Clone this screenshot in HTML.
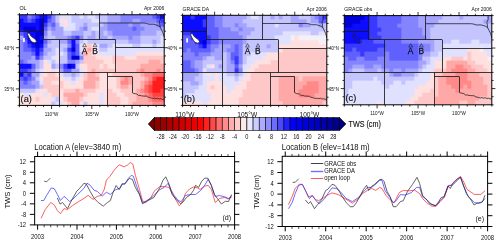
<!DOCTYPE html><html><head><meta charset="utf-8"><style>html,body{margin:0;padding:0;background:#fff;width:500px;height:246px;overflow:hidden}svg{display:block;will-change:transform}text{font-family:"Liberation Sans", sans-serif}</style></head><body>
<svg width="500" height="246" viewBox="0 0 500 246">
<svg x="19.4" y="14.75" width="144.79999999999998" height="90.65" viewBox="0 0 36 22" preserveAspectRatio="none" shape-rendering="crispEdges">
<rect x="0" y="0" width="1.02" height="1.02" fill="#3838ff"/>
<rect x="1" y="0" width="1.02" height="1.02" fill="#3838ff"/>
<rect x="2" y="0" width="1.02" height="1.02" fill="#8484ff"/>
<rect x="3" y="0" width="1.02" height="1.02" fill="#6060ff"/>
<rect x="4" y="0" width="1.02" height="1.02" fill="#3838ff"/>
<rect x="5" y="0" width="1.02" height="1.02" fill="#0c0cff"/>
<rect x="6" y="0" width="1.02" height="1.02" fill="#0c0cff"/>
<rect x="7" y="0" width="1.02" height="1.02" fill="#3838ff"/>
<rect x="8" y="0" width="1.02" height="1.02" fill="#8484ff"/>
<rect x="9" y="0" width="1.02" height="1.02" fill="#c4c4ff"/>
<rect x="10" y="0" width="1.02" height="1.02" fill="#e0e0ff"/>
<rect x="11" y="0" width="1.02" height="1.02" fill="#e0e0ff"/>
<rect x="12" y="0" width="1.02" height="1.02" fill="#e0e0ff"/>
<rect x="13" y="0" width="1.02" height="1.02" fill="#c4c4ff"/>
<rect x="14" y="0" width="1.02" height="1.02" fill="#c4c4ff"/>
<rect x="15" y="0" width="1.02" height="1.02" fill="#e0e0ff"/>
<rect x="16" y="0" width="1.02" height="1.02" fill="#c4c4ff"/>
<rect x="17" y="0" width="1.02" height="1.02" fill="#e0e0ff"/>
<rect x="18" y="0" width="1.02" height="1.02" fill="#e0e0ff"/>
<rect x="19" y="0" width="1.02" height="1.02" fill="#c4c4ff"/>
<rect x="20" y="0" width="1.02" height="1.02" fill="#c4c4ff"/>
<rect x="21" y="0" width="1.02" height="1.02" fill="#c4c4ff"/>
<rect x="22" y="0" width="1.02" height="1.02" fill="#a4a4ff"/>
<rect x="23" y="0" width="1.02" height="1.02" fill="#a4a4ff"/>
<rect x="24" y="0" width="1.02" height="1.02" fill="#a4a4ff"/>
<rect x="25" y="0" width="1.02" height="1.02" fill="#8484ff"/>
<rect x="26" y="0" width="1.02" height="1.02" fill="#8484ff"/>
<rect x="27" y="0" width="1.02" height="1.02" fill="#8484ff"/>
<rect x="28" y="0" width="1.02" height="1.02" fill="#8484ff"/>
<rect x="29" y="0" width="1.02" height="1.02" fill="#8484ff"/>
<rect x="30" y="0" width="1.02" height="1.02" fill="#8484ff"/>
<rect x="31" y="0" width="1.02" height="1.02" fill="#8484ff"/>
<rect x="32" y="0" width="1.02" height="1.02" fill="#8484ff"/>
<rect x="33" y="0" width="1.02" height="1.02" fill="#6060ff"/>
<rect x="34" y="0" width="1.02" height="1.02" fill="#3838ff"/>
<rect x="35" y="0" width="1.02" height="1.02" fill="#0c0cff"/>
<rect x="0" y="1" width="1.02" height="1.02" fill="#0c0cff"/>
<rect x="1" y="1" width="1.02" height="1.02" fill="#3838ff"/>
<rect x="2" y="1" width="1.02" height="1.02" fill="#6060ff"/>
<rect x="3" y="1" width="1.02" height="1.02" fill="#3838ff"/>
<rect x="4" y="1" width="1.02" height="1.02" fill="#0c0cff"/>
<rect x="5" y="1" width="1.02" height="1.02" fill="#0000d8"/>
<rect x="6" y="1" width="1.02" height="1.02" fill="#0c0cff"/>
<rect x="7" y="1" width="1.02" height="1.02" fill="#6060ff"/>
<rect x="8" y="1" width="1.02" height="1.02" fill="#8484ff"/>
<rect x="9" y="1" width="1.02" height="1.02" fill="#c4c4ff"/>
<rect x="10" y="1" width="1.02" height="1.02" fill="#ffe0e0"/>
<rect x="11" y="1" width="1.02" height="1.02" fill="#ffe0e0"/>
<rect x="12" y="1" width="1.02" height="1.02" fill="#e0e0ff"/>
<rect x="13" y="1" width="1.02" height="1.02" fill="#c4c4ff"/>
<rect x="14" y="1" width="1.02" height="1.02" fill="#c4c4ff"/>
<rect x="15" y="1" width="1.02" height="1.02" fill="#c4c4ff"/>
<rect x="16" y="1" width="1.02" height="1.02" fill="#c4c4ff"/>
<rect x="17" y="1" width="1.02" height="1.02" fill="#c4c4ff"/>
<rect x="18" y="1" width="1.02" height="1.02" fill="#e0e0ff"/>
<rect x="19" y="1" width="1.02" height="1.02" fill="#e0e0ff"/>
<rect x="20" y="1" width="1.02" height="1.02" fill="#c4c4ff"/>
<rect x="21" y="1" width="1.02" height="1.02" fill="#c4c4ff"/>
<rect x="22" y="1" width="1.02" height="1.02" fill="#a4a4ff"/>
<rect x="23" y="1" width="1.02" height="1.02" fill="#a4a4ff"/>
<rect x="24" y="1" width="1.02" height="1.02" fill="#a4a4ff"/>
<rect x="25" y="1" width="1.02" height="1.02" fill="#8484ff"/>
<rect x="26" y="1" width="1.02" height="1.02" fill="#8484ff"/>
<rect x="27" y="1" width="1.02" height="1.02" fill="#8484ff"/>
<rect x="28" y="1" width="1.02" height="1.02" fill="#a4a4ff"/>
<rect x="29" y="1" width="1.02" height="1.02" fill="#a4a4ff"/>
<rect x="30" y="1" width="1.02" height="1.02" fill="#8484ff"/>
<rect x="31" y="1" width="1.02" height="1.02" fill="#8484ff"/>
<rect x="32" y="1" width="1.02" height="1.02" fill="#8484ff"/>
<rect x="33" y="1" width="1.02" height="1.02" fill="#8484ff"/>
<rect x="34" y="1" width="1.02" height="1.02" fill="#6060ff"/>
<rect x="35" y="1" width="1.02" height="1.02" fill="#3838ff"/>
<rect x="0" y="2" width="1.02" height="1.02" fill="#0c0cff"/>
<rect x="1" y="2" width="1.02" height="1.02" fill="#0c0cff"/>
<rect x="2" y="2" width="1.02" height="1.02" fill="#0c0cff"/>
<rect x="3" y="2" width="1.02" height="1.02" fill="#0c0cff"/>
<rect x="4" y="2" width="1.02" height="1.02" fill="#0c0cff"/>
<rect x="5" y="2" width="1.02" height="1.02" fill="#0000d8"/>
<rect x="6" y="2" width="1.02" height="1.02" fill="#3838ff"/>
<rect x="7" y="2" width="1.02" height="1.02" fill="#8484ff"/>
<rect x="8" y="2" width="1.02" height="1.02" fill="#6060ff"/>
<rect x="9" y="2" width="1.02" height="1.02" fill="#a4a4ff"/>
<rect x="10" y="2" width="1.02" height="1.02" fill="#e0e0ff"/>
<rect x="11" y="2" width="1.02" height="1.02" fill="#ffe0e0"/>
<rect x="12" y="2" width="1.02" height="1.02" fill="#e0e0ff"/>
<rect x="13" y="2" width="1.02" height="1.02" fill="#e0e0ff"/>
<rect x="14" y="2" width="1.02" height="1.02" fill="#c4c4ff"/>
<rect x="15" y="2" width="1.02" height="1.02" fill="#c4c4ff"/>
<rect x="16" y="2" width="1.02" height="1.02" fill="#a4a4ff"/>
<rect x="17" y="2" width="1.02" height="1.02" fill="#c4c4ff"/>
<rect x="18" y="2" width="1.02" height="1.02" fill="#c4c4ff"/>
<rect x="19" y="2" width="1.02" height="1.02" fill="#c4c4ff"/>
<rect x="20" y="2" width="1.02" height="1.02" fill="#c4c4ff"/>
<rect x="21" y="2" width="1.02" height="1.02" fill="#a4a4ff"/>
<rect x="22" y="2" width="1.02" height="1.02" fill="#8484ff"/>
<rect x="23" y="2" width="1.02" height="1.02" fill="#8484ff"/>
<rect x="24" y="2" width="1.02" height="1.02" fill="#8484ff"/>
<rect x="25" y="2" width="1.02" height="1.02" fill="#8484ff"/>
<rect x="26" y="2" width="1.02" height="1.02" fill="#8484ff"/>
<rect x="27" y="2" width="1.02" height="1.02" fill="#a4a4ff"/>
<rect x="28" y="2" width="1.02" height="1.02" fill="#8484ff"/>
<rect x="29" y="2" width="1.02" height="1.02" fill="#8484ff"/>
<rect x="30" y="2" width="1.02" height="1.02" fill="#a4a4ff"/>
<rect x="31" y="2" width="1.02" height="1.02" fill="#a4a4ff"/>
<rect x="32" y="2" width="1.02" height="1.02" fill="#a4a4ff"/>
<rect x="33" y="2" width="1.02" height="1.02" fill="#a4a4ff"/>
<rect x="34" y="2" width="1.02" height="1.02" fill="#8484ff"/>
<rect x="35" y="2" width="1.02" height="1.02" fill="#6060ff"/>
<rect x="0" y="3" width="1.02" height="1.02" fill="#0c0cff"/>
<rect x="1" y="3" width="1.02" height="1.02" fill="#0000d8"/>
<rect x="2" y="3" width="1.02" height="1.02" fill="#0000d8"/>
<rect x="3" y="3" width="1.02" height="1.02" fill="#0000d8"/>
<rect x="4" y="3" width="1.02" height="1.02" fill="#0c0cff"/>
<rect x="5" y="3" width="1.02" height="1.02" fill="#0000d8"/>
<rect x="6" y="3" width="1.02" height="1.02" fill="#6060ff"/>
<rect x="7" y="3" width="1.02" height="1.02" fill="#a4a4ff"/>
<rect x="8" y="3" width="1.02" height="1.02" fill="#8484ff"/>
<rect x="9" y="3" width="1.02" height="1.02" fill="#a4a4ff"/>
<rect x="10" y="3" width="1.02" height="1.02" fill="#a4a4ff"/>
<rect x="11" y="3" width="1.02" height="1.02" fill="#e0e0ff"/>
<rect x="12" y="3" width="1.02" height="1.02" fill="#e0e0ff"/>
<rect x="13" y="3" width="1.02" height="1.02" fill="#e0e0ff"/>
<rect x="14" y="3" width="1.02" height="1.02" fill="#c4c4ff"/>
<rect x="15" y="3" width="1.02" height="1.02" fill="#a4a4ff"/>
<rect x="16" y="3" width="1.02" height="1.02" fill="#8484ff"/>
<rect x="17" y="3" width="1.02" height="1.02" fill="#c4c4ff"/>
<rect x="18" y="3" width="1.02" height="1.02" fill="#e0e0ff"/>
<rect x="19" y="3" width="1.02" height="1.02" fill="#e0e0ff"/>
<rect x="20" y="3" width="1.02" height="1.02" fill="#a4a4ff"/>
<rect x="21" y="3" width="1.02" height="1.02" fill="#a4a4ff"/>
<rect x="22" y="3" width="1.02" height="1.02" fill="#8484ff"/>
<rect x="23" y="3" width="1.02" height="1.02" fill="#8484ff"/>
<rect x="24" y="3" width="1.02" height="1.02" fill="#8484ff"/>
<rect x="25" y="3" width="1.02" height="1.02" fill="#8484ff"/>
<rect x="26" y="3" width="1.02" height="1.02" fill="#8484ff"/>
<rect x="27" y="3" width="1.02" height="1.02" fill="#8484ff"/>
<rect x="28" y="3" width="1.02" height="1.02" fill="#6060ff"/>
<rect x="29" y="3" width="1.02" height="1.02" fill="#8484ff"/>
<rect x="30" y="3" width="1.02" height="1.02" fill="#8484ff"/>
<rect x="31" y="3" width="1.02" height="1.02" fill="#a4a4ff"/>
<rect x="32" y="3" width="1.02" height="1.02" fill="#a4a4ff"/>
<rect x="33" y="3" width="1.02" height="1.02" fill="#a4a4ff"/>
<rect x="34" y="3" width="1.02" height="1.02" fill="#a4a4ff"/>
<rect x="35" y="3" width="1.02" height="1.02" fill="#a4a4ff"/>
<rect x="0" y="4" width="1.02" height="1.02" fill="#6060ff"/>
<rect x="1" y="4" width="1.02" height="1.02" fill="#3838ff"/>
<rect x="2" y="4" width="1.02" height="1.02" fill="#0c0cff"/>
<rect x="3" y="4" width="1.02" height="1.02" fill="#0c0cff"/>
<rect x="4" y="4" width="1.02" height="1.02" fill="#0000d8"/>
<rect x="5" y="4" width="1.02" height="1.02" fill="#0000d8"/>
<rect x="6" y="4" width="1.02" height="1.02" fill="#8484ff"/>
<rect x="7" y="4" width="1.02" height="1.02" fill="#c4c4ff"/>
<rect x="8" y="4" width="1.02" height="1.02" fill="#a4a4ff"/>
<rect x="9" y="4" width="1.02" height="1.02" fill="#a4a4ff"/>
<rect x="10" y="4" width="1.02" height="1.02" fill="#a4a4ff"/>
<rect x="11" y="4" width="1.02" height="1.02" fill="#c4c4ff"/>
<rect x="12" y="4" width="1.02" height="1.02" fill="#c4c4ff"/>
<rect x="13" y="4" width="1.02" height="1.02" fill="#a4a4ff"/>
<rect x="14" y="4" width="1.02" height="1.02" fill="#a4a4ff"/>
<rect x="15" y="4" width="1.02" height="1.02" fill="#a4a4ff"/>
<rect x="16" y="4" width="1.02" height="1.02" fill="#c4c4ff"/>
<rect x="17" y="4" width="1.02" height="1.02" fill="#c4c4ff"/>
<rect x="18" y="4" width="1.02" height="1.02" fill="#a4a4ff"/>
<rect x="19" y="4" width="1.02" height="1.02" fill="#c4c4ff"/>
<rect x="20" y="4" width="1.02" height="1.02" fill="#a4a4ff"/>
<rect x="21" y="4" width="1.02" height="1.02" fill="#c4c4ff"/>
<rect x="22" y="4" width="1.02" height="1.02" fill="#a4a4ff"/>
<rect x="23" y="4" width="1.02" height="1.02" fill="#8484ff"/>
<rect x="24" y="4" width="1.02" height="1.02" fill="#8484ff"/>
<rect x="25" y="4" width="1.02" height="1.02" fill="#8484ff"/>
<rect x="26" y="4" width="1.02" height="1.02" fill="#8484ff"/>
<rect x="27" y="4" width="1.02" height="1.02" fill="#8484ff"/>
<rect x="28" y="4" width="1.02" height="1.02" fill="#8484ff"/>
<rect x="29" y="4" width="1.02" height="1.02" fill="#8484ff"/>
<rect x="30" y="4" width="1.02" height="1.02" fill="#a4a4ff"/>
<rect x="31" y="4" width="1.02" height="1.02" fill="#a4a4ff"/>
<rect x="32" y="4" width="1.02" height="1.02" fill="#a4a4ff"/>
<rect x="33" y="4" width="1.02" height="1.02" fill="#a4a4ff"/>
<rect x="34" y="4" width="1.02" height="1.02" fill="#c4c4ff"/>
<rect x="35" y="4" width="1.02" height="1.02" fill="#c4c4ff"/>
<rect x="0" y="5" width="1.02" height="1.02" fill="#a4a4ff"/>
<rect x="1" y="5" width="1.02" height="1.02" fill="#3838ff"/>
<rect x="2" y="5" width="1.02" height="1.02" fill="#0c0cff"/>
<rect x="3" y="5" width="1.02" height="1.02" fill="#0c0cff"/>
<rect x="4" y="5" width="1.02" height="1.02" fill="#0000d8"/>
<rect x="5" y="5" width="1.02" height="1.02" fill="#0c0cff"/>
<rect x="6" y="5" width="1.02" height="1.02" fill="#a4a4ff"/>
<rect x="7" y="5" width="1.02" height="1.02" fill="#c4c4ff"/>
<rect x="8" y="5" width="1.02" height="1.02" fill="#c4c4ff"/>
<rect x="9" y="5" width="1.02" height="1.02" fill="#a4a4ff"/>
<rect x="10" y="5" width="1.02" height="1.02" fill="#a4a4ff"/>
<rect x="11" y="5" width="1.02" height="1.02" fill="#a4a4ff"/>
<rect x="12" y="5" width="1.02" height="1.02" fill="#8484ff"/>
<rect x="13" y="5" width="1.02" height="1.02" fill="#6060ff"/>
<rect x="14" y="5" width="1.02" height="1.02" fill="#3838ff"/>
<rect x="15" y="5" width="1.02" height="1.02" fill="#8484ff"/>
<rect x="16" y="5" width="1.02" height="1.02" fill="#c4c4ff"/>
<rect x="17" y="5" width="1.02" height="1.02" fill="#a4a4ff"/>
<rect x="18" y="5" width="1.02" height="1.02" fill="#a4a4ff"/>
<rect x="19" y="5" width="1.02" height="1.02" fill="#c4c4ff"/>
<rect x="20" y="5" width="1.02" height="1.02" fill="#a4a4ff"/>
<rect x="21" y="5" width="1.02" height="1.02" fill="#a4a4ff"/>
<rect x="22" y="5" width="1.02" height="1.02" fill="#c4c4ff"/>
<rect x="23" y="5" width="1.02" height="1.02" fill="#a4a4ff"/>
<rect x="24" y="5" width="1.02" height="1.02" fill="#a4a4ff"/>
<rect x="25" y="5" width="1.02" height="1.02" fill="#a4a4ff"/>
<rect x="26" y="5" width="1.02" height="1.02" fill="#a4a4ff"/>
<rect x="27" y="5" width="1.02" height="1.02" fill="#8484ff"/>
<rect x="28" y="5" width="1.02" height="1.02" fill="#a4a4ff"/>
<rect x="29" y="5" width="1.02" height="1.02" fill="#a4a4ff"/>
<rect x="30" y="5" width="1.02" height="1.02" fill="#c4c4ff"/>
<rect x="31" y="5" width="1.02" height="1.02" fill="#c4c4ff"/>
<rect x="32" y="5" width="1.02" height="1.02" fill="#c4c4ff"/>
<rect x="33" y="5" width="1.02" height="1.02" fill="#c4c4ff"/>
<rect x="34" y="5" width="1.02" height="1.02" fill="#c4c4ff"/>
<rect x="35" y="5" width="1.02" height="1.02" fill="#e0e0ff"/>
<rect x="0" y="6" width="1.02" height="1.02" fill="#8484ff"/>
<rect x="1" y="6" width="1.02" height="1.02" fill="#6060ff"/>
<rect x="2" y="6" width="1.02" height="1.02" fill="#0c0cff"/>
<rect x="3" y="6" width="1.02" height="1.02" fill="#0000d8"/>
<rect x="4" y="6" width="1.02" height="1.02" fill="#0000d8"/>
<rect x="5" y="6" width="1.02" height="1.02" fill="#0000d8"/>
<rect x="6" y="6" width="1.02" height="1.02" fill="#6060ff"/>
<rect x="7" y="6" width="1.02" height="1.02" fill="#a4a4ff"/>
<rect x="8" y="6" width="1.02" height="1.02" fill="#c4c4ff"/>
<rect x="9" y="6" width="1.02" height="1.02" fill="#c4c4ff"/>
<rect x="10" y="6" width="1.02" height="1.02" fill="#a4a4ff"/>
<rect x="11" y="6" width="1.02" height="1.02" fill="#a4a4ff"/>
<rect x="12" y="6" width="1.02" height="1.02" fill="#6060ff"/>
<rect x="13" y="6" width="1.02" height="1.02" fill="#0c0cff"/>
<rect x="14" y="6" width="1.02" height="1.02" fill="#8484ff"/>
<rect x="15" y="6" width="1.02" height="1.02" fill="#c4c4ff"/>
<rect x="16" y="6" width="1.02" height="1.02" fill="#e0e0ff"/>
<rect x="17" y="6" width="1.02" height="1.02" fill="#c4c4ff"/>
<rect x="18" y="6" width="1.02" height="1.02" fill="#c4c4ff"/>
<rect x="19" y="6" width="1.02" height="1.02" fill="#c4c4ff"/>
<rect x="20" y="6" width="1.02" height="1.02" fill="#c4c4ff"/>
<rect x="21" y="6" width="1.02" height="1.02" fill="#c4c4ff"/>
<rect x="22" y="6" width="1.02" height="1.02" fill="#c4c4ff"/>
<rect x="23" y="6" width="1.02" height="1.02" fill="#c4c4ff"/>
<rect x="24" y="6" width="1.02" height="1.02" fill="#c4c4ff"/>
<rect x="25" y="6" width="1.02" height="1.02" fill="#c4c4ff"/>
<rect x="26" y="6" width="1.02" height="1.02" fill="#c4c4ff"/>
<rect x="27" y="6" width="1.02" height="1.02" fill="#a4a4ff"/>
<rect x="28" y="6" width="1.02" height="1.02" fill="#a4a4ff"/>
<rect x="29" y="6" width="1.02" height="1.02" fill="#a4a4ff"/>
<rect x="30" y="6" width="1.02" height="1.02" fill="#c4c4ff"/>
<rect x="31" y="6" width="1.02" height="1.02" fill="#c4c4ff"/>
<rect x="32" y="6" width="1.02" height="1.02" fill="#c4c4ff"/>
<rect x="33" y="6" width="1.02" height="1.02" fill="#a4a4ff"/>
<rect x="34" y="6" width="1.02" height="1.02" fill="#c4c4ff"/>
<rect x="35" y="6" width="1.02" height="1.02" fill="#e0e0ff"/>
<rect x="0" y="7" width="1.02" height="1.02" fill="#8484ff"/>
<rect x="1" y="7" width="1.02" height="1.02" fill="#6060ff"/>
<rect x="2" y="7" width="1.02" height="1.02" fill="#3838ff"/>
<rect x="3" y="7" width="1.02" height="1.02" fill="#0c0cff"/>
<rect x="4" y="7" width="1.02" height="1.02" fill="#0000d8"/>
<rect x="5" y="7" width="1.02" height="1.02" fill="#0c0cff"/>
<rect x="6" y="7" width="1.02" height="1.02" fill="#8484ff"/>
<rect x="7" y="7" width="1.02" height="1.02" fill="#c4c4ff"/>
<rect x="8" y="7" width="1.02" height="1.02" fill="#c4c4ff"/>
<rect x="9" y="7" width="1.02" height="1.02" fill="#c4c4ff"/>
<rect x="10" y="7" width="1.02" height="1.02" fill="#c4c4ff"/>
<rect x="11" y="7" width="1.02" height="1.02" fill="#c4c4ff"/>
<rect x="12" y="7" width="1.02" height="1.02" fill="#8484ff"/>
<rect x="13" y="7" width="1.02" height="1.02" fill="#0c0cff"/>
<rect x="14" y="7" width="1.02" height="1.02" fill="#6060ff"/>
<rect x="15" y="7" width="1.02" height="1.02" fill="#e0e0ff"/>
<rect x="16" y="7" width="1.02" height="1.02" fill="#ffe0e0"/>
<rect x="17" y="7" width="1.02" height="1.02" fill="#ffc8c8"/>
<rect x="18" y="7" width="1.02" height="1.02" fill="#ffe0e0"/>
<rect x="19" y="7" width="1.02" height="1.02" fill="#e0e0ff"/>
<rect x="20" y="7" width="1.02" height="1.02" fill="#a4a4ff"/>
<rect x="21" y="7" width="1.02" height="1.02" fill="#a4a4ff"/>
<rect x="22" y="7" width="1.02" height="1.02" fill="#c4c4ff"/>
<rect x="23" y="7" width="1.02" height="1.02" fill="#e0e0ff"/>
<rect x="24" y="7" width="1.02" height="1.02" fill="#e0e0ff"/>
<rect x="25" y="7" width="1.02" height="1.02" fill="#e0e0ff"/>
<rect x="26" y="7" width="1.02" height="1.02" fill="#e0e0ff"/>
<rect x="27" y="7" width="1.02" height="1.02" fill="#e0e0ff"/>
<rect x="28" y="7" width="1.02" height="1.02" fill="#c4c4ff"/>
<rect x="29" y="7" width="1.02" height="1.02" fill="#c4c4ff"/>
<rect x="30" y="7" width="1.02" height="1.02" fill="#e0e0ff"/>
<rect x="31" y="7" width="1.02" height="1.02" fill="#e0e0ff"/>
<rect x="32" y="7" width="1.02" height="1.02" fill="#e0e0ff"/>
<rect x="33" y="7" width="1.02" height="1.02" fill="#c4c4ff"/>
<rect x="34" y="7" width="1.02" height="1.02" fill="#e0e0ff"/>
<rect x="35" y="7" width="1.02" height="1.02" fill="#e0e0ff"/>
<rect x="0" y="8" width="1.02" height="1.02" fill="#8484ff"/>
<rect x="1" y="8" width="1.02" height="1.02" fill="#6060ff"/>
<rect x="2" y="8" width="1.02" height="1.02" fill="#6060ff"/>
<rect x="3" y="8" width="1.02" height="1.02" fill="#3838ff"/>
<rect x="4" y="8" width="1.02" height="1.02" fill="#0c0cff"/>
<rect x="5" y="8" width="1.02" height="1.02" fill="#3838ff"/>
<rect x="6" y="8" width="1.02" height="1.02" fill="#a4a4ff"/>
<rect x="7" y="8" width="1.02" height="1.02" fill="#a4a4ff"/>
<rect x="8" y="8" width="1.02" height="1.02" fill="#c4c4ff"/>
<rect x="9" y="8" width="1.02" height="1.02" fill="#e0e0ff"/>
<rect x="10" y="8" width="1.02" height="1.02" fill="#c4c4ff"/>
<rect x="11" y="8" width="1.02" height="1.02" fill="#a4a4ff"/>
<rect x="12" y="8" width="1.02" height="1.02" fill="#3838ff"/>
<rect x="13" y="8" width="1.02" height="1.02" fill="#0000d8"/>
<rect x="14" y="8" width="1.02" height="1.02" fill="#6060ff"/>
<rect x="15" y="8" width="1.02" height="1.02" fill="#e0e0ff"/>
<rect x="16" y="8" width="1.02" height="1.02" fill="#ffc8c8"/>
<rect x="17" y="8" width="1.02" height="1.02" fill="#ffa8a8"/>
<rect x="18" y="8" width="1.02" height="1.02" fill="#ffe0e0"/>
<rect x="19" y="8" width="1.02" height="1.02" fill="#e0e0ff"/>
<rect x="20" y="8" width="1.02" height="1.02" fill="#c4c4ff"/>
<rect x="21" y="8" width="1.02" height="1.02" fill="#c4c4ff"/>
<rect x="22" y="8" width="1.02" height="1.02" fill="#e0e0ff"/>
<rect x="23" y="8" width="1.02" height="1.02" fill="#e0e0ff"/>
<rect x="24" y="8" width="1.02" height="1.02" fill="#e0e0ff"/>
<rect x="25" y="8" width="1.02" height="1.02" fill="#e0e0ff"/>
<rect x="26" y="8" width="1.02" height="1.02" fill="#e0e0ff"/>
<rect x="27" y="8" width="1.02" height="1.02" fill="#e0e0ff"/>
<rect x="28" y="8" width="1.02" height="1.02" fill="#e0e0ff"/>
<rect x="29" y="8" width="1.02" height="1.02" fill="#e0e0ff"/>
<rect x="30" y="8" width="1.02" height="1.02" fill="#e0e0ff"/>
<rect x="31" y="8" width="1.02" height="1.02" fill="#e0e0ff"/>
<rect x="32" y="8" width="1.02" height="1.02" fill="#e0e0ff"/>
<rect x="33" y="8" width="1.02" height="1.02" fill="#e0e0ff"/>
<rect x="34" y="8" width="1.02" height="1.02" fill="#e0e0ff"/>
<rect x="35" y="8" width="1.02" height="1.02" fill="#e0e0ff"/>
<rect x="0" y="9" width="1.02" height="1.02" fill="#8484ff"/>
<rect x="1" y="9" width="1.02" height="1.02" fill="#8484ff"/>
<rect x="2" y="9" width="1.02" height="1.02" fill="#8484ff"/>
<rect x="3" y="9" width="1.02" height="1.02" fill="#6060ff"/>
<rect x="4" y="9" width="1.02" height="1.02" fill="#0c0cff"/>
<rect x="5" y="9" width="1.02" height="1.02" fill="#6060ff"/>
<rect x="6" y="9" width="1.02" height="1.02" fill="#a4a4ff"/>
<rect x="7" y="9" width="1.02" height="1.02" fill="#c4c4ff"/>
<rect x="8" y="9" width="1.02" height="1.02" fill="#c4c4ff"/>
<rect x="9" y="9" width="1.02" height="1.02" fill="#e0e0ff"/>
<rect x="10" y="9" width="1.02" height="1.02" fill="#e0e0ff"/>
<rect x="11" y="9" width="1.02" height="1.02" fill="#c4c4ff"/>
<rect x="12" y="9" width="1.02" height="1.02" fill="#6060ff"/>
<rect x="13" y="9" width="1.02" height="1.02" fill="#3838ff"/>
<rect x="14" y="9" width="1.02" height="1.02" fill="#6060ff"/>
<rect x="15" y="9" width="1.02" height="1.02" fill="#c4c4ff"/>
<rect x="16" y="9" width="1.02" height="1.02" fill="#ffa8a8"/>
<rect x="17" y="9" width="1.02" height="1.02" fill="#ffc8c8"/>
<rect x="18" y="9" width="1.02" height="1.02" fill="#ffe0e0"/>
<rect x="19" y="9" width="1.02" height="1.02" fill="#ffe0e0"/>
<rect x="20" y="9" width="1.02" height="1.02" fill="#e0e0ff"/>
<rect x="21" y="9" width="1.02" height="1.02" fill="#e0e0ff"/>
<rect x="22" y="9" width="1.02" height="1.02" fill="#e0e0ff"/>
<rect x="23" y="9" width="1.02" height="1.02" fill="#e0e0ff"/>
<rect x="24" y="9" width="1.02" height="1.02" fill="#e0e0ff"/>
<rect x="25" y="9" width="1.02" height="1.02" fill="#e0e0ff"/>
<rect x="26" y="9" width="1.02" height="1.02" fill="#e0e0ff"/>
<rect x="27" y="9" width="1.02" height="1.02" fill="#e0e0ff"/>
<rect x="28" y="9" width="1.02" height="1.02" fill="#e0e0ff"/>
<rect x="29" y="9" width="1.02" height="1.02" fill="#ffe0e0"/>
<rect x="30" y="9" width="1.02" height="1.02" fill="#ffe0e0"/>
<rect x="31" y="9" width="1.02" height="1.02" fill="#ffe0e0"/>
<rect x="32" y="9" width="1.02" height="1.02" fill="#ffe0e0"/>
<rect x="33" y="9" width="1.02" height="1.02" fill="#ffe0e0"/>
<rect x="34" y="9" width="1.02" height="1.02" fill="#ffe0e0"/>
<rect x="35" y="9" width="1.02" height="1.02" fill="#ffe0e0"/>
<rect x="0" y="10" width="1.02" height="1.02" fill="#8484ff"/>
<rect x="1" y="10" width="1.02" height="1.02" fill="#8484ff"/>
<rect x="2" y="10" width="1.02" height="1.02" fill="#8484ff"/>
<rect x="3" y="10" width="1.02" height="1.02" fill="#a4a4ff"/>
<rect x="4" y="10" width="1.02" height="1.02" fill="#3838ff"/>
<rect x="5" y="10" width="1.02" height="1.02" fill="#8484ff"/>
<rect x="6" y="10" width="1.02" height="1.02" fill="#c4c4ff"/>
<rect x="7" y="10" width="1.02" height="1.02" fill="#c4c4ff"/>
<rect x="8" y="10" width="1.02" height="1.02" fill="#e0e0ff"/>
<rect x="9" y="10" width="1.02" height="1.02" fill="#ffe0e0"/>
<rect x="10" y="10" width="1.02" height="1.02" fill="#c4c4ff"/>
<rect x="11" y="10" width="1.02" height="1.02" fill="#c4c4ff"/>
<rect x="12" y="10" width="1.02" height="1.02" fill="#6060ff"/>
<rect x="13" y="10" width="1.02" height="1.02" fill="#0000d8"/>
<rect x="14" y="10" width="1.02" height="1.02" fill="#0000d8"/>
<rect x="15" y="10" width="1.02" height="1.02" fill="#8484ff"/>
<rect x="16" y="10" width="1.02" height="1.02" fill="#ffc8c8"/>
<rect x="17" y="10" width="1.02" height="1.02" fill="#ffc8c8"/>
<rect x="18" y="10" width="1.02" height="1.02" fill="#ffc8c8"/>
<rect x="19" y="10" width="1.02" height="1.02" fill="#ffe0e0"/>
<rect x="20" y="10" width="1.02" height="1.02" fill="#ffe0e0"/>
<rect x="21" y="10" width="1.02" height="1.02" fill="#ffe0e0"/>
<rect x="22" y="10" width="1.02" height="1.02" fill="#ffe0e0"/>
<rect x="23" y="10" width="1.02" height="1.02" fill="#ffc8c8"/>
<rect x="24" y="10" width="1.02" height="1.02" fill="#ffc8c8"/>
<rect x="25" y="10" width="1.02" height="1.02" fill="#ffc8c8"/>
<rect x="26" y="10" width="1.02" height="1.02" fill="#ffe0e0"/>
<rect x="27" y="10" width="1.02" height="1.02" fill="#ffe0e0"/>
<rect x="28" y="10" width="1.02" height="1.02" fill="#ffe0e0"/>
<rect x="29" y="10" width="1.02" height="1.02" fill="#ffc8c8"/>
<rect x="30" y="10" width="1.02" height="1.02" fill="#ffc8c8"/>
<rect x="31" y="10" width="1.02" height="1.02" fill="#ffc8c8"/>
<rect x="32" y="10" width="1.02" height="1.02" fill="#ffc8c8"/>
<rect x="33" y="10" width="1.02" height="1.02" fill="#ffc8c8"/>
<rect x="34" y="10" width="1.02" height="1.02" fill="#ffc8c8"/>
<rect x="35" y="10" width="1.02" height="1.02" fill="#ffc8c8"/>
<rect x="0" y="11" width="1.02" height="1.02" fill="#6060ff"/>
<rect x="1" y="11" width="1.02" height="1.02" fill="#8484ff"/>
<rect x="2" y="11" width="1.02" height="1.02" fill="#a4a4ff"/>
<rect x="3" y="11" width="1.02" height="1.02" fill="#a4a4ff"/>
<rect x="4" y="11" width="1.02" height="1.02" fill="#a4a4ff"/>
<rect x="5" y="11" width="1.02" height="1.02" fill="#c4c4ff"/>
<rect x="6" y="11" width="1.02" height="1.02" fill="#ffe0e0"/>
<rect x="7" y="11" width="1.02" height="1.02" fill="#e0e0ff"/>
<rect x="8" y="11" width="1.02" height="1.02" fill="#c4c4ff"/>
<rect x="9" y="11" width="1.02" height="1.02" fill="#e0e0ff"/>
<rect x="10" y="11" width="1.02" height="1.02" fill="#c4c4ff"/>
<rect x="11" y="11" width="1.02" height="1.02" fill="#c4c4ff"/>
<rect x="12" y="11" width="1.02" height="1.02" fill="#8484ff"/>
<rect x="13" y="11" width="1.02" height="1.02" fill="#8484ff"/>
<rect x="14" y="11" width="1.02" height="1.02" fill="#a4a4ff"/>
<rect x="15" y="11" width="1.02" height="1.02" fill="#c4c4ff"/>
<rect x="16" y="11" width="1.02" height="1.02" fill="#ffc8c8"/>
<rect x="17" y="11" width="1.02" height="1.02" fill="#ffc8c8"/>
<rect x="18" y="11" width="1.02" height="1.02" fill="#ffc8c8"/>
<rect x="19" y="11" width="1.02" height="1.02" fill="#ffc8c8"/>
<rect x="20" y="11" width="1.02" height="1.02" fill="#ffc8c8"/>
<rect x="21" y="11" width="1.02" height="1.02" fill="#ffe0e0"/>
<rect x="22" y="11" width="1.02" height="1.02" fill="#ffe0e0"/>
<rect x="23" y="11" width="1.02" height="1.02" fill="#ffc8c8"/>
<rect x="24" y="11" width="1.02" height="1.02" fill="#ffc8c8"/>
<rect x="25" y="11" width="1.02" height="1.02" fill="#ffc8c8"/>
<rect x="26" y="11" width="1.02" height="1.02" fill="#ffc8c8"/>
<rect x="27" y="11" width="1.02" height="1.02" fill="#ffc8c8"/>
<rect x="28" y="11" width="1.02" height="1.02" fill="#ffc8c8"/>
<rect x="29" y="11" width="1.02" height="1.02" fill="#ffc8c8"/>
<rect x="30" y="11" width="1.02" height="1.02" fill="#ffc8c8"/>
<rect x="31" y="11" width="1.02" height="1.02" fill="#ffc8c8"/>
<rect x="32" y="11" width="1.02" height="1.02" fill="#ffa8a8"/>
<rect x="33" y="11" width="1.02" height="1.02" fill="#ffa8a8"/>
<rect x="34" y="11" width="1.02" height="1.02" fill="#ffa8a8"/>
<rect x="35" y="11" width="1.02" height="1.02" fill="#ffc8c8"/>
<rect x="0" y="12" width="1.02" height="1.02" fill="#0c0cff"/>
<rect x="1" y="12" width="1.02" height="1.02" fill="#0c0cff"/>
<rect x="2" y="12" width="1.02" height="1.02" fill="#0c0cff"/>
<rect x="3" y="12" width="1.02" height="1.02" fill="#6060ff"/>
<rect x="4" y="12" width="1.02" height="1.02" fill="#a4a4ff"/>
<rect x="5" y="12" width="1.02" height="1.02" fill="#c4c4ff"/>
<rect x="6" y="12" width="1.02" height="1.02" fill="#ffe0e0"/>
<rect x="7" y="12" width="1.02" height="1.02" fill="#ffe0e0"/>
<rect x="8" y="12" width="1.02" height="1.02" fill="#a4a4ff"/>
<rect x="9" y="12" width="1.02" height="1.02" fill="#c4c4ff"/>
<rect x="10" y="12" width="1.02" height="1.02" fill="#8484ff"/>
<rect x="11" y="12" width="1.02" height="1.02" fill="#3838ff"/>
<rect x="12" y="12" width="1.02" height="1.02" fill="#0000d8"/>
<rect x="13" y="12" width="1.02" height="1.02" fill="#0c0cff"/>
<rect x="14" y="12" width="1.02" height="1.02" fill="#c4c4ff"/>
<rect x="15" y="12" width="1.02" height="1.02" fill="#ffe0e0"/>
<rect x="16" y="12" width="1.02" height="1.02" fill="#ffe0e0"/>
<rect x="17" y="12" width="1.02" height="1.02" fill="#ffc8c8"/>
<rect x="18" y="12" width="1.02" height="1.02" fill="#ffc8c8"/>
<rect x="19" y="12" width="1.02" height="1.02" fill="#ffc8c8"/>
<rect x="20" y="12" width="1.02" height="1.02" fill="#ffe0e0"/>
<rect x="21" y="12" width="1.02" height="1.02" fill="#ffc8c8"/>
<rect x="22" y="12" width="1.02" height="1.02" fill="#ffe0e0"/>
<rect x="23" y="12" width="1.02" height="1.02" fill="#ffe0e0"/>
<rect x="24" y="12" width="1.02" height="1.02" fill="#ffc8c8"/>
<rect x="25" y="12" width="1.02" height="1.02" fill="#ffc8c8"/>
<rect x="26" y="12" width="1.02" height="1.02" fill="#ffc8c8"/>
<rect x="27" y="12" width="1.02" height="1.02" fill="#ffc8c8"/>
<rect x="28" y="12" width="1.02" height="1.02" fill="#ffc8c8"/>
<rect x="29" y="12" width="1.02" height="1.02" fill="#ffc8c8"/>
<rect x="30" y="12" width="1.02" height="1.02" fill="#ffa8a8"/>
<rect x="31" y="12" width="1.02" height="1.02" fill="#ffa8a8"/>
<rect x="32" y="12" width="1.02" height="1.02" fill="#ffa8a8"/>
<rect x="33" y="12" width="1.02" height="1.02" fill="#ffa8a8"/>
<rect x="34" y="12" width="1.02" height="1.02" fill="#ffa8a8"/>
<rect x="35" y="12" width="1.02" height="1.02" fill="#ffa8a8"/>
<rect x="0" y="13" width="1.02" height="1.02" fill="#3838ff"/>
<rect x="1" y="13" width="1.02" height="1.02" fill="#3838ff"/>
<rect x="2" y="13" width="1.02" height="1.02" fill="#6060ff"/>
<rect x="3" y="13" width="1.02" height="1.02" fill="#8484ff"/>
<rect x="4" y="13" width="1.02" height="1.02" fill="#c4c4ff"/>
<rect x="5" y="13" width="1.02" height="1.02" fill="#e0e0ff"/>
<rect x="6" y="13" width="1.02" height="1.02" fill="#ffe0e0"/>
<rect x="7" y="13" width="1.02" height="1.02" fill="#ffe0e0"/>
<rect x="8" y="13" width="1.02" height="1.02" fill="#e0e0ff"/>
<rect x="9" y="13" width="1.02" height="1.02" fill="#ffe0e0"/>
<rect x="10" y="13" width="1.02" height="1.02" fill="#a4a4ff"/>
<rect x="11" y="13" width="1.02" height="1.02" fill="#6060ff"/>
<rect x="12" y="13" width="1.02" height="1.02" fill="#6060ff"/>
<rect x="13" y="13" width="1.02" height="1.02" fill="#a4a4ff"/>
<rect x="14" y="13" width="1.02" height="1.02" fill="#a4a4ff"/>
<rect x="15" y="13" width="1.02" height="1.02" fill="#e0e0ff"/>
<rect x="16" y="13" width="1.02" height="1.02" fill="#ffe0e0"/>
<rect x="17" y="13" width="1.02" height="1.02" fill="#ffc8c8"/>
<rect x="18" y="13" width="1.02" height="1.02" fill="#ffa8a8"/>
<rect x="19" y="13" width="1.02" height="1.02" fill="#ffc8c8"/>
<rect x="20" y="13" width="1.02" height="1.02" fill="#ffc8c8"/>
<rect x="21" y="13" width="1.02" height="1.02" fill="#ffc8c8"/>
<rect x="22" y="13" width="1.02" height="1.02" fill="#ffc8c8"/>
<rect x="23" y="13" width="1.02" height="1.02" fill="#ffc8c8"/>
<rect x="24" y="13" width="1.02" height="1.02" fill="#ffc8c8"/>
<rect x="25" y="13" width="1.02" height="1.02" fill="#ffc8c8"/>
<rect x="26" y="13" width="1.02" height="1.02" fill="#ffc8c8"/>
<rect x="27" y="13" width="1.02" height="1.02" fill="#ffc8c8"/>
<rect x="28" y="13" width="1.02" height="1.02" fill="#ffc8c8"/>
<rect x="29" y="13" width="1.02" height="1.02" fill="#ffa8a8"/>
<rect x="30" y="13" width="1.02" height="1.02" fill="#ff8888"/>
<rect x="31" y="13" width="1.02" height="1.02" fill="#ffa8a8"/>
<rect x="32" y="13" width="1.02" height="1.02" fill="#ffa8a8"/>
<rect x="33" y="13" width="1.02" height="1.02" fill="#ffa8a8"/>
<rect x="34" y="13" width="1.02" height="1.02" fill="#ff8888"/>
<rect x="35" y="13" width="1.02" height="1.02" fill="#ffa8a8"/>
<rect x="0" y="14" width="1.02" height="1.02" fill="#0c0cff"/>
<rect x="1" y="14" width="1.02" height="1.02" fill="#6060ff"/>
<rect x="2" y="14" width="1.02" height="1.02" fill="#3838ff"/>
<rect x="3" y="14" width="1.02" height="1.02" fill="#a4a4ff"/>
<rect x="4" y="14" width="1.02" height="1.02" fill="#a4a4ff"/>
<rect x="5" y="14" width="1.02" height="1.02" fill="#e0e0ff"/>
<rect x="6" y="14" width="1.02" height="1.02" fill="#ffe0e0"/>
<rect x="7" y="14" width="1.02" height="1.02" fill="#ffc8c8"/>
<rect x="8" y="14" width="1.02" height="1.02" fill="#ffc8c8"/>
<rect x="9" y="14" width="1.02" height="1.02" fill="#ffe0e0"/>
<rect x="10" y="14" width="1.02" height="1.02" fill="#e0e0ff"/>
<rect x="11" y="14" width="1.02" height="1.02" fill="#c4c4ff"/>
<rect x="12" y="14" width="1.02" height="1.02" fill="#c4c4ff"/>
<rect x="13" y="14" width="1.02" height="1.02" fill="#a4a4ff"/>
<rect x="14" y="14" width="1.02" height="1.02" fill="#c4c4ff"/>
<rect x="15" y="14" width="1.02" height="1.02" fill="#e0e0ff"/>
<rect x="16" y="14" width="1.02" height="1.02" fill="#ffc8c8"/>
<rect x="17" y="14" width="1.02" height="1.02" fill="#ffa8a8"/>
<rect x="18" y="14" width="1.02" height="1.02" fill="#ffa8a8"/>
<rect x="19" y="14" width="1.02" height="1.02" fill="#ffc8c8"/>
<rect x="20" y="14" width="1.02" height="1.02" fill="#ffe0e0"/>
<rect x="21" y="14" width="1.02" height="1.02" fill="#ffe0e0"/>
<rect x="22" y="14" width="1.02" height="1.02" fill="#ffe0e0"/>
<rect x="23" y="14" width="1.02" height="1.02" fill="#ffc8c8"/>
<rect x="24" y="14" width="1.02" height="1.02" fill="#ffc8c8"/>
<rect x="25" y="14" width="1.02" height="1.02" fill="#ffc8c8"/>
<rect x="26" y="14" width="1.02" height="1.02" fill="#ffc8c8"/>
<rect x="27" y="14" width="1.02" height="1.02" fill="#ffc8c8"/>
<rect x="28" y="14" width="1.02" height="1.02" fill="#ffc8c8"/>
<rect x="29" y="14" width="1.02" height="1.02" fill="#ffc8c8"/>
<rect x="30" y="14" width="1.02" height="1.02" fill="#ffa8a8"/>
<rect x="31" y="14" width="1.02" height="1.02" fill="#ff8888"/>
<rect x="32" y="14" width="1.02" height="1.02" fill="#ff8888"/>
<rect x="33" y="14" width="1.02" height="1.02" fill="#ff6868"/>
<rect x="34" y="14" width="1.02" height="1.02" fill="#ff6868"/>
<rect x="35" y="14" width="1.02" height="1.02" fill="#ff6868"/>
<rect x="0" y="15" width="1.02" height="1.02" fill="#6060ff"/>
<rect x="1" y="15" width="1.02" height="1.02" fill="#3838ff"/>
<rect x="2" y="15" width="1.02" height="1.02" fill="#6060ff"/>
<rect x="3" y="15" width="1.02" height="1.02" fill="#8484ff"/>
<rect x="4" y="15" width="1.02" height="1.02" fill="#c4c4ff"/>
<rect x="5" y="15" width="1.02" height="1.02" fill="#ffe0e0"/>
<rect x="6" y="15" width="1.02" height="1.02" fill="#ffc8c8"/>
<rect x="7" y="15" width="1.02" height="1.02" fill="#ffc8c8"/>
<rect x="8" y="15" width="1.02" height="1.02" fill="#ffc8c8"/>
<rect x="9" y="15" width="1.02" height="1.02" fill="#ffc8c8"/>
<rect x="10" y="15" width="1.02" height="1.02" fill="#ffe0e0"/>
<rect x="11" y="15" width="1.02" height="1.02" fill="#e0e0ff"/>
<rect x="12" y="15" width="1.02" height="1.02" fill="#e0e0ff"/>
<rect x="13" y="15" width="1.02" height="1.02" fill="#c4c4ff"/>
<rect x="14" y="15" width="1.02" height="1.02" fill="#e0e0ff"/>
<rect x="15" y="15" width="1.02" height="1.02" fill="#ffe0e0"/>
<rect x="16" y="15" width="1.02" height="1.02" fill="#ffc8c8"/>
<rect x="17" y="15" width="1.02" height="1.02" fill="#ffa8a8"/>
<rect x="18" y="15" width="1.02" height="1.02" fill="#ffa8a8"/>
<rect x="19" y="15" width="1.02" height="1.02" fill="#ffa8a8"/>
<rect x="20" y="15" width="1.02" height="1.02" fill="#ffe0e0"/>
<rect x="21" y="15" width="1.02" height="1.02" fill="#ffe0e0"/>
<rect x="22" y="15" width="1.02" height="1.02" fill="#ffe0e0"/>
<rect x="23" y="15" width="1.02" height="1.02" fill="#ffe0e0"/>
<rect x="24" y="15" width="1.02" height="1.02" fill="#ffc8c8"/>
<rect x="25" y="15" width="1.02" height="1.02" fill="#ffa8a8"/>
<rect x="26" y="15" width="1.02" height="1.02" fill="#ff8888"/>
<rect x="27" y="15" width="1.02" height="1.02" fill="#ffa8a8"/>
<rect x="28" y="15" width="1.02" height="1.02" fill="#ffc8c8"/>
<rect x="29" y="15" width="1.02" height="1.02" fill="#ffc8c8"/>
<rect x="30" y="15" width="1.02" height="1.02" fill="#ffc8c8"/>
<rect x="31" y="15" width="1.02" height="1.02" fill="#ffa8a8"/>
<rect x="32" y="15" width="1.02" height="1.02" fill="#ff8888"/>
<rect x="33" y="15" width="1.02" height="1.02" fill="#ff4444"/>
<rect x="34" y="15" width="1.02" height="1.02" fill="#ff1c1c"/>
<rect x="35" y="15" width="1.02" height="1.02" fill="#ff1c1c"/>
<rect x="0" y="16" width="1.02" height="1.02" fill="#8484ff"/>
<rect x="1" y="16" width="1.02" height="1.02" fill="#6060ff"/>
<rect x="2" y="16" width="1.02" height="1.02" fill="#8484ff"/>
<rect x="3" y="16" width="1.02" height="1.02" fill="#a4a4ff"/>
<rect x="4" y="16" width="1.02" height="1.02" fill="#a4a4ff"/>
<rect x="5" y="16" width="1.02" height="1.02" fill="#e0e0ff"/>
<rect x="6" y="16" width="1.02" height="1.02" fill="#ffc8c8"/>
<rect x="7" y="16" width="1.02" height="1.02" fill="#ffc8c8"/>
<rect x="8" y="16" width="1.02" height="1.02" fill="#ffe0e0"/>
<rect x="9" y="16" width="1.02" height="1.02" fill="#ffe0e0"/>
<rect x="10" y="16" width="1.02" height="1.02" fill="#ffc8c8"/>
<rect x="11" y="16" width="1.02" height="1.02" fill="#ffe0e0"/>
<rect x="12" y="16" width="1.02" height="1.02" fill="#ffe0e0"/>
<rect x="13" y="16" width="1.02" height="1.02" fill="#e0e0ff"/>
<rect x="14" y="16" width="1.02" height="1.02" fill="#ffe0e0"/>
<rect x="15" y="16" width="1.02" height="1.02" fill="#ffe0e0"/>
<rect x="16" y="16" width="1.02" height="1.02" fill="#ffa8a8"/>
<rect x="17" y="16" width="1.02" height="1.02" fill="#ffa8a8"/>
<rect x="18" y="16" width="1.02" height="1.02" fill="#ffa8a8"/>
<rect x="19" y="16" width="1.02" height="1.02" fill="#ffc8c8"/>
<rect x="20" y="16" width="1.02" height="1.02" fill="#ffe0e0"/>
<rect x="21" y="16" width="1.02" height="1.02" fill="#ffe0e0"/>
<rect x="22" y="16" width="1.02" height="1.02" fill="#ffe0e0"/>
<rect x="23" y="16" width="1.02" height="1.02" fill="#ffe0e0"/>
<rect x="24" y="16" width="1.02" height="1.02" fill="#ffc8c8"/>
<rect x="25" y="16" width="1.02" height="1.02" fill="#ff8888"/>
<rect x="26" y="16" width="1.02" height="1.02" fill="#ff8888"/>
<rect x="27" y="16" width="1.02" height="1.02" fill="#ffa8a8"/>
<rect x="28" y="16" width="1.02" height="1.02" fill="#ffc8c8"/>
<rect x="29" y="16" width="1.02" height="1.02" fill="#ffc8c8"/>
<rect x="30" y="16" width="1.02" height="1.02" fill="#ffa8a8"/>
<rect x="31" y="16" width="1.02" height="1.02" fill="#ff8888"/>
<rect x="32" y="16" width="1.02" height="1.02" fill="#ff6868"/>
<rect x="33" y="16" width="1.02" height="1.02" fill="#ff1c1c"/>
<rect x="34" y="16" width="1.02" height="1.02" fill="#ff1c1c"/>
<rect x="35" y="16" width="1.02" height="1.02" fill="#ff1c1c"/>
<rect x="0" y="17" width="1.02" height="1.02" fill="#8484ff"/>
<rect x="1" y="17" width="1.02" height="1.02" fill="#8484ff"/>
<rect x="2" y="17" width="1.02" height="1.02" fill="#8484ff"/>
<rect x="3" y="17" width="1.02" height="1.02" fill="#8484ff"/>
<rect x="4" y="17" width="1.02" height="1.02" fill="#a4a4ff"/>
<rect x="5" y="17" width="1.02" height="1.02" fill="#c4c4ff"/>
<rect x="6" y="17" width="1.02" height="1.02" fill="#ffc8c8"/>
<rect x="7" y="17" width="1.02" height="1.02" fill="#ffc8c8"/>
<rect x="8" y="17" width="1.02" height="1.02" fill="#ffc8c8"/>
<rect x="9" y="17" width="1.02" height="1.02" fill="#ffc8c8"/>
<rect x="10" y="17" width="1.02" height="1.02" fill="#ffc8c8"/>
<rect x="11" y="17" width="1.02" height="1.02" fill="#ffe0e0"/>
<rect x="12" y="17" width="1.02" height="1.02" fill="#ffe0e0"/>
<rect x="13" y="17" width="1.02" height="1.02" fill="#ffe0e0"/>
<rect x="14" y="17" width="1.02" height="1.02" fill="#ffe0e0"/>
<rect x="15" y="17" width="1.02" height="1.02" fill="#ffe0e0"/>
<rect x="16" y="17" width="1.02" height="1.02" fill="#ffa8a8"/>
<rect x="17" y="17" width="1.02" height="1.02" fill="#ffa8a8"/>
<rect x="18" y="17" width="1.02" height="1.02" fill="#ffa8a8"/>
<rect x="19" y="17" width="1.02" height="1.02" fill="#ffc8c8"/>
<rect x="20" y="17" width="1.02" height="1.02" fill="#ffe0e0"/>
<rect x="21" y="17" width="1.02" height="1.02" fill="#ffe0e0"/>
<rect x="22" y="17" width="1.02" height="1.02" fill="#ffe0e0"/>
<rect x="23" y="17" width="1.02" height="1.02" fill="#ffe0e0"/>
<rect x="24" y="17" width="1.02" height="1.02" fill="#ffc8c8"/>
<rect x="25" y="17" width="1.02" height="1.02" fill="#ffa8a8"/>
<rect x="26" y="17" width="1.02" height="1.02" fill="#ffa8a8"/>
<rect x="27" y="17" width="1.02" height="1.02" fill="#ffc8c8"/>
<rect x="28" y="17" width="1.02" height="1.02" fill="#ffc8c8"/>
<rect x="29" y="17" width="1.02" height="1.02" fill="#ffc8c8"/>
<rect x="30" y="17" width="1.02" height="1.02" fill="#ffa8a8"/>
<rect x="31" y="17" width="1.02" height="1.02" fill="#ff6868"/>
<rect x="32" y="17" width="1.02" height="1.02" fill="#ff4444"/>
<rect x="33" y="17" width="1.02" height="1.02" fill="#ff1c1c"/>
<rect x="34" y="17" width="1.02" height="1.02" fill="#ff1c1c"/>
<rect x="35" y="17" width="1.02" height="1.02" fill="#ff1c1c"/>
<rect x="0" y="18" width="1.02" height="1.02" fill="#c4c4ff"/>
<rect x="1" y="18" width="1.02" height="1.02" fill="#c4c4ff"/>
<rect x="2" y="18" width="1.02" height="1.02" fill="#c4c4ff"/>
<rect x="3" y="18" width="1.02" height="1.02" fill="#c4c4ff"/>
<rect x="4" y="18" width="1.02" height="1.02" fill="#e0e0ff"/>
<rect x="5" y="18" width="1.02" height="1.02" fill="#ffe0e0"/>
<rect x="6" y="18" width="1.02" height="1.02" fill="#ffe0e0"/>
<rect x="7" y="18" width="1.02" height="1.02" fill="#ffc8c8"/>
<rect x="8" y="18" width="1.02" height="1.02" fill="#ffc8c8"/>
<rect x="9" y="18" width="1.02" height="1.02" fill="#ffc8c8"/>
<rect x="10" y="18" width="1.02" height="1.02" fill="#ffe0e0"/>
<rect x="11" y="18" width="1.02" height="1.02" fill="#ffc8c8"/>
<rect x="12" y="18" width="1.02" height="1.02" fill="#ffc8c8"/>
<rect x="13" y="18" width="1.02" height="1.02" fill="#ffc8c8"/>
<rect x="14" y="18" width="1.02" height="1.02" fill="#ffa8a8"/>
<rect x="15" y="18" width="1.02" height="1.02" fill="#ffc8c8"/>
<rect x="16" y="18" width="1.02" height="1.02" fill="#ffc8c8"/>
<rect x="17" y="18" width="1.02" height="1.02" fill="#ffc8c8"/>
<rect x="18" y="18" width="1.02" height="1.02" fill="#ffc8c8"/>
<rect x="19" y="18" width="1.02" height="1.02" fill="#ffe0e0"/>
<rect x="20" y="18" width="1.02" height="1.02" fill="#ffe0e0"/>
<rect x="21" y="18" width="1.02" height="1.02" fill="#ffe0e0"/>
<rect x="22" y="18" width="1.02" height="1.02" fill="#ffc8c8"/>
<rect x="23" y="18" width="1.02" height="1.02" fill="#ffe0e0"/>
<rect x="24" y="18" width="1.02" height="1.02" fill="#ffe0e0"/>
<rect x="25" y="18" width="1.02" height="1.02" fill="#ffc8c8"/>
<rect x="26" y="18" width="1.02" height="1.02" fill="#ffc8c8"/>
<rect x="27" y="18" width="1.02" height="1.02" fill="#ffc8c8"/>
<rect x="28" y="18" width="1.02" height="1.02" fill="#ffc8c8"/>
<rect x="29" y="18" width="1.02" height="1.02" fill="#ffa8a8"/>
<rect x="30" y="18" width="1.02" height="1.02" fill="#ff8888"/>
<rect x="31" y="18" width="1.02" height="1.02" fill="#ff6868"/>
<rect x="32" y="18" width="1.02" height="1.02" fill="#ff4444"/>
<rect x="33" y="18" width="1.02" height="1.02" fill="#ff1c1c"/>
<rect x="34" y="18" width="1.02" height="1.02" fill="#ff1c1c"/>
<rect x="35" y="18" width="1.02" height="1.02" fill="#ff4444"/>
<rect x="0" y="19" width="1.02" height="1.02" fill="#ffe0e0"/>
<rect x="1" y="19" width="1.02" height="1.02" fill="#e0e0ff"/>
<rect x="2" y="19" width="1.02" height="1.02" fill="#e0e0ff"/>
<rect x="3" y="19" width="1.02" height="1.02" fill="#ffe0e0"/>
<rect x="4" y="19" width="1.02" height="1.02" fill="#ffe0e0"/>
<rect x="5" y="19" width="1.02" height="1.02" fill="#ffe0e0"/>
<rect x="6" y="19" width="1.02" height="1.02" fill="#e0e0ff"/>
<rect x="7" y="19" width="1.02" height="1.02" fill="#ffe0e0"/>
<rect x="8" y="19" width="1.02" height="1.02" fill="#ffc8c8"/>
<rect x="9" y="19" width="1.02" height="1.02" fill="#ffc8c8"/>
<rect x="10" y="19" width="1.02" height="1.02" fill="#ffe0e0"/>
<rect x="11" y="19" width="1.02" height="1.02" fill="#ffa8a8"/>
<rect x="12" y="19" width="1.02" height="1.02" fill="#ffa8a8"/>
<rect x="13" y="19" width="1.02" height="1.02" fill="#ffa8a8"/>
<rect x="14" y="19" width="1.02" height="1.02" fill="#ffa8a8"/>
<rect x="15" y="19" width="1.02" height="1.02" fill="#ffa8a8"/>
<rect x="16" y="19" width="1.02" height="1.02" fill="#ffc8c8"/>
<rect x="17" y="19" width="1.02" height="1.02" fill="#ffe0e0"/>
<rect x="18" y="19" width="1.02" height="1.02" fill="#ffe0e0"/>
<rect x="19" y="19" width="1.02" height="1.02" fill="#ffe0e0"/>
<rect x="20" y="19" width="1.02" height="1.02" fill="#e0e0ff"/>
<rect x="21" y="19" width="1.02" height="1.02" fill="#ffe0e0"/>
<rect x="22" y="19" width="1.02" height="1.02" fill="#ffc8c8"/>
<rect x="23" y="19" width="1.02" height="1.02" fill="#ffc8c8"/>
<rect x="24" y="19" width="1.02" height="1.02" fill="#ffe0e0"/>
<rect x="25" y="19" width="1.02" height="1.02" fill="#ffe0e0"/>
<rect x="26" y="19" width="1.02" height="1.02" fill="#ffc8c8"/>
<rect x="27" y="19" width="1.02" height="1.02" fill="#ffc8c8"/>
<rect x="28" y="19" width="1.02" height="1.02" fill="#ffc8c8"/>
<rect x="29" y="19" width="1.02" height="1.02" fill="#ffa8a8"/>
<rect x="30" y="19" width="1.02" height="1.02" fill="#ffa8a8"/>
<rect x="31" y="19" width="1.02" height="1.02" fill="#ff8888"/>
<rect x="32" y="19" width="1.02" height="1.02" fill="#ff6868"/>
<rect x="33" y="19" width="1.02" height="1.02" fill="#ff4444"/>
<rect x="34" y="19" width="1.02" height="1.02" fill="#ff4444"/>
<rect x="35" y="19" width="1.02" height="1.02" fill="#ff4444"/>
<rect x="0" y="20" width="1.02" height="1.02" fill="#ffe0e0"/>
<rect x="1" y="20" width="1.02" height="1.02" fill="#ffe0e0"/>
<rect x="2" y="20" width="1.02" height="1.02" fill="#ffe0e0"/>
<rect x="3" y="20" width="1.02" height="1.02" fill="#ffe0e0"/>
<rect x="4" y="20" width="1.02" height="1.02" fill="#ffc8c8"/>
<rect x="5" y="20" width="1.02" height="1.02" fill="#ffe0e0"/>
<rect x="6" y="20" width="1.02" height="1.02" fill="#ffe0e0"/>
<rect x="7" y="20" width="1.02" height="1.02" fill="#ffe0e0"/>
<rect x="8" y="20" width="1.02" height="1.02" fill="#e0e0ff"/>
<rect x="9" y="20" width="1.02" height="1.02" fill="#c4c4ff"/>
<rect x="10" y="20" width="1.02" height="1.02" fill="#ffe0e0"/>
<rect x="11" y="20" width="1.02" height="1.02" fill="#ffc8c8"/>
<rect x="12" y="20" width="1.02" height="1.02" fill="#ffa8a8"/>
<rect x="13" y="20" width="1.02" height="1.02" fill="#ffa8a8"/>
<rect x="14" y="20" width="1.02" height="1.02" fill="#ffa8a8"/>
<rect x="15" y="20" width="1.02" height="1.02" fill="#ffc8c8"/>
<rect x="16" y="20" width="1.02" height="1.02" fill="#ffe0e0"/>
<rect x="17" y="20" width="1.02" height="1.02" fill="#ffe0e0"/>
<rect x="18" y="20" width="1.02" height="1.02" fill="#ffe0e0"/>
<rect x="19" y="20" width="1.02" height="1.02" fill="#ffe0e0"/>
<rect x="20" y="20" width="1.02" height="1.02" fill="#e0e0ff"/>
<rect x="21" y="20" width="1.02" height="1.02" fill="#ffe0e0"/>
<rect x="22" y="20" width="1.02" height="1.02" fill="#ffc8c8"/>
<rect x="23" y="20" width="1.02" height="1.02" fill="#ffc8c8"/>
<rect x="24" y="20" width="1.02" height="1.02" fill="#ffc8c8"/>
<rect x="25" y="20" width="1.02" height="1.02" fill="#ffe0e0"/>
<rect x="26" y="20" width="1.02" height="1.02" fill="#ffe0e0"/>
<rect x="27" y="20" width="1.02" height="1.02" fill="#ffc8c8"/>
<rect x="28" y="20" width="1.02" height="1.02" fill="#ffc8c8"/>
<rect x="29" y="20" width="1.02" height="1.02" fill="#ffa8a8"/>
<rect x="30" y="20" width="1.02" height="1.02" fill="#ffa8a8"/>
<rect x="31" y="20" width="1.02" height="1.02" fill="#ffa8a8"/>
<rect x="32" y="20" width="1.02" height="1.02" fill="#ff8888"/>
<rect x="33" y="20" width="1.02" height="1.02" fill="#ff6868"/>
<rect x="34" y="20" width="1.02" height="1.02" fill="#ff6868"/>
<rect x="35" y="20" width="1.02" height="1.02" fill="#ff6868"/>
<rect x="0" y="21" width="1.02" height="1.02" fill="#ffe0e0"/>
<rect x="1" y="21" width="1.02" height="1.02" fill="#ffe0e0"/>
<rect x="2" y="21" width="1.02" height="1.02" fill="#ffe0e0"/>
<rect x="3" y="21" width="1.02" height="1.02" fill="#ffe0e0"/>
<rect x="4" y="21" width="1.02" height="1.02" fill="#ffe0e0"/>
<rect x="5" y="21" width="1.02" height="1.02" fill="#ffe0e0"/>
<rect x="6" y="21" width="1.02" height="1.02" fill="#ffe0e0"/>
<rect x="7" y="21" width="1.02" height="1.02" fill="#ffe0e0"/>
<rect x="8" y="21" width="1.02" height="1.02" fill="#c4c4ff"/>
<rect x="9" y="21" width="1.02" height="1.02" fill="#e0e0ff"/>
<rect x="10" y="21" width="1.02" height="1.02" fill="#e0e0ff"/>
<rect x="11" y="21" width="1.02" height="1.02" fill="#ffe0e0"/>
<rect x="12" y="21" width="1.02" height="1.02" fill="#ffc8c8"/>
<rect x="13" y="21" width="1.02" height="1.02" fill="#ffa8a8"/>
<rect x="14" y="21" width="1.02" height="1.02" fill="#ffa8a8"/>
<rect x="15" y="21" width="1.02" height="1.02" fill="#ffe0e0"/>
<rect x="16" y="21" width="1.02" height="1.02" fill="#c4c4ff"/>
<rect x="17" y="21" width="1.02" height="1.02" fill="#ffe0e0"/>
<rect x="18" y="21" width="1.02" height="1.02" fill="#ffe0e0"/>
<rect x="19" y="21" width="1.02" height="1.02" fill="#ffe0e0"/>
<rect x="20" y="21" width="1.02" height="1.02" fill="#e0e0ff"/>
<rect x="21" y="21" width="1.02" height="1.02" fill="#ffe0e0"/>
<rect x="22" y="21" width="1.02" height="1.02" fill="#ffc8c8"/>
<rect x="23" y="21" width="1.02" height="1.02" fill="#ffc8c8"/>
<rect x="24" y="21" width="1.02" height="1.02" fill="#ffc8c8"/>
<rect x="25" y="21" width="1.02" height="1.02" fill="#ffe0e0"/>
<rect x="26" y="21" width="1.02" height="1.02" fill="#ffe0e0"/>
<rect x="27" y="21" width="1.02" height="1.02" fill="#ffc8c8"/>
<rect x="28" y="21" width="1.02" height="1.02" fill="#ffa8a8"/>
<rect x="29" y="21" width="1.02" height="1.02" fill="#ffa8a8"/>
<rect x="30" y="21" width="1.02" height="1.02" fill="#ffa8a8"/>
<rect x="31" y="21" width="1.02" height="1.02" fill="#ffa8a8"/>
<rect x="32" y="21" width="1.02" height="1.02" fill="#ffa8a8"/>
<rect x="33" y="21" width="1.02" height="1.02" fill="#ff8888"/>
<rect x="34" y="21" width="1.02" height="1.02" fill="#ff8888"/>
<rect x="35" y="21" width="1.02" height="1.02" fill="#ff8888"/>
</svg>
<polyline points="19.40,31.50 43.13,31.50" fill="none" stroke="#1a1a1a" stroke-width="0.85"/>
<polyline points="43.50,14.75 43.50,39.47" fill="none" stroke="#1a1a1a" stroke-width="0.85"/>
<polyline points="43.13,39.50 115.53,39.50" fill="none" stroke="#1a1a1a" stroke-width="0.85"/>
<polyline points="59.50,39.47 59.50,105.40" fill="none" stroke="#1a1a1a" stroke-width="0.85"/>
<polyline points="99.50,14.75 99.50,39.47" fill="none" stroke="#1a1a1a" stroke-width="0.85"/>
<polyline points="115.50,39.47 115.50,72.44" fill="none" stroke="#1a1a1a" stroke-width="0.85"/>
<polyline points="115.53,47.50 164.20,47.50" fill="none" stroke="#1a1a1a" stroke-width="0.85"/>
<polyline points="19.40,72.50 164.20,72.50" fill="none" stroke="#1a1a1a" stroke-width="0.85"/>
<polyline points="107.50,72.44 107.50,105.40" fill="none" stroke="#1a1a1a" stroke-width="0.85"/>
<polyline points="107.57,76.50 132.02,76.50" fill="none" stroke="#1a1a1a" stroke-width="0.85"/>
<polyline points="132.50,76.56 132.50,92.54" fill="none" stroke="#1a1a1a" stroke-width="0.85"/>
<polyline points="132.02,92.54 133.63,93.45 135.24,93.70 136.85,94.03 138.46,95.51 140.07,95.35 141.68,95.92 143.28,96.01 144.89,96.17 146.50,96.09 148.11,97.16 149.72,97.57 151.33,97.98 152.94,98.40 154.55,98.15 156.16,98.64 157.76,98.23 159.37,98.97 160.98,98.64 162.59,99.47 164.20,98.81" fill="none" stroke="#1a1a1a" stroke-width="0.75"/>
<polyline points="99.44,22.99 144.09,22.99 146.50,23.40 148.92,24.23 153.74,24.23 157.76,25.46 160.18,27.11 161.38,29.58 162.99,32.88 164.20,37.00" fill="none" stroke="#1a1a1a" stroke-width="0.75"/>
<polyline points="160.58,14.75 160.58,18.87 159.37,21.34 160.18,27.11" fill="none" stroke="#1a1a1a" stroke-width="0.75"/>
<polygon points="27.85,32.88 29.46,33.29 30.66,35.76 32.67,37.41 35.09,39.06 36.70,41.53 34.68,42.77 31.87,41.94 30.26,39.88 28.65,37.00 27.61,34.53" fill="#ffffff" stroke="#222" stroke-width="0.75"/>
<rect x="23.02" y="37.82" width="1.85" height="4.29" fill="#eeeeff"/>
<rect x="19.4" y="14.75" width="144.80" height="90.65" fill="none" stroke="#000" stroke-width="1"/>
<line x1="19.40" y1="14.75" x2="19.40" y2="12.95" stroke="#000" stroke-width="0.8"/>
<line x1="19.40" y1="105.4" x2="19.40" y2="107.2" stroke="#000" stroke-width="0.8"/>
<line x1="27.44" y1="14.75" x2="27.44" y2="12.95" stroke="#000" stroke-width="0.8"/>
<line x1="27.44" y1="105.4" x2="27.44" y2="107.2" stroke="#000" stroke-width="0.8"/>
<line x1="35.49" y1="14.75" x2="35.49" y2="12.95" stroke="#000" stroke-width="0.8"/>
<line x1="35.49" y1="105.4" x2="35.49" y2="107.2" stroke="#000" stroke-width="0.8"/>
<line x1="43.53" y1="14.75" x2="43.53" y2="12.95" stroke="#000" stroke-width="0.8"/>
<line x1="43.53" y1="105.4" x2="43.53" y2="107.2" stroke="#000" stroke-width="0.8"/>
<line x1="51.58" y1="14.75" x2="51.58" y2="11.15" stroke="#000" stroke-width="0.8"/>
<line x1="51.58" y1="105.4" x2="51.58" y2="109.0" stroke="#000" stroke-width="0.8"/>
<line x1="59.62" y1="14.75" x2="59.62" y2="12.95" stroke="#000" stroke-width="0.8"/>
<line x1="59.62" y1="105.4" x2="59.62" y2="107.2" stroke="#000" stroke-width="0.8"/>
<line x1="67.67" y1="14.75" x2="67.67" y2="12.95" stroke="#000" stroke-width="0.8"/>
<line x1="67.67" y1="105.4" x2="67.67" y2="107.2" stroke="#000" stroke-width="0.8"/>
<line x1="75.71" y1="14.75" x2="75.71" y2="12.95" stroke="#000" stroke-width="0.8"/>
<line x1="75.71" y1="105.4" x2="75.71" y2="107.2" stroke="#000" stroke-width="0.8"/>
<line x1="83.76" y1="14.75" x2="83.76" y2="12.95" stroke="#000" stroke-width="0.8"/>
<line x1="83.76" y1="105.4" x2="83.76" y2="107.2" stroke="#000" stroke-width="0.8"/>
<line x1="91.80" y1="14.75" x2="91.80" y2="11.15" stroke="#000" stroke-width="0.8"/>
<line x1="91.80" y1="105.4" x2="91.80" y2="109.0" stroke="#000" stroke-width="0.8"/>
<line x1="99.84" y1="14.75" x2="99.84" y2="12.95" stroke="#000" stroke-width="0.8"/>
<line x1="99.84" y1="105.4" x2="99.84" y2="107.2" stroke="#000" stroke-width="0.8"/>
<line x1="107.89" y1="14.75" x2="107.89" y2="12.95" stroke="#000" stroke-width="0.8"/>
<line x1="107.89" y1="105.4" x2="107.89" y2="107.2" stroke="#000" stroke-width="0.8"/>
<line x1="115.93" y1="14.75" x2="115.93" y2="12.95" stroke="#000" stroke-width="0.8"/>
<line x1="115.93" y1="105.4" x2="115.93" y2="107.2" stroke="#000" stroke-width="0.8"/>
<line x1="123.98" y1="14.75" x2="123.98" y2="12.95" stroke="#000" stroke-width="0.8"/>
<line x1="123.98" y1="105.4" x2="123.98" y2="107.2" stroke="#000" stroke-width="0.8"/>
<line x1="132.02" y1="14.75" x2="132.02" y2="11.15" stroke="#000" stroke-width="0.8"/>
<line x1="132.02" y1="105.4" x2="132.02" y2="109.0" stroke="#000" stroke-width="0.8"/>
<line x1="140.07" y1="14.75" x2="140.07" y2="12.95" stroke="#000" stroke-width="0.8"/>
<line x1="140.07" y1="105.4" x2="140.07" y2="107.2" stroke="#000" stroke-width="0.8"/>
<line x1="148.11" y1="14.75" x2="148.11" y2="12.95" stroke="#000" stroke-width="0.8"/>
<line x1="148.11" y1="105.4" x2="148.11" y2="107.2" stroke="#000" stroke-width="0.8"/>
<line x1="156.16" y1="14.75" x2="156.16" y2="12.95" stroke="#000" stroke-width="0.8"/>
<line x1="156.16" y1="105.4" x2="156.16" y2="107.2" stroke="#000" stroke-width="0.8"/>
<line x1="164.20" y1="14.75" x2="164.20" y2="12.95" stroke="#000" stroke-width="0.8"/>
<line x1="164.20" y1="105.4" x2="164.20" y2="107.2" stroke="#000" stroke-width="0.8"/>
<line x1="19.4" y1="105.40" x2="17.599999999999998" y2="105.40" stroke="#000" stroke-width="0.8"/>
<line x1="164.2" y1="105.40" x2="166.0" y2="105.40" stroke="#000" stroke-width="0.8"/>
<line x1="19.4" y1="97.16" x2="17.599999999999998" y2="97.16" stroke="#000" stroke-width="0.8"/>
<line x1="164.2" y1="97.16" x2="166.0" y2="97.16" stroke="#000" stroke-width="0.8"/>
<line x1="19.4" y1="88.92" x2="15.799999999999999" y2="88.92" stroke="#000" stroke-width="0.8"/>
<line x1="164.2" y1="88.92" x2="167.79999999999998" y2="88.92" stroke="#000" stroke-width="0.8"/>
<line x1="19.4" y1="80.68" x2="17.599999999999998" y2="80.68" stroke="#000" stroke-width="0.8"/>
<line x1="164.2" y1="80.68" x2="166.0" y2="80.68" stroke="#000" stroke-width="0.8"/>
<line x1="19.4" y1="72.44" x2="17.599999999999998" y2="72.44" stroke="#000" stroke-width="0.8"/>
<line x1="164.2" y1="72.44" x2="166.0" y2="72.44" stroke="#000" stroke-width="0.8"/>
<line x1="19.4" y1="64.20" x2="17.599999999999998" y2="64.20" stroke="#000" stroke-width="0.8"/>
<line x1="164.2" y1="64.20" x2="166.0" y2="64.20" stroke="#000" stroke-width="0.8"/>
<line x1="19.4" y1="55.95" x2="17.599999999999998" y2="55.95" stroke="#000" stroke-width="0.8"/>
<line x1="164.2" y1="55.95" x2="166.0" y2="55.95" stroke="#000" stroke-width="0.8"/>
<line x1="19.4" y1="47.71" x2="15.799999999999999" y2="47.71" stroke="#000" stroke-width="0.8"/>
<line x1="164.2" y1="47.71" x2="167.79999999999998" y2="47.71" stroke="#000" stroke-width="0.8"/>
<line x1="19.4" y1="39.47" x2="17.599999999999998" y2="39.47" stroke="#000" stroke-width="0.8"/>
<line x1="164.2" y1="39.47" x2="166.0" y2="39.47" stroke="#000" stroke-width="0.8"/>
<line x1="19.4" y1="31.23" x2="17.599999999999998" y2="31.23" stroke="#000" stroke-width="0.8"/>
<line x1="164.2" y1="31.23" x2="166.0" y2="31.23" stroke="#000" stroke-width="0.8"/>
<line x1="19.4" y1="22.99" x2="17.599999999999998" y2="22.99" stroke="#000" stroke-width="0.8"/>
<line x1="164.2" y1="22.99" x2="166.0" y2="22.99" stroke="#000" stroke-width="0.8"/>
<line x1="19.4" y1="14.75" x2="17.599999999999998" y2="14.75" stroke="#000" stroke-width="0.8"/>
<line x1="164.2" y1="14.75" x2="166.0" y2="14.75" stroke="#000" stroke-width="0.8"/>
<text x="51.58" y="115.70" font-size="4.6" text-anchor="middle" fill="#111" >110°W</text>
<text x="91.80" y="115.70" font-size="4.6" text-anchor="middle" fill="#111" >105°W</text>
<text x="132.02" y="115.70" font-size="4.6" text-anchor="middle" fill="#111" >100°W</text>
<text transform="translate(14.10,50.11) scale(1,1.15)" font-size="4.4" text-anchor="end" fill="#111" >40°N</text>
<text transform="translate(14.10,91.32) scale(1,1.15)" font-size="4.4" text-anchor="end" fill="#111" >35°N</text>
<text transform="translate(19.40,10.30) scale(1,1.15)" font-size="5.4" text-anchor="start" fill="#111" >OL</text>
<text transform="translate(144.00,10.30) scale(1,1.15)" font-size="5.4" fill="#111" textLength="20.2" lengthAdjust="spacingAndGlyphs">Apr 2006</text>
<text x="20.60" y="102.00" font-size="9.2" text-anchor="start" fill="#111" stroke="#111" stroke-width="0.15">(a)</text>
<path d="M82.66,46.68 L84.56,43.28 L86.46,46.68 Z" fill="none" stroke="#111" stroke-width="0.55"/>
<text x="84.56" y="53.78" font-size="8.4" text-anchor="middle" fill="#111" stroke="#111" stroke-width="0.25">A</text>
<path d="M93.12,46.68 L95.02,43.28 L96.92,46.68 Z" fill="none" stroke="#111" stroke-width="0.55"/>
<text x="95.02" y="53.78" font-size="8.4" text-anchor="middle" fill="#111" stroke="#111" stroke-width="0.25">B</text>
<svg x="182.6" y="15.3" width="144.20000000000002" height="90.10000000000001" viewBox="0 0 36 22" preserveAspectRatio="none" shape-rendering="crispEdges">
<rect x="0" y="0" width="1.02" height="1.02" fill="#0c0cff"/>
<rect x="1" y="0" width="1.02" height="1.02" fill="#0c0cff"/>
<rect x="2" y="0" width="1.02" height="1.02" fill="#3838ff"/>
<rect x="3" y="0" width="1.02" height="1.02" fill="#0c0cff"/>
<rect x="4" y="0" width="1.02" height="1.02" fill="#0c0cff"/>
<rect x="5" y="0" width="1.02" height="1.02" fill="#0c0cff"/>
<rect x="6" y="0" width="1.02" height="1.02" fill="#6060ff"/>
<rect x="7" y="0" width="1.02" height="1.02" fill="#6060ff"/>
<rect x="8" y="0" width="1.02" height="1.02" fill="#8484ff"/>
<rect x="9" y="0" width="1.02" height="1.02" fill="#8484ff"/>
<rect x="10" y="0" width="1.02" height="1.02" fill="#a4a4ff"/>
<rect x="11" y="0" width="1.02" height="1.02" fill="#a4a4ff"/>
<rect x="12" y="0" width="1.02" height="1.02" fill="#a4a4ff"/>
<rect x="13" y="0" width="1.02" height="1.02" fill="#a4a4ff"/>
<rect x="14" y="0" width="1.02" height="1.02" fill="#a4a4ff"/>
<rect x="15" y="0" width="1.02" height="1.02" fill="#a4a4ff"/>
<rect x="16" y="0" width="1.02" height="1.02" fill="#c4c4ff"/>
<rect x="17" y="0" width="1.02" height="1.02" fill="#e0e0ff"/>
<rect x="18" y="0" width="1.02" height="1.02" fill="#e0e0ff"/>
<rect x="19" y="0" width="1.02" height="1.02" fill="#c4c4ff"/>
<rect x="20" y="0" width="1.02" height="1.02" fill="#c4c4ff"/>
<rect x="21" y="0" width="1.02" height="1.02" fill="#c4c4ff"/>
<rect x="22" y="0" width="1.02" height="1.02" fill="#a4a4ff"/>
<rect x="23" y="0" width="1.02" height="1.02" fill="#c4c4ff"/>
<rect x="24" y="0" width="1.02" height="1.02" fill="#a4a4ff"/>
<rect x="25" y="0" width="1.02" height="1.02" fill="#c4c4ff"/>
<rect x="26" y="0" width="1.02" height="1.02" fill="#c4c4ff"/>
<rect x="27" y="0" width="1.02" height="1.02" fill="#a4a4ff"/>
<rect x="28" y="0" width="1.02" height="1.02" fill="#a4a4ff"/>
<rect x="29" y="0" width="1.02" height="1.02" fill="#c4c4ff"/>
<rect x="30" y="0" width="1.02" height="1.02" fill="#c4c4ff"/>
<rect x="31" y="0" width="1.02" height="1.02" fill="#c4c4ff"/>
<rect x="32" y="0" width="1.02" height="1.02" fill="#a4a4ff"/>
<rect x="33" y="0" width="1.02" height="1.02" fill="#8484ff"/>
<rect x="34" y="0" width="1.02" height="1.02" fill="#6060ff"/>
<rect x="35" y="0" width="1.02" height="1.02" fill="#3838ff"/>
<rect x="0" y="1" width="1.02" height="1.02" fill="#0c0cff"/>
<rect x="1" y="1" width="1.02" height="1.02" fill="#0c0cff"/>
<rect x="2" y="1" width="1.02" height="1.02" fill="#0c0cff"/>
<rect x="3" y="1" width="1.02" height="1.02" fill="#0c0cff"/>
<rect x="4" y="1" width="1.02" height="1.02" fill="#0c0cff"/>
<rect x="5" y="1" width="1.02" height="1.02" fill="#3838ff"/>
<rect x="6" y="1" width="1.02" height="1.02" fill="#6060ff"/>
<rect x="7" y="1" width="1.02" height="1.02" fill="#6060ff"/>
<rect x="8" y="1" width="1.02" height="1.02" fill="#8484ff"/>
<rect x="9" y="1" width="1.02" height="1.02" fill="#8484ff"/>
<rect x="10" y="1" width="1.02" height="1.02" fill="#a4a4ff"/>
<rect x="11" y="1" width="1.02" height="1.02" fill="#a4a4ff"/>
<rect x="12" y="1" width="1.02" height="1.02" fill="#a4a4ff"/>
<rect x="13" y="1" width="1.02" height="1.02" fill="#a4a4ff"/>
<rect x="14" y="1" width="1.02" height="1.02" fill="#a4a4ff"/>
<rect x="15" y="1" width="1.02" height="1.02" fill="#c4c4ff"/>
<rect x="16" y="1" width="1.02" height="1.02" fill="#c4c4ff"/>
<rect x="17" y="1" width="1.02" height="1.02" fill="#c4c4ff"/>
<rect x="18" y="1" width="1.02" height="1.02" fill="#c4c4ff"/>
<rect x="19" y="1" width="1.02" height="1.02" fill="#c4c4ff"/>
<rect x="20" y="1" width="1.02" height="1.02" fill="#c4c4ff"/>
<rect x="21" y="1" width="1.02" height="1.02" fill="#c4c4ff"/>
<rect x="22" y="1" width="1.02" height="1.02" fill="#c4c4ff"/>
<rect x="23" y="1" width="1.02" height="1.02" fill="#c4c4ff"/>
<rect x="24" y="1" width="1.02" height="1.02" fill="#c4c4ff"/>
<rect x="25" y="1" width="1.02" height="1.02" fill="#c4c4ff"/>
<rect x="26" y="1" width="1.02" height="1.02" fill="#c4c4ff"/>
<rect x="27" y="1" width="1.02" height="1.02" fill="#a4a4ff"/>
<rect x="28" y="1" width="1.02" height="1.02" fill="#a4a4ff"/>
<rect x="29" y="1" width="1.02" height="1.02" fill="#a4a4ff"/>
<rect x="30" y="1" width="1.02" height="1.02" fill="#a4a4ff"/>
<rect x="31" y="1" width="1.02" height="1.02" fill="#c4c4ff"/>
<rect x="32" y="1" width="1.02" height="1.02" fill="#a4a4ff"/>
<rect x="33" y="1" width="1.02" height="1.02" fill="#a4a4ff"/>
<rect x="34" y="1" width="1.02" height="1.02" fill="#6060ff"/>
<rect x="35" y="1" width="1.02" height="1.02" fill="#6060ff"/>
<rect x="0" y="2" width="1.02" height="1.02" fill="#0c0cff"/>
<rect x="1" y="2" width="1.02" height="1.02" fill="#0c0cff"/>
<rect x="2" y="2" width="1.02" height="1.02" fill="#0c0cff"/>
<rect x="3" y="2" width="1.02" height="1.02" fill="#0c0cff"/>
<rect x="4" y="2" width="1.02" height="1.02" fill="#0c0cff"/>
<rect x="5" y="2" width="1.02" height="1.02" fill="#3838ff"/>
<rect x="6" y="2" width="1.02" height="1.02" fill="#6060ff"/>
<rect x="7" y="2" width="1.02" height="1.02" fill="#6060ff"/>
<rect x="8" y="2" width="1.02" height="1.02" fill="#8484ff"/>
<rect x="9" y="2" width="1.02" height="1.02" fill="#8484ff"/>
<rect x="10" y="2" width="1.02" height="1.02" fill="#a4a4ff"/>
<rect x="11" y="2" width="1.02" height="1.02" fill="#a4a4ff"/>
<rect x="12" y="2" width="1.02" height="1.02" fill="#a4a4ff"/>
<rect x="13" y="2" width="1.02" height="1.02" fill="#8484ff"/>
<rect x="14" y="2" width="1.02" height="1.02" fill="#a4a4ff"/>
<rect x="15" y="2" width="1.02" height="1.02" fill="#a4a4ff"/>
<rect x="16" y="2" width="1.02" height="1.02" fill="#c4c4ff"/>
<rect x="17" y="2" width="1.02" height="1.02" fill="#c4c4ff"/>
<rect x="18" y="2" width="1.02" height="1.02" fill="#c4c4ff"/>
<rect x="19" y="2" width="1.02" height="1.02" fill="#c4c4ff"/>
<rect x="20" y="2" width="1.02" height="1.02" fill="#c4c4ff"/>
<rect x="21" y="2" width="1.02" height="1.02" fill="#c4c4ff"/>
<rect x="22" y="2" width="1.02" height="1.02" fill="#c4c4ff"/>
<rect x="23" y="2" width="1.02" height="1.02" fill="#e0e0ff"/>
<rect x="24" y="2" width="1.02" height="1.02" fill="#c4c4ff"/>
<rect x="25" y="2" width="1.02" height="1.02" fill="#c4c4ff"/>
<rect x="26" y="2" width="1.02" height="1.02" fill="#c4c4ff"/>
<rect x="27" y="2" width="1.02" height="1.02" fill="#c4c4ff"/>
<rect x="28" y="2" width="1.02" height="1.02" fill="#c4c4ff"/>
<rect x="29" y="2" width="1.02" height="1.02" fill="#8484ff"/>
<rect x="30" y="2" width="1.02" height="1.02" fill="#a4a4ff"/>
<rect x="31" y="2" width="1.02" height="1.02" fill="#a4a4ff"/>
<rect x="32" y="2" width="1.02" height="1.02" fill="#c4c4ff"/>
<rect x="33" y="2" width="1.02" height="1.02" fill="#c4c4ff"/>
<rect x="34" y="2" width="1.02" height="1.02" fill="#a4a4ff"/>
<rect x="35" y="2" width="1.02" height="1.02" fill="#c4c4ff"/>
<rect x="0" y="3" width="1.02" height="1.02" fill="#0c0cff"/>
<rect x="1" y="3" width="1.02" height="1.02" fill="#0c0cff"/>
<rect x="2" y="3" width="1.02" height="1.02" fill="#0c0cff"/>
<rect x="3" y="3" width="1.02" height="1.02" fill="#0c0cff"/>
<rect x="4" y="3" width="1.02" height="1.02" fill="#0c0cff"/>
<rect x="5" y="3" width="1.02" height="1.02" fill="#0c0cff"/>
<rect x="6" y="3" width="1.02" height="1.02" fill="#6060ff"/>
<rect x="7" y="3" width="1.02" height="1.02" fill="#6060ff"/>
<rect x="8" y="3" width="1.02" height="1.02" fill="#6060ff"/>
<rect x="9" y="3" width="1.02" height="1.02" fill="#8484ff"/>
<rect x="10" y="3" width="1.02" height="1.02" fill="#8484ff"/>
<rect x="11" y="3" width="1.02" height="1.02" fill="#8484ff"/>
<rect x="12" y="3" width="1.02" height="1.02" fill="#a4a4ff"/>
<rect x="13" y="3" width="1.02" height="1.02" fill="#a4a4ff"/>
<rect x="14" y="3" width="1.02" height="1.02" fill="#8484ff"/>
<rect x="15" y="3" width="1.02" height="1.02" fill="#a4a4ff"/>
<rect x="16" y="3" width="1.02" height="1.02" fill="#a4a4ff"/>
<rect x="17" y="3" width="1.02" height="1.02" fill="#a4a4ff"/>
<rect x="18" y="3" width="1.02" height="1.02" fill="#c4c4ff"/>
<rect x="19" y="3" width="1.02" height="1.02" fill="#c4c4ff"/>
<rect x="20" y="3" width="1.02" height="1.02" fill="#c4c4ff"/>
<rect x="21" y="3" width="1.02" height="1.02" fill="#c4c4ff"/>
<rect x="22" y="3" width="1.02" height="1.02" fill="#c4c4ff"/>
<rect x="23" y="3" width="1.02" height="1.02" fill="#c4c4ff"/>
<rect x="24" y="3" width="1.02" height="1.02" fill="#c4c4ff"/>
<rect x="25" y="3" width="1.02" height="1.02" fill="#c4c4ff"/>
<rect x="26" y="3" width="1.02" height="1.02" fill="#c4c4ff"/>
<rect x="27" y="3" width="1.02" height="1.02" fill="#c4c4ff"/>
<rect x="28" y="3" width="1.02" height="1.02" fill="#c4c4ff"/>
<rect x="29" y="3" width="1.02" height="1.02" fill="#c4c4ff"/>
<rect x="30" y="3" width="1.02" height="1.02" fill="#c4c4ff"/>
<rect x="31" y="3" width="1.02" height="1.02" fill="#c4c4ff"/>
<rect x="32" y="3" width="1.02" height="1.02" fill="#c4c4ff"/>
<rect x="33" y="3" width="1.02" height="1.02" fill="#c4c4ff"/>
<rect x="34" y="3" width="1.02" height="1.02" fill="#c4c4ff"/>
<rect x="35" y="3" width="1.02" height="1.02" fill="#c4c4ff"/>
<rect x="0" y="4" width="1.02" height="1.02" fill="#3838ff"/>
<rect x="1" y="4" width="1.02" height="1.02" fill="#3838ff"/>
<rect x="2" y="4" width="1.02" height="1.02" fill="#0c0cff"/>
<rect x="3" y="4" width="1.02" height="1.02" fill="#0c0cff"/>
<rect x="4" y="4" width="1.02" height="1.02" fill="#0c0cff"/>
<rect x="5" y="4" width="1.02" height="1.02" fill="#0c0cff"/>
<rect x="6" y="4" width="1.02" height="1.02" fill="#6060ff"/>
<rect x="7" y="4" width="1.02" height="1.02" fill="#6060ff"/>
<rect x="8" y="4" width="1.02" height="1.02" fill="#6060ff"/>
<rect x="9" y="4" width="1.02" height="1.02" fill="#8484ff"/>
<rect x="10" y="4" width="1.02" height="1.02" fill="#8484ff"/>
<rect x="11" y="4" width="1.02" height="1.02" fill="#8484ff"/>
<rect x="12" y="4" width="1.02" height="1.02" fill="#8484ff"/>
<rect x="13" y="4" width="1.02" height="1.02" fill="#8484ff"/>
<rect x="14" y="4" width="1.02" height="1.02" fill="#a4a4ff"/>
<rect x="15" y="4" width="1.02" height="1.02" fill="#a4a4ff"/>
<rect x="16" y="4" width="1.02" height="1.02" fill="#a4a4ff"/>
<rect x="17" y="4" width="1.02" height="1.02" fill="#c4c4ff"/>
<rect x="18" y="4" width="1.02" height="1.02" fill="#c4c4ff"/>
<rect x="19" y="4" width="1.02" height="1.02" fill="#c4c4ff"/>
<rect x="20" y="4" width="1.02" height="1.02" fill="#c4c4ff"/>
<rect x="21" y="4" width="1.02" height="1.02" fill="#c4c4ff"/>
<rect x="22" y="4" width="1.02" height="1.02" fill="#c4c4ff"/>
<rect x="23" y="4" width="1.02" height="1.02" fill="#c4c4ff"/>
<rect x="24" y="4" width="1.02" height="1.02" fill="#c4c4ff"/>
<rect x="25" y="4" width="1.02" height="1.02" fill="#e0e0ff"/>
<rect x="26" y="4" width="1.02" height="1.02" fill="#e0e0ff"/>
<rect x="27" y="4" width="1.02" height="1.02" fill="#e0e0ff"/>
<rect x="28" y="4" width="1.02" height="1.02" fill="#e0e0ff"/>
<rect x="29" y="4" width="1.02" height="1.02" fill="#e0e0ff"/>
<rect x="30" y="4" width="1.02" height="1.02" fill="#e0e0ff"/>
<rect x="31" y="4" width="1.02" height="1.02" fill="#e0e0ff"/>
<rect x="32" y="4" width="1.02" height="1.02" fill="#c4c4ff"/>
<rect x="33" y="4" width="1.02" height="1.02" fill="#c4c4ff"/>
<rect x="34" y="4" width="1.02" height="1.02" fill="#e0e0ff"/>
<rect x="35" y="4" width="1.02" height="1.02" fill="#e0e0ff"/>
<rect x="0" y="5" width="1.02" height="1.02" fill="#6060ff"/>
<rect x="1" y="5" width="1.02" height="1.02" fill="#6060ff"/>
<rect x="2" y="5" width="1.02" height="1.02" fill="#3838ff"/>
<rect x="3" y="5" width="1.02" height="1.02" fill="#0c0cff"/>
<rect x="4" y="5" width="1.02" height="1.02" fill="#0c0cff"/>
<rect x="5" y="5" width="1.02" height="1.02" fill="#0c0cff"/>
<rect x="6" y="5" width="1.02" height="1.02" fill="#3838ff"/>
<rect x="7" y="5" width="1.02" height="1.02" fill="#6060ff"/>
<rect x="8" y="5" width="1.02" height="1.02" fill="#6060ff"/>
<rect x="9" y="5" width="1.02" height="1.02" fill="#8484ff"/>
<rect x="10" y="5" width="1.02" height="1.02" fill="#8484ff"/>
<rect x="11" y="5" width="1.02" height="1.02" fill="#8484ff"/>
<rect x="12" y="5" width="1.02" height="1.02" fill="#8484ff"/>
<rect x="13" y="5" width="1.02" height="1.02" fill="#8484ff"/>
<rect x="14" y="5" width="1.02" height="1.02" fill="#8484ff"/>
<rect x="15" y="5" width="1.02" height="1.02" fill="#a4a4ff"/>
<rect x="16" y="5" width="1.02" height="1.02" fill="#c4c4ff"/>
<rect x="17" y="5" width="1.02" height="1.02" fill="#c4c4ff"/>
<rect x="18" y="5" width="1.02" height="1.02" fill="#c4c4ff"/>
<rect x="19" y="5" width="1.02" height="1.02" fill="#c4c4ff"/>
<rect x="20" y="5" width="1.02" height="1.02" fill="#c4c4ff"/>
<rect x="21" y="5" width="1.02" height="1.02" fill="#c4c4ff"/>
<rect x="22" y="5" width="1.02" height="1.02" fill="#c4c4ff"/>
<rect x="23" y="5" width="1.02" height="1.02" fill="#e0e0ff"/>
<rect x="24" y="5" width="1.02" height="1.02" fill="#e0e0ff"/>
<rect x="25" y="5" width="1.02" height="1.02" fill="#e0e0ff"/>
<rect x="26" y="5" width="1.02" height="1.02" fill="#e0e0ff"/>
<rect x="27" y="5" width="1.02" height="1.02" fill="#f4f0f8"/>
<rect x="28" y="5" width="1.02" height="1.02" fill="#ffe0e0"/>
<rect x="29" y="5" width="1.02" height="1.02" fill="#f4f0f8"/>
<rect x="30" y="5" width="1.02" height="1.02" fill="#f4f0f8"/>
<rect x="31" y="5" width="1.02" height="1.02" fill="#f4f0f8"/>
<rect x="32" y="5" width="1.02" height="1.02" fill="#f4f0f8"/>
<rect x="33" y="5" width="1.02" height="1.02" fill="#f4f0f8"/>
<rect x="34" y="5" width="1.02" height="1.02" fill="#f4f0f8"/>
<rect x="35" y="5" width="1.02" height="1.02" fill="#f4f0f8"/>
<rect x="0" y="6" width="1.02" height="1.02" fill="#6060ff"/>
<rect x="1" y="6" width="1.02" height="1.02" fill="#6060ff"/>
<rect x="2" y="6" width="1.02" height="1.02" fill="#6060ff"/>
<rect x="3" y="6" width="1.02" height="1.02" fill="#3838ff"/>
<rect x="4" y="6" width="1.02" height="1.02" fill="#0c0cff"/>
<rect x="5" y="6" width="1.02" height="1.02" fill="#0000d8"/>
<rect x="6" y="6" width="1.02" height="1.02" fill="#3838ff"/>
<rect x="7" y="6" width="1.02" height="1.02" fill="#6060ff"/>
<rect x="8" y="6" width="1.02" height="1.02" fill="#6060ff"/>
<rect x="9" y="6" width="1.02" height="1.02" fill="#8484ff"/>
<rect x="10" y="6" width="1.02" height="1.02" fill="#8484ff"/>
<rect x="11" y="6" width="1.02" height="1.02" fill="#8484ff"/>
<rect x="12" y="6" width="1.02" height="1.02" fill="#8484ff"/>
<rect x="13" y="6" width="1.02" height="1.02" fill="#8484ff"/>
<rect x="14" y="6" width="1.02" height="1.02" fill="#8484ff"/>
<rect x="15" y="6" width="1.02" height="1.02" fill="#a4a4ff"/>
<rect x="16" y="6" width="1.02" height="1.02" fill="#c4c4ff"/>
<rect x="17" y="6" width="1.02" height="1.02" fill="#c4c4ff"/>
<rect x="18" y="6" width="1.02" height="1.02" fill="#c4c4ff"/>
<rect x="19" y="6" width="1.02" height="1.02" fill="#c4c4ff"/>
<rect x="20" y="6" width="1.02" height="1.02" fill="#c4c4ff"/>
<rect x="21" y="6" width="1.02" height="1.02" fill="#c4c4ff"/>
<rect x="22" y="6" width="1.02" height="1.02" fill="#c4c4ff"/>
<rect x="23" y="6" width="1.02" height="1.02" fill="#c4c4ff"/>
<rect x="24" y="6" width="1.02" height="1.02" fill="#e0e0ff"/>
<rect x="25" y="6" width="1.02" height="1.02" fill="#e0e0ff"/>
<rect x="26" y="6" width="1.02" height="1.02" fill="#e0e0ff"/>
<rect x="27" y="6" width="1.02" height="1.02" fill="#ffe0e0"/>
<rect x="28" y="6" width="1.02" height="1.02" fill="#ffe0e0"/>
<rect x="29" y="6" width="1.02" height="1.02" fill="#ffe0e0"/>
<rect x="30" y="6" width="1.02" height="1.02" fill="#ffe0e0"/>
<rect x="31" y="6" width="1.02" height="1.02" fill="#ffe0e0"/>
<rect x="32" y="6" width="1.02" height="1.02" fill="#ffe0e0"/>
<rect x="33" y="6" width="1.02" height="1.02" fill="#ffe0e0"/>
<rect x="34" y="6" width="1.02" height="1.02" fill="#f4f0f8"/>
<rect x="35" y="6" width="1.02" height="1.02" fill="#f4f0f8"/>
<rect x="0" y="7" width="1.02" height="1.02" fill="#6060ff"/>
<rect x="1" y="7" width="1.02" height="1.02" fill="#6060ff"/>
<rect x="2" y="7" width="1.02" height="1.02" fill="#6060ff"/>
<rect x="3" y="7" width="1.02" height="1.02" fill="#6060ff"/>
<rect x="4" y="7" width="1.02" height="1.02" fill="#3838ff"/>
<rect x="5" y="7" width="1.02" height="1.02" fill="#0c0cff"/>
<rect x="6" y="7" width="1.02" height="1.02" fill="#6060ff"/>
<rect x="7" y="7" width="1.02" height="1.02" fill="#8484ff"/>
<rect x="8" y="7" width="1.02" height="1.02" fill="#8484ff"/>
<rect x="9" y="7" width="1.02" height="1.02" fill="#a4a4ff"/>
<rect x="10" y="7" width="1.02" height="1.02" fill="#a4a4ff"/>
<rect x="11" y="7" width="1.02" height="1.02" fill="#a4a4ff"/>
<rect x="12" y="7" width="1.02" height="1.02" fill="#8484ff"/>
<rect x="13" y="7" width="1.02" height="1.02" fill="#6060ff"/>
<rect x="14" y="7" width="1.02" height="1.02" fill="#8484ff"/>
<rect x="15" y="7" width="1.02" height="1.02" fill="#c4c4ff"/>
<rect x="16" y="7" width="1.02" height="1.02" fill="#c4c4ff"/>
<rect x="17" y="7" width="1.02" height="1.02" fill="#c4c4ff"/>
<rect x="18" y="7" width="1.02" height="1.02" fill="#c4c4ff"/>
<rect x="19" y="7" width="1.02" height="1.02" fill="#c4c4ff"/>
<rect x="20" y="7" width="1.02" height="1.02" fill="#c4c4ff"/>
<rect x="21" y="7" width="1.02" height="1.02" fill="#a4a4ff"/>
<rect x="22" y="7" width="1.02" height="1.02" fill="#c4c4ff"/>
<rect x="23" y="7" width="1.02" height="1.02" fill="#c4c4ff"/>
<rect x="24" y="7" width="1.02" height="1.02" fill="#ffe0e0"/>
<rect x="25" y="7" width="1.02" height="1.02" fill="#ffe0e0"/>
<rect x="26" y="7" width="1.02" height="1.02" fill="#ffe0e0"/>
<rect x="27" y="7" width="1.02" height="1.02" fill="#ffe0e0"/>
<rect x="28" y="7" width="1.02" height="1.02" fill="#ffe0e0"/>
<rect x="29" y="7" width="1.02" height="1.02" fill="#ffe0e0"/>
<rect x="30" y="7" width="1.02" height="1.02" fill="#ffe0e0"/>
<rect x="31" y="7" width="1.02" height="1.02" fill="#ffe0e0"/>
<rect x="32" y="7" width="1.02" height="1.02" fill="#ffe0e0"/>
<rect x="33" y="7" width="1.02" height="1.02" fill="#ffe0e0"/>
<rect x="34" y="7" width="1.02" height="1.02" fill="#ffe0e0"/>
<rect x="35" y="7" width="1.02" height="1.02" fill="#ffe0e0"/>
<rect x="0" y="8" width="1.02" height="1.02" fill="#6060ff"/>
<rect x="1" y="8" width="1.02" height="1.02" fill="#8484ff"/>
<rect x="2" y="8" width="1.02" height="1.02" fill="#6060ff"/>
<rect x="3" y="8" width="1.02" height="1.02" fill="#6060ff"/>
<rect x="4" y="8" width="1.02" height="1.02" fill="#6060ff"/>
<rect x="5" y="8" width="1.02" height="1.02" fill="#6060ff"/>
<rect x="6" y="8" width="1.02" height="1.02" fill="#6060ff"/>
<rect x="7" y="8" width="1.02" height="1.02" fill="#8484ff"/>
<rect x="8" y="8" width="1.02" height="1.02" fill="#a4a4ff"/>
<rect x="9" y="8" width="1.02" height="1.02" fill="#a4a4ff"/>
<rect x="10" y="8" width="1.02" height="1.02" fill="#a4a4ff"/>
<rect x="11" y="8" width="1.02" height="1.02" fill="#8484ff"/>
<rect x="12" y="8" width="1.02" height="1.02" fill="#8484ff"/>
<rect x="13" y="8" width="1.02" height="1.02" fill="#6060ff"/>
<rect x="14" y="8" width="1.02" height="1.02" fill="#8484ff"/>
<rect x="15" y="8" width="1.02" height="1.02" fill="#c4c4ff"/>
<rect x="16" y="8" width="1.02" height="1.02" fill="#c4c4ff"/>
<rect x="17" y="8" width="1.02" height="1.02" fill="#c4c4ff"/>
<rect x="18" y="8" width="1.02" height="1.02" fill="#c4c4ff"/>
<rect x="19" y="8" width="1.02" height="1.02" fill="#c4c4ff"/>
<rect x="20" y="8" width="1.02" height="1.02" fill="#c4c4ff"/>
<rect x="21" y="8" width="1.02" height="1.02" fill="#c4c4ff"/>
<rect x="22" y="8" width="1.02" height="1.02" fill="#c4c4ff"/>
<rect x="23" y="8" width="1.02" height="1.02" fill="#c4c4ff"/>
<rect x="24" y="8" width="1.02" height="1.02" fill="#ffe0e0"/>
<rect x="25" y="8" width="1.02" height="1.02" fill="#ffc8c8"/>
<rect x="26" y="8" width="1.02" height="1.02" fill="#ffc8c8"/>
<rect x="27" y="8" width="1.02" height="1.02" fill="#ffc8c8"/>
<rect x="28" y="8" width="1.02" height="1.02" fill="#ffc8c8"/>
<rect x="29" y="8" width="1.02" height="1.02" fill="#ffc8c8"/>
<rect x="30" y="8" width="1.02" height="1.02" fill="#ffc8c8"/>
<rect x="31" y="8" width="1.02" height="1.02" fill="#ffc8c8"/>
<rect x="32" y="8" width="1.02" height="1.02" fill="#ffc8c8"/>
<rect x="33" y="8" width="1.02" height="1.02" fill="#ffc8c8"/>
<rect x="34" y="8" width="1.02" height="1.02" fill="#ffc8c8"/>
<rect x="35" y="8" width="1.02" height="1.02" fill="#ffc8c8"/>
<rect x="0" y="9" width="1.02" height="1.02" fill="#8484ff"/>
<rect x="1" y="9" width="1.02" height="1.02" fill="#8484ff"/>
<rect x="2" y="9" width="1.02" height="1.02" fill="#8484ff"/>
<rect x="3" y="9" width="1.02" height="1.02" fill="#6060ff"/>
<rect x="4" y="9" width="1.02" height="1.02" fill="#8484ff"/>
<rect x="5" y="9" width="1.02" height="1.02" fill="#8484ff"/>
<rect x="6" y="9" width="1.02" height="1.02" fill="#8484ff"/>
<rect x="7" y="9" width="1.02" height="1.02" fill="#a4a4ff"/>
<rect x="8" y="9" width="1.02" height="1.02" fill="#a4a4ff"/>
<rect x="9" y="9" width="1.02" height="1.02" fill="#a4a4ff"/>
<rect x="10" y="9" width="1.02" height="1.02" fill="#c4c4ff"/>
<rect x="11" y="9" width="1.02" height="1.02" fill="#a4a4ff"/>
<rect x="12" y="9" width="1.02" height="1.02" fill="#6060ff"/>
<rect x="13" y="9" width="1.02" height="1.02" fill="#6060ff"/>
<rect x="14" y="9" width="1.02" height="1.02" fill="#8484ff"/>
<rect x="15" y="9" width="1.02" height="1.02" fill="#c4c4ff"/>
<rect x="16" y="9" width="1.02" height="1.02" fill="#c4c4ff"/>
<rect x="17" y="9" width="1.02" height="1.02" fill="#e0e0ff"/>
<rect x="18" y="9" width="1.02" height="1.02" fill="#e0e0ff"/>
<rect x="19" y="9" width="1.02" height="1.02" fill="#e0e0ff"/>
<rect x="20" y="9" width="1.02" height="1.02" fill="#e0e0ff"/>
<rect x="21" y="9" width="1.02" height="1.02" fill="#ffe0e0"/>
<rect x="22" y="9" width="1.02" height="1.02" fill="#ffe0e0"/>
<rect x="23" y="9" width="1.02" height="1.02" fill="#ffe0e0"/>
<rect x="24" y="9" width="1.02" height="1.02" fill="#ffc8c8"/>
<rect x="25" y="9" width="1.02" height="1.02" fill="#ffc8c8"/>
<rect x="26" y="9" width="1.02" height="1.02" fill="#ffc8c8"/>
<rect x="27" y="9" width="1.02" height="1.02" fill="#ffc8c8"/>
<rect x="28" y="9" width="1.02" height="1.02" fill="#ffc8c8"/>
<rect x="29" y="9" width="1.02" height="1.02" fill="#ffc8c8"/>
<rect x="30" y="9" width="1.02" height="1.02" fill="#ffc8c8"/>
<rect x="31" y="9" width="1.02" height="1.02" fill="#ffc8c8"/>
<rect x="32" y="9" width="1.02" height="1.02" fill="#ffc8c8"/>
<rect x="33" y="9" width="1.02" height="1.02" fill="#ffc8c8"/>
<rect x="34" y="9" width="1.02" height="1.02" fill="#ffc8c8"/>
<rect x="35" y="9" width="1.02" height="1.02" fill="#ffc8c8"/>
<rect x="0" y="10" width="1.02" height="1.02" fill="#8484ff"/>
<rect x="1" y="10" width="1.02" height="1.02" fill="#8484ff"/>
<rect x="2" y="10" width="1.02" height="1.02" fill="#8484ff"/>
<rect x="3" y="10" width="1.02" height="1.02" fill="#8484ff"/>
<rect x="4" y="10" width="1.02" height="1.02" fill="#8484ff"/>
<rect x="5" y="10" width="1.02" height="1.02" fill="#a4a4ff"/>
<rect x="6" y="10" width="1.02" height="1.02" fill="#c4c4ff"/>
<rect x="7" y="10" width="1.02" height="1.02" fill="#c4c4ff"/>
<rect x="8" y="10" width="1.02" height="1.02" fill="#a4a4ff"/>
<rect x="9" y="10" width="1.02" height="1.02" fill="#a4a4ff"/>
<rect x="10" y="10" width="1.02" height="1.02" fill="#c4c4ff"/>
<rect x="11" y="10" width="1.02" height="1.02" fill="#a4a4ff"/>
<rect x="12" y="10" width="1.02" height="1.02" fill="#6060ff"/>
<rect x="13" y="10" width="1.02" height="1.02" fill="#3838ff"/>
<rect x="14" y="10" width="1.02" height="1.02" fill="#8484ff"/>
<rect x="15" y="10" width="1.02" height="1.02" fill="#c4c4ff"/>
<rect x="16" y="10" width="1.02" height="1.02" fill="#e0e0ff"/>
<rect x="17" y="10" width="1.02" height="1.02" fill="#e0e0ff"/>
<rect x="18" y="10" width="1.02" height="1.02" fill="#e0e0ff"/>
<rect x="19" y="10" width="1.02" height="1.02" fill="#e0e0ff"/>
<rect x="20" y="10" width="1.02" height="1.02" fill="#ffe0e0"/>
<rect x="21" y="10" width="1.02" height="1.02" fill="#ffe0e0"/>
<rect x="22" y="10" width="1.02" height="1.02" fill="#ffe0e0"/>
<rect x="23" y="10" width="1.02" height="1.02" fill="#ffe0e0"/>
<rect x="24" y="10" width="1.02" height="1.02" fill="#ffc8c8"/>
<rect x="25" y="10" width="1.02" height="1.02" fill="#ffc8c8"/>
<rect x="26" y="10" width="1.02" height="1.02" fill="#ffc8c8"/>
<rect x="27" y="10" width="1.02" height="1.02" fill="#ffc8c8"/>
<rect x="28" y="10" width="1.02" height="1.02" fill="#ffc8c8"/>
<rect x="29" y="10" width="1.02" height="1.02" fill="#ffc8c8"/>
<rect x="30" y="10" width="1.02" height="1.02" fill="#ffc8c8"/>
<rect x="31" y="10" width="1.02" height="1.02" fill="#ffc8c8"/>
<rect x="32" y="10" width="1.02" height="1.02" fill="#ffc8c8"/>
<rect x="33" y="10" width="1.02" height="1.02" fill="#ffc8c8"/>
<rect x="34" y="10" width="1.02" height="1.02" fill="#ffc8c8"/>
<rect x="35" y="10" width="1.02" height="1.02" fill="#ffc8c8"/>
<rect x="0" y="11" width="1.02" height="1.02" fill="#6060ff"/>
<rect x="1" y="11" width="1.02" height="1.02" fill="#6060ff"/>
<rect x="2" y="11" width="1.02" height="1.02" fill="#8484ff"/>
<rect x="3" y="11" width="1.02" height="1.02" fill="#a4a4ff"/>
<rect x="4" y="11" width="1.02" height="1.02" fill="#a4a4ff"/>
<rect x="5" y="11" width="1.02" height="1.02" fill="#c4c4ff"/>
<rect x="6" y="11" width="1.02" height="1.02" fill="#c4c4ff"/>
<rect x="7" y="11" width="1.02" height="1.02" fill="#c4c4ff"/>
<rect x="8" y="11" width="1.02" height="1.02" fill="#c4c4ff"/>
<rect x="9" y="11" width="1.02" height="1.02" fill="#c4c4ff"/>
<rect x="10" y="11" width="1.02" height="1.02" fill="#c4c4ff"/>
<rect x="11" y="11" width="1.02" height="1.02" fill="#a4a4ff"/>
<rect x="12" y="11" width="1.02" height="1.02" fill="#8484ff"/>
<rect x="13" y="11" width="1.02" height="1.02" fill="#3838ff"/>
<rect x="14" y="11" width="1.02" height="1.02" fill="#8484ff"/>
<rect x="15" y="11" width="1.02" height="1.02" fill="#c4c4ff"/>
<rect x="16" y="11" width="1.02" height="1.02" fill="#e0e0ff"/>
<rect x="17" y="11" width="1.02" height="1.02" fill="#e0e0ff"/>
<rect x="18" y="11" width="1.02" height="1.02" fill="#ffe0e0"/>
<rect x="19" y="11" width="1.02" height="1.02" fill="#ffe0e0"/>
<rect x="20" y="11" width="1.02" height="1.02" fill="#ffe0e0"/>
<rect x="21" y="11" width="1.02" height="1.02" fill="#ffe0e0"/>
<rect x="22" y="11" width="1.02" height="1.02" fill="#ffc8c8"/>
<rect x="23" y="11" width="1.02" height="1.02" fill="#ffc8c8"/>
<rect x="24" y="11" width="1.02" height="1.02" fill="#ffc8c8"/>
<rect x="25" y="11" width="1.02" height="1.02" fill="#ffc8c8"/>
<rect x="26" y="11" width="1.02" height="1.02" fill="#ffc8c8"/>
<rect x="27" y="11" width="1.02" height="1.02" fill="#ffc8c8"/>
<rect x="28" y="11" width="1.02" height="1.02" fill="#ffc8c8"/>
<rect x="29" y="11" width="1.02" height="1.02" fill="#ffc8c8"/>
<rect x="30" y="11" width="1.02" height="1.02" fill="#ffc8c8"/>
<rect x="31" y="11" width="1.02" height="1.02" fill="#ffc8c8"/>
<rect x="32" y="11" width="1.02" height="1.02" fill="#ffc8c8"/>
<rect x="33" y="11" width="1.02" height="1.02" fill="#ffc8c8"/>
<rect x="34" y="11" width="1.02" height="1.02" fill="#ffc8c8"/>
<rect x="35" y="11" width="1.02" height="1.02" fill="#ffc8c8"/>
<rect x="0" y="12" width="1.02" height="1.02" fill="#6060ff"/>
<rect x="1" y="12" width="1.02" height="1.02" fill="#6060ff"/>
<rect x="2" y="12" width="1.02" height="1.02" fill="#8484ff"/>
<rect x="3" y="12" width="1.02" height="1.02" fill="#a4a4ff"/>
<rect x="4" y="12" width="1.02" height="1.02" fill="#a4a4ff"/>
<rect x="5" y="12" width="1.02" height="1.02" fill="#c4c4ff"/>
<rect x="6" y="12" width="1.02" height="1.02" fill="#e0e0ff"/>
<rect x="7" y="12" width="1.02" height="1.02" fill="#ffe0e0"/>
<rect x="8" y="12" width="1.02" height="1.02" fill="#c4c4ff"/>
<rect x="9" y="12" width="1.02" height="1.02" fill="#a4a4ff"/>
<rect x="10" y="12" width="1.02" height="1.02" fill="#c4c4ff"/>
<rect x="11" y="12" width="1.02" height="1.02" fill="#a4a4ff"/>
<rect x="12" y="12" width="1.02" height="1.02" fill="#a4a4ff"/>
<rect x="13" y="12" width="1.02" height="1.02" fill="#6060ff"/>
<rect x="14" y="12" width="1.02" height="1.02" fill="#a4a4ff"/>
<rect x="15" y="12" width="1.02" height="1.02" fill="#e0e0ff"/>
<rect x="16" y="12" width="1.02" height="1.02" fill="#e0e0ff"/>
<rect x="17" y="12" width="1.02" height="1.02" fill="#ffe0e0"/>
<rect x="18" y="12" width="1.02" height="1.02" fill="#ffe0e0"/>
<rect x="19" y="12" width="1.02" height="1.02" fill="#ffc8c8"/>
<rect x="20" y="12" width="1.02" height="1.02" fill="#ffc8c8"/>
<rect x="21" y="12" width="1.02" height="1.02" fill="#ffc8c8"/>
<rect x="22" y="12" width="1.02" height="1.02" fill="#ffc8c8"/>
<rect x="23" y="12" width="1.02" height="1.02" fill="#ffc8c8"/>
<rect x="24" y="12" width="1.02" height="1.02" fill="#ffc8c8"/>
<rect x="25" y="12" width="1.02" height="1.02" fill="#ffc8c8"/>
<rect x="26" y="12" width="1.02" height="1.02" fill="#ffc8c8"/>
<rect x="27" y="12" width="1.02" height="1.02" fill="#ffc8c8"/>
<rect x="28" y="12" width="1.02" height="1.02" fill="#ffc8c8"/>
<rect x="29" y="12" width="1.02" height="1.02" fill="#ffc8c8"/>
<rect x="30" y="12" width="1.02" height="1.02" fill="#ffc8c8"/>
<rect x="31" y="12" width="1.02" height="1.02" fill="#ffc8c8"/>
<rect x="32" y="12" width="1.02" height="1.02" fill="#ffc8c8"/>
<rect x="33" y="12" width="1.02" height="1.02" fill="#ffc8c8"/>
<rect x="34" y="12" width="1.02" height="1.02" fill="#ffc8c8"/>
<rect x="35" y="12" width="1.02" height="1.02" fill="#ffc8c8"/>
<rect x="0" y="13" width="1.02" height="1.02" fill="#6060ff"/>
<rect x="1" y="13" width="1.02" height="1.02" fill="#6060ff"/>
<rect x="2" y="13" width="1.02" height="1.02" fill="#6060ff"/>
<rect x="3" y="13" width="1.02" height="1.02" fill="#8484ff"/>
<rect x="4" y="13" width="1.02" height="1.02" fill="#a4a4ff"/>
<rect x="5" y="13" width="1.02" height="1.02" fill="#e0e0ff"/>
<rect x="6" y="13" width="1.02" height="1.02" fill="#c4c4ff"/>
<rect x="7" y="13" width="1.02" height="1.02" fill="#c4c4ff"/>
<rect x="8" y="13" width="1.02" height="1.02" fill="#c4c4ff"/>
<rect x="9" y="13" width="1.02" height="1.02" fill="#c4c4ff"/>
<rect x="10" y="13" width="1.02" height="1.02" fill="#c4c4ff"/>
<rect x="11" y="13" width="1.02" height="1.02" fill="#a4a4ff"/>
<rect x="12" y="13" width="1.02" height="1.02" fill="#a4a4ff"/>
<rect x="13" y="13" width="1.02" height="1.02" fill="#3838ff"/>
<rect x="14" y="13" width="1.02" height="1.02" fill="#8484ff"/>
<rect x="15" y="13" width="1.02" height="1.02" fill="#e0e0ff"/>
<rect x="16" y="13" width="1.02" height="1.02" fill="#ffe0e0"/>
<rect x="17" y="13" width="1.02" height="1.02" fill="#ffe0e0"/>
<rect x="18" y="13" width="1.02" height="1.02" fill="#ffc8c8"/>
<rect x="19" y="13" width="1.02" height="1.02" fill="#ffc8c8"/>
<rect x="20" y="13" width="1.02" height="1.02" fill="#ffc8c8"/>
<rect x="21" y="13" width="1.02" height="1.02" fill="#ffc8c8"/>
<rect x="22" y="13" width="1.02" height="1.02" fill="#ffc8c8"/>
<rect x="23" y="13" width="1.02" height="1.02" fill="#ffc8c8"/>
<rect x="24" y="13" width="1.02" height="1.02" fill="#ffc8c8"/>
<rect x="25" y="13" width="1.02" height="1.02" fill="#ffc8c8"/>
<rect x="26" y="13" width="1.02" height="1.02" fill="#ffc8c8"/>
<rect x="27" y="13" width="1.02" height="1.02" fill="#ffc8c8"/>
<rect x="28" y="13" width="1.02" height="1.02" fill="#ffc8c8"/>
<rect x="29" y="13" width="1.02" height="1.02" fill="#ffc8c8"/>
<rect x="30" y="13" width="1.02" height="1.02" fill="#ffc8c8"/>
<rect x="31" y="13" width="1.02" height="1.02" fill="#ffc8c8"/>
<rect x="32" y="13" width="1.02" height="1.02" fill="#ffc8c8"/>
<rect x="33" y="13" width="1.02" height="1.02" fill="#ffc8c8"/>
<rect x="34" y="13" width="1.02" height="1.02" fill="#ffc8c8"/>
<rect x="35" y="13" width="1.02" height="1.02" fill="#ffc8c8"/>
<rect x="0" y="14" width="1.02" height="1.02" fill="#a4a4ff"/>
<rect x="1" y="14" width="1.02" height="1.02" fill="#a4a4ff"/>
<rect x="2" y="14" width="1.02" height="1.02" fill="#a4a4ff"/>
<rect x="3" y="14" width="1.02" height="1.02" fill="#a4a4ff"/>
<rect x="4" y="14" width="1.02" height="1.02" fill="#c4c4ff"/>
<rect x="5" y="14" width="1.02" height="1.02" fill="#e0e0ff"/>
<rect x="6" y="14" width="1.02" height="1.02" fill="#ffe0e0"/>
<rect x="7" y="14" width="1.02" height="1.02" fill="#e0e0ff"/>
<rect x="8" y="14" width="1.02" height="1.02" fill="#ffe0e0"/>
<rect x="9" y="14" width="1.02" height="1.02" fill="#e0e0ff"/>
<rect x="10" y="14" width="1.02" height="1.02" fill="#e0e0ff"/>
<rect x="11" y="14" width="1.02" height="1.02" fill="#c4c4ff"/>
<rect x="12" y="14" width="1.02" height="1.02" fill="#c4c4ff"/>
<rect x="13" y="14" width="1.02" height="1.02" fill="#a4a4ff"/>
<rect x="14" y="14" width="1.02" height="1.02" fill="#c4c4ff"/>
<rect x="15" y="14" width="1.02" height="1.02" fill="#e0e0ff"/>
<rect x="16" y="14" width="1.02" height="1.02" fill="#ffe0e0"/>
<rect x="17" y="14" width="1.02" height="1.02" fill="#ffc8c8"/>
<rect x="18" y="14" width="1.02" height="1.02" fill="#ffc8c8"/>
<rect x="19" y="14" width="1.02" height="1.02" fill="#ffc8c8"/>
<rect x="20" y="14" width="1.02" height="1.02" fill="#ffc8c8"/>
<rect x="21" y="14" width="1.02" height="1.02" fill="#ffc8c8"/>
<rect x="22" y="14" width="1.02" height="1.02" fill="#ffc8c8"/>
<rect x="23" y="14" width="1.02" height="1.02" fill="#ffc8c8"/>
<rect x="24" y="14" width="1.02" height="1.02" fill="#ffc8c8"/>
<rect x="25" y="14" width="1.02" height="1.02" fill="#ffc8c8"/>
<rect x="26" y="14" width="1.02" height="1.02" fill="#ffc8c8"/>
<rect x="27" y="14" width="1.02" height="1.02" fill="#ffc8c8"/>
<rect x="28" y="14" width="1.02" height="1.02" fill="#ffc8c8"/>
<rect x="29" y="14" width="1.02" height="1.02" fill="#ffc8c8"/>
<rect x="30" y="14" width="1.02" height="1.02" fill="#ffc8c8"/>
<rect x="31" y="14" width="1.02" height="1.02" fill="#ffc8c8"/>
<rect x="32" y="14" width="1.02" height="1.02" fill="#ffc8c8"/>
<rect x="33" y="14" width="1.02" height="1.02" fill="#ffc8c8"/>
<rect x="34" y="14" width="1.02" height="1.02" fill="#ffc8c8"/>
<rect x="35" y="14" width="1.02" height="1.02" fill="#ffc8c8"/>
<rect x="0" y="15" width="1.02" height="1.02" fill="#a4a4ff"/>
<rect x="1" y="15" width="1.02" height="1.02" fill="#a4a4ff"/>
<rect x="2" y="15" width="1.02" height="1.02" fill="#a4a4ff"/>
<rect x="3" y="15" width="1.02" height="1.02" fill="#c4c4ff"/>
<rect x="4" y="15" width="1.02" height="1.02" fill="#c4c4ff"/>
<rect x="5" y="15" width="1.02" height="1.02" fill="#e0e0ff"/>
<rect x="6" y="15" width="1.02" height="1.02" fill="#e0e0ff"/>
<rect x="7" y="15" width="1.02" height="1.02" fill="#e0e0ff"/>
<rect x="8" y="15" width="1.02" height="1.02" fill="#ffe0e0"/>
<rect x="9" y="15" width="1.02" height="1.02" fill="#e0e0ff"/>
<rect x="10" y="15" width="1.02" height="1.02" fill="#e0e0ff"/>
<rect x="11" y="15" width="1.02" height="1.02" fill="#e0e0ff"/>
<rect x="12" y="15" width="1.02" height="1.02" fill="#e0e0ff"/>
<rect x="13" y="15" width="1.02" height="1.02" fill="#c4c4ff"/>
<rect x="14" y="15" width="1.02" height="1.02" fill="#e0e0ff"/>
<rect x="15" y="15" width="1.02" height="1.02" fill="#ffe0e0"/>
<rect x="16" y="15" width="1.02" height="1.02" fill="#ffe0e0"/>
<rect x="17" y="15" width="1.02" height="1.02" fill="#ffc8c8"/>
<rect x="18" y="15" width="1.02" height="1.02" fill="#ffc8c8"/>
<rect x="19" y="15" width="1.02" height="1.02" fill="#ffc8c8"/>
<rect x="20" y="15" width="1.02" height="1.02" fill="#ffc8c8"/>
<rect x="21" y="15" width="1.02" height="1.02" fill="#ffc8c8"/>
<rect x="22" y="15" width="1.02" height="1.02" fill="#ffc8c8"/>
<rect x="23" y="15" width="1.02" height="1.02" fill="#ffc8c8"/>
<rect x="24" y="15" width="1.02" height="1.02" fill="#ffa8a8"/>
<rect x="25" y="15" width="1.02" height="1.02" fill="#ffa8a8"/>
<rect x="26" y="15" width="1.02" height="1.02" fill="#ffa8a8"/>
<rect x="27" y="15" width="1.02" height="1.02" fill="#ffa8a8"/>
<rect x="28" y="15" width="1.02" height="1.02" fill="#ffa8a8"/>
<rect x="29" y="15" width="1.02" height="1.02" fill="#ffc8c8"/>
<rect x="30" y="15" width="1.02" height="1.02" fill="#ffa8a8"/>
<rect x="31" y="15" width="1.02" height="1.02" fill="#ffa8a8"/>
<rect x="32" y="15" width="1.02" height="1.02" fill="#ffa8a8"/>
<rect x="33" y="15" width="1.02" height="1.02" fill="#ffa8a8"/>
<rect x="34" y="15" width="1.02" height="1.02" fill="#ffa8a8"/>
<rect x="35" y="15" width="1.02" height="1.02" fill="#ffa8a8"/>
<rect x="0" y="16" width="1.02" height="1.02" fill="#c4c4ff"/>
<rect x="1" y="16" width="1.02" height="1.02" fill="#c4c4ff"/>
<rect x="2" y="16" width="1.02" height="1.02" fill="#a4a4ff"/>
<rect x="3" y="16" width="1.02" height="1.02" fill="#a4a4ff"/>
<rect x="4" y="16" width="1.02" height="1.02" fill="#c4c4ff"/>
<rect x="5" y="16" width="1.02" height="1.02" fill="#e0e0ff"/>
<rect x="6" y="16" width="1.02" height="1.02" fill="#ffe0e0"/>
<rect x="7" y="16" width="1.02" height="1.02" fill="#ffe0e0"/>
<rect x="8" y="16" width="1.02" height="1.02" fill="#ffe0e0"/>
<rect x="9" y="16" width="1.02" height="1.02" fill="#ffe0e0"/>
<rect x="10" y="16" width="1.02" height="1.02" fill="#e0e0ff"/>
<rect x="11" y="16" width="1.02" height="1.02" fill="#e0e0ff"/>
<rect x="12" y="16" width="1.02" height="1.02" fill="#e0e0ff"/>
<rect x="13" y="16" width="1.02" height="1.02" fill="#e0e0ff"/>
<rect x="14" y="16" width="1.02" height="1.02" fill="#ffe0e0"/>
<rect x="15" y="16" width="1.02" height="1.02" fill="#ffe0e0"/>
<rect x="16" y="16" width="1.02" height="1.02" fill="#ffc8c8"/>
<rect x="17" y="16" width="1.02" height="1.02" fill="#ffc8c8"/>
<rect x="18" y="16" width="1.02" height="1.02" fill="#ffc8c8"/>
<rect x="19" y="16" width="1.02" height="1.02" fill="#ffc8c8"/>
<rect x="20" y="16" width="1.02" height="1.02" fill="#ffc8c8"/>
<rect x="21" y="16" width="1.02" height="1.02" fill="#ffc8c8"/>
<rect x="22" y="16" width="1.02" height="1.02" fill="#ffc8c8"/>
<rect x="23" y="16" width="1.02" height="1.02" fill="#ffc8c8"/>
<rect x="24" y="16" width="1.02" height="1.02" fill="#ffa8a8"/>
<rect x="25" y="16" width="1.02" height="1.02" fill="#ffa8a8"/>
<rect x="26" y="16" width="1.02" height="1.02" fill="#ffa8a8"/>
<rect x="27" y="16" width="1.02" height="1.02" fill="#ffa8a8"/>
<rect x="28" y="16" width="1.02" height="1.02" fill="#ffa8a8"/>
<rect x="29" y="16" width="1.02" height="1.02" fill="#ffa8a8"/>
<rect x="30" y="16" width="1.02" height="1.02" fill="#ffa8a8"/>
<rect x="31" y="16" width="1.02" height="1.02" fill="#ff8888"/>
<rect x="32" y="16" width="1.02" height="1.02" fill="#ff8888"/>
<rect x="33" y="16" width="1.02" height="1.02" fill="#ff8888"/>
<rect x="34" y="16" width="1.02" height="1.02" fill="#ffa8a8"/>
<rect x="35" y="16" width="1.02" height="1.02" fill="#ffa8a8"/>
<rect x="0" y="17" width="1.02" height="1.02" fill="#c4c4ff"/>
<rect x="1" y="17" width="1.02" height="1.02" fill="#c4c4ff"/>
<rect x="2" y="17" width="1.02" height="1.02" fill="#c4c4ff"/>
<rect x="3" y="17" width="1.02" height="1.02" fill="#c4c4ff"/>
<rect x="4" y="17" width="1.02" height="1.02" fill="#e0e0ff"/>
<rect x="5" y="17" width="1.02" height="1.02" fill="#e0e0ff"/>
<rect x="6" y="17" width="1.02" height="1.02" fill="#ffe0e0"/>
<rect x="7" y="17" width="1.02" height="1.02" fill="#ffc8c8"/>
<rect x="8" y="17" width="1.02" height="1.02" fill="#ffe0e0"/>
<rect x="9" y="17" width="1.02" height="1.02" fill="#ffe0e0"/>
<rect x="10" y="17" width="1.02" height="1.02" fill="#ffe0e0"/>
<rect x="11" y="17" width="1.02" height="1.02" fill="#e0e0ff"/>
<rect x="12" y="17" width="1.02" height="1.02" fill="#e0e0ff"/>
<rect x="13" y="17" width="1.02" height="1.02" fill="#ffe0e0"/>
<rect x="14" y="17" width="1.02" height="1.02" fill="#ffe0e0"/>
<rect x="15" y="17" width="1.02" height="1.02" fill="#ffe0e0"/>
<rect x="16" y="17" width="1.02" height="1.02" fill="#ffc8c8"/>
<rect x="17" y="17" width="1.02" height="1.02" fill="#ffc8c8"/>
<rect x="18" y="17" width="1.02" height="1.02" fill="#ffc8c8"/>
<rect x="19" y="17" width="1.02" height="1.02" fill="#ffc8c8"/>
<rect x="20" y="17" width="1.02" height="1.02" fill="#ffc8c8"/>
<rect x="21" y="17" width="1.02" height="1.02" fill="#ffc8c8"/>
<rect x="22" y="17" width="1.02" height="1.02" fill="#ffc8c8"/>
<rect x="23" y="17" width="1.02" height="1.02" fill="#ffc8c8"/>
<rect x="24" y="17" width="1.02" height="1.02" fill="#ffa8a8"/>
<rect x="25" y="17" width="1.02" height="1.02" fill="#ffa8a8"/>
<rect x="26" y="17" width="1.02" height="1.02" fill="#ffa8a8"/>
<rect x="27" y="17" width="1.02" height="1.02" fill="#ffa8a8"/>
<rect x="28" y="17" width="1.02" height="1.02" fill="#ffa8a8"/>
<rect x="29" y="17" width="1.02" height="1.02" fill="#ffa8a8"/>
<rect x="30" y="17" width="1.02" height="1.02" fill="#ff8888"/>
<rect x="31" y="17" width="1.02" height="1.02" fill="#ff8888"/>
<rect x="32" y="17" width="1.02" height="1.02" fill="#ff8888"/>
<rect x="33" y="17" width="1.02" height="1.02" fill="#ff8888"/>
<rect x="34" y="17" width="1.02" height="1.02" fill="#ffa8a8"/>
<rect x="35" y="17" width="1.02" height="1.02" fill="#ffa8a8"/>
<rect x="0" y="18" width="1.02" height="1.02" fill="#c4c4ff"/>
<rect x="1" y="18" width="1.02" height="1.02" fill="#c4c4ff"/>
<rect x="2" y="18" width="1.02" height="1.02" fill="#c4c4ff"/>
<rect x="3" y="18" width="1.02" height="1.02" fill="#e0e0ff"/>
<rect x="4" y="18" width="1.02" height="1.02" fill="#e0e0ff"/>
<rect x="5" y="18" width="1.02" height="1.02" fill="#e0e0ff"/>
<rect x="6" y="18" width="1.02" height="1.02" fill="#ffe0e0"/>
<rect x="7" y="18" width="1.02" height="1.02" fill="#ffe0e0"/>
<rect x="8" y="18" width="1.02" height="1.02" fill="#ffe0e0"/>
<rect x="9" y="18" width="1.02" height="1.02" fill="#ffe0e0"/>
<rect x="10" y="18" width="1.02" height="1.02" fill="#ffe0e0"/>
<rect x="11" y="18" width="1.02" height="1.02" fill="#e0e0ff"/>
<rect x="12" y="18" width="1.02" height="1.02" fill="#ffe0e0"/>
<rect x="13" y="18" width="1.02" height="1.02" fill="#ffe0e0"/>
<rect x="14" y="18" width="1.02" height="1.02" fill="#ffe0e0"/>
<rect x="15" y="18" width="1.02" height="1.02" fill="#ffc8c8"/>
<rect x="16" y="18" width="1.02" height="1.02" fill="#ffc8c8"/>
<rect x="17" y="18" width="1.02" height="1.02" fill="#ffc8c8"/>
<rect x="18" y="18" width="1.02" height="1.02" fill="#ffc8c8"/>
<rect x="19" y="18" width="1.02" height="1.02" fill="#ffc8c8"/>
<rect x="20" y="18" width="1.02" height="1.02" fill="#ffc8c8"/>
<rect x="21" y="18" width="1.02" height="1.02" fill="#ffc8c8"/>
<rect x="22" y="18" width="1.02" height="1.02" fill="#ffc8c8"/>
<rect x="23" y="18" width="1.02" height="1.02" fill="#ffc8c8"/>
<rect x="24" y="18" width="1.02" height="1.02" fill="#ffa8a8"/>
<rect x="25" y="18" width="1.02" height="1.02" fill="#ffa8a8"/>
<rect x="26" y="18" width="1.02" height="1.02" fill="#ffa8a8"/>
<rect x="27" y="18" width="1.02" height="1.02" fill="#ffa8a8"/>
<rect x="28" y="18" width="1.02" height="1.02" fill="#ffa8a8"/>
<rect x="29" y="18" width="1.02" height="1.02" fill="#ff8888"/>
<rect x="30" y="18" width="1.02" height="1.02" fill="#ff8888"/>
<rect x="31" y="18" width="1.02" height="1.02" fill="#ff8888"/>
<rect x="32" y="18" width="1.02" height="1.02" fill="#ff8888"/>
<rect x="33" y="18" width="1.02" height="1.02" fill="#ff8888"/>
<rect x="34" y="18" width="1.02" height="1.02" fill="#ffa8a8"/>
<rect x="35" y="18" width="1.02" height="1.02" fill="#ffa8a8"/>
<rect x="0" y="19" width="1.02" height="1.02" fill="#c4c4ff"/>
<rect x="1" y="19" width="1.02" height="1.02" fill="#e0e0ff"/>
<rect x="2" y="19" width="1.02" height="1.02" fill="#e0e0ff"/>
<rect x="3" y="19" width="1.02" height="1.02" fill="#e0e0ff"/>
<rect x="4" y="19" width="1.02" height="1.02" fill="#e0e0ff"/>
<rect x="5" y="19" width="1.02" height="1.02" fill="#e0e0ff"/>
<rect x="6" y="19" width="1.02" height="1.02" fill="#e0e0ff"/>
<rect x="7" y="19" width="1.02" height="1.02" fill="#ffe0e0"/>
<rect x="8" y="19" width="1.02" height="1.02" fill="#ffe0e0"/>
<rect x="9" y="19" width="1.02" height="1.02" fill="#ffe0e0"/>
<rect x="10" y="19" width="1.02" height="1.02" fill="#ffe0e0"/>
<rect x="11" y="19" width="1.02" height="1.02" fill="#ffe0e0"/>
<rect x="12" y="19" width="1.02" height="1.02" fill="#ffe0e0"/>
<rect x="13" y="19" width="1.02" height="1.02" fill="#ffe0e0"/>
<rect x="14" y="19" width="1.02" height="1.02" fill="#ffe0e0"/>
<rect x="15" y="19" width="1.02" height="1.02" fill="#ffc8c8"/>
<rect x="16" y="19" width="1.02" height="1.02" fill="#ffc8c8"/>
<rect x="17" y="19" width="1.02" height="1.02" fill="#ffc8c8"/>
<rect x="18" y="19" width="1.02" height="1.02" fill="#ffc8c8"/>
<rect x="19" y="19" width="1.02" height="1.02" fill="#ffc8c8"/>
<rect x="20" y="19" width="1.02" height="1.02" fill="#ffc8c8"/>
<rect x="21" y="19" width="1.02" height="1.02" fill="#ffc8c8"/>
<rect x="22" y="19" width="1.02" height="1.02" fill="#ffc8c8"/>
<rect x="23" y="19" width="1.02" height="1.02" fill="#ffc8c8"/>
<rect x="24" y="19" width="1.02" height="1.02" fill="#ffa8a8"/>
<rect x="25" y="19" width="1.02" height="1.02" fill="#ffa8a8"/>
<rect x="26" y="19" width="1.02" height="1.02" fill="#ffa8a8"/>
<rect x="27" y="19" width="1.02" height="1.02" fill="#ffa8a8"/>
<rect x="28" y="19" width="1.02" height="1.02" fill="#ffa8a8"/>
<rect x="29" y="19" width="1.02" height="1.02" fill="#ff8888"/>
<rect x="30" y="19" width="1.02" height="1.02" fill="#ff8888"/>
<rect x="31" y="19" width="1.02" height="1.02" fill="#ff8888"/>
<rect x="32" y="19" width="1.02" height="1.02" fill="#ff8888"/>
<rect x="33" y="19" width="1.02" height="1.02" fill="#ffa8a8"/>
<rect x="34" y="19" width="1.02" height="1.02" fill="#ffa8a8"/>
<rect x="35" y="19" width="1.02" height="1.02" fill="#ffa8a8"/>
<rect x="0" y="20" width="1.02" height="1.02" fill="#e0e0ff"/>
<rect x="1" y="20" width="1.02" height="1.02" fill="#e0e0ff"/>
<rect x="2" y="20" width="1.02" height="1.02" fill="#e0e0ff"/>
<rect x="3" y="20" width="1.02" height="1.02" fill="#e0e0ff"/>
<rect x="4" y="20" width="1.02" height="1.02" fill="#e0e0ff"/>
<rect x="5" y="20" width="1.02" height="1.02" fill="#e0e0ff"/>
<rect x="6" y="20" width="1.02" height="1.02" fill="#e0e0ff"/>
<rect x="7" y="20" width="1.02" height="1.02" fill="#ffe0e0"/>
<rect x="8" y="20" width="1.02" height="1.02" fill="#ffe0e0"/>
<rect x="9" y="20" width="1.02" height="1.02" fill="#ffe0e0"/>
<rect x="10" y="20" width="1.02" height="1.02" fill="#ffe0e0"/>
<rect x="11" y="20" width="1.02" height="1.02" fill="#ffe0e0"/>
<rect x="12" y="20" width="1.02" height="1.02" fill="#ffe0e0"/>
<rect x="13" y="20" width="1.02" height="1.02" fill="#ffe0e0"/>
<rect x="14" y="20" width="1.02" height="1.02" fill="#ffc8c8"/>
<rect x="15" y="20" width="1.02" height="1.02" fill="#ffc8c8"/>
<rect x="16" y="20" width="1.02" height="1.02" fill="#ffc8c8"/>
<rect x="17" y="20" width="1.02" height="1.02" fill="#ffc8c8"/>
<rect x="18" y="20" width="1.02" height="1.02" fill="#ffc8c8"/>
<rect x="19" y="20" width="1.02" height="1.02" fill="#ffc8c8"/>
<rect x="20" y="20" width="1.02" height="1.02" fill="#ffc8c8"/>
<rect x="21" y="20" width="1.02" height="1.02" fill="#ffc8c8"/>
<rect x="22" y="20" width="1.02" height="1.02" fill="#ffc8c8"/>
<rect x="23" y="20" width="1.02" height="1.02" fill="#ffc8c8"/>
<rect x="24" y="20" width="1.02" height="1.02" fill="#ffa8a8"/>
<rect x="25" y="20" width="1.02" height="1.02" fill="#ffa8a8"/>
<rect x="26" y="20" width="1.02" height="1.02" fill="#ffa8a8"/>
<rect x="27" y="20" width="1.02" height="1.02" fill="#ffa8a8"/>
<rect x="28" y="20" width="1.02" height="1.02" fill="#ffa8a8"/>
<rect x="29" y="20" width="1.02" height="1.02" fill="#ffa8a8"/>
<rect x="30" y="20" width="1.02" height="1.02" fill="#ffa8a8"/>
<rect x="31" y="20" width="1.02" height="1.02" fill="#ffa8a8"/>
<rect x="32" y="20" width="1.02" height="1.02" fill="#ffa8a8"/>
<rect x="33" y="20" width="1.02" height="1.02" fill="#ffa8a8"/>
<rect x="34" y="20" width="1.02" height="1.02" fill="#ffa8a8"/>
<rect x="35" y="20" width="1.02" height="1.02" fill="#ffa8a8"/>
<rect x="0" y="21" width="1.02" height="1.02" fill="#ffe0e0"/>
<rect x="1" y="21" width="1.02" height="1.02" fill="#ffe0e0"/>
<rect x="2" y="21" width="1.02" height="1.02" fill="#ffe0e0"/>
<rect x="3" y="21" width="1.02" height="1.02" fill="#ffe0e0"/>
<rect x="4" y="21" width="1.02" height="1.02" fill="#ffe0e0"/>
<rect x="5" y="21" width="1.02" height="1.02" fill="#e0e0ff"/>
<rect x="6" y="21" width="1.02" height="1.02" fill="#ffe0e0"/>
<rect x="7" y="21" width="1.02" height="1.02" fill="#ffe0e0"/>
<rect x="8" y="21" width="1.02" height="1.02" fill="#ffe0e0"/>
<rect x="9" y="21" width="1.02" height="1.02" fill="#ffe0e0"/>
<rect x="10" y="21" width="1.02" height="1.02" fill="#ffe0e0"/>
<rect x="11" y="21" width="1.02" height="1.02" fill="#ffe0e0"/>
<rect x="12" y="21" width="1.02" height="1.02" fill="#ffe0e0"/>
<rect x="13" y="21" width="1.02" height="1.02" fill="#ffe0e0"/>
<rect x="14" y="21" width="1.02" height="1.02" fill="#ffc8c8"/>
<rect x="15" y="21" width="1.02" height="1.02" fill="#ffc8c8"/>
<rect x="16" y="21" width="1.02" height="1.02" fill="#ffc8c8"/>
<rect x="17" y="21" width="1.02" height="1.02" fill="#ffc8c8"/>
<rect x="18" y="21" width="1.02" height="1.02" fill="#ffc8c8"/>
<rect x="19" y="21" width="1.02" height="1.02" fill="#ffc8c8"/>
<rect x="20" y="21" width="1.02" height="1.02" fill="#ffc8c8"/>
<rect x="21" y="21" width="1.02" height="1.02" fill="#ffc8c8"/>
<rect x="22" y="21" width="1.02" height="1.02" fill="#ffc8c8"/>
<rect x="23" y="21" width="1.02" height="1.02" fill="#ffc8c8"/>
<rect x="24" y="21" width="1.02" height="1.02" fill="#ffc8c8"/>
<rect x="25" y="21" width="1.02" height="1.02" fill="#ffa8a8"/>
<rect x="26" y="21" width="1.02" height="1.02" fill="#ffa8a8"/>
<rect x="27" y="21" width="1.02" height="1.02" fill="#ffa8a8"/>
<rect x="28" y="21" width="1.02" height="1.02" fill="#ffa8a8"/>
<rect x="29" y="21" width="1.02" height="1.02" fill="#ffa8a8"/>
<rect x="30" y="21" width="1.02" height="1.02" fill="#ffa8a8"/>
<rect x="31" y="21" width="1.02" height="1.02" fill="#ffa8a8"/>
<rect x="32" y="21" width="1.02" height="1.02" fill="#ffa8a8"/>
<rect x="33" y="21" width="1.02" height="1.02" fill="#ffa8a8"/>
<rect x="34" y="21" width="1.02" height="1.02" fill="#ffa8a8"/>
<rect x="35" y="21" width="1.02" height="1.02" fill="#ffc8c8"/>
</svg>
<polyline points="182.60,31.50 206.23,31.50" fill="none" stroke="#1a1a1a" stroke-width="0.85"/>
<polyline points="206.50,15.30 206.50,39.87" fill="none" stroke="#1a1a1a" stroke-width="0.85"/>
<polyline points="206.23,39.50 278.33,39.50" fill="none" stroke="#1a1a1a" stroke-width="0.85"/>
<polyline points="222.50,39.87 222.50,105.40" fill="none" stroke="#1a1a1a" stroke-width="0.85"/>
<polyline points="262.50,15.30 262.50,39.87" fill="none" stroke="#1a1a1a" stroke-width="0.85"/>
<polyline points="278.50,39.87 278.50,72.64" fill="none" stroke="#1a1a1a" stroke-width="0.85"/>
<polyline points="278.33,48.50 326.80,48.50" fill="none" stroke="#1a1a1a" stroke-width="0.85"/>
<polyline points="182.60,72.50 326.80,72.50" fill="none" stroke="#1a1a1a" stroke-width="0.85"/>
<polyline points="270.50,72.64 270.50,105.40" fill="none" stroke="#1a1a1a" stroke-width="0.85"/>
<polyline points="270.40,76.50 294.76,76.50" fill="none" stroke="#1a1a1a" stroke-width="0.85"/>
<polyline points="294.50,76.73 294.50,92.62" fill="none" stroke="#1a1a1a" stroke-width="0.85"/>
<polyline points="294.76,92.62 296.36,93.52 297.96,93.77 299.56,94.10 301.16,95.57 302.77,95.41 304.37,95.98 305.97,96.06 307.57,96.23 309.18,96.14 310.78,97.21 312.38,97.62 313.98,98.03 315.58,98.44 317.19,98.19 318.79,98.68 320.39,98.27 321.99,99.01 323.60,98.68 325.20,99.50 326.80,98.85" fill="none" stroke="#1a1a1a" stroke-width="0.75"/>
<polyline points="262.31,23.49 306.77,23.49 309.18,23.90 311.58,24.72 316.39,24.72 320.39,25.95 322.79,27.59 324.00,30.04 325.60,33.32 326.80,37.42" fill="none" stroke="#1a1a1a" stroke-width="0.75"/>
<polyline points="323.19,15.30 323.19,19.40 321.99,21.85 322.79,27.59" fill="none" stroke="#1a1a1a" stroke-width="0.75"/>
<polygon points="191.01,33.32 192.61,33.73 193.82,36.19 195.82,37.83 198.22,39.46 199.82,41.92 197.82,43.15 195.02,42.33 193.41,40.28 191.81,37.42 190.77,34.96" fill="#ffffff" stroke="#222" stroke-width="0.75"/>
<rect x="186.21" y="38.23" width="1.84" height="4.26" fill="#eeeeff"/>
<rect x="182.6" y="15.3" width="144.20" height="90.10" fill="none" stroke="#000" stroke-width="1"/>
<line x1="182.60" y1="15.3" x2="182.60" y2="13.5" stroke="#000" stroke-width="0.8"/>
<line x1="182.60" y1="105.4" x2="182.60" y2="107.2" stroke="#000" stroke-width="0.8"/>
<line x1="190.61" y1="15.3" x2="190.61" y2="13.5" stroke="#000" stroke-width="0.8"/>
<line x1="190.61" y1="105.4" x2="190.61" y2="107.2" stroke="#000" stroke-width="0.8"/>
<line x1="198.62" y1="15.3" x2="198.62" y2="13.5" stroke="#000" stroke-width="0.8"/>
<line x1="198.62" y1="105.4" x2="198.62" y2="107.2" stroke="#000" stroke-width="0.8"/>
<line x1="206.63" y1="15.3" x2="206.63" y2="13.5" stroke="#000" stroke-width="0.8"/>
<line x1="206.63" y1="105.4" x2="206.63" y2="107.2" stroke="#000" stroke-width="0.8"/>
<line x1="214.64" y1="15.3" x2="214.64" y2="11.700000000000001" stroke="#000" stroke-width="0.8"/>
<line x1="214.64" y1="105.4" x2="214.64" y2="109.0" stroke="#000" stroke-width="0.8"/>
<line x1="222.66" y1="15.3" x2="222.66" y2="13.5" stroke="#000" stroke-width="0.8"/>
<line x1="222.66" y1="105.4" x2="222.66" y2="107.2" stroke="#000" stroke-width="0.8"/>
<line x1="230.67" y1="15.3" x2="230.67" y2="13.5" stroke="#000" stroke-width="0.8"/>
<line x1="230.67" y1="105.4" x2="230.67" y2="107.2" stroke="#000" stroke-width="0.8"/>
<line x1="238.68" y1="15.3" x2="238.68" y2="13.5" stroke="#000" stroke-width="0.8"/>
<line x1="238.68" y1="105.4" x2="238.68" y2="107.2" stroke="#000" stroke-width="0.8"/>
<line x1="246.69" y1="15.3" x2="246.69" y2="13.5" stroke="#000" stroke-width="0.8"/>
<line x1="246.69" y1="105.4" x2="246.69" y2="107.2" stroke="#000" stroke-width="0.8"/>
<line x1="254.70" y1="15.3" x2="254.70" y2="11.700000000000001" stroke="#000" stroke-width="0.8"/>
<line x1="254.70" y1="105.4" x2="254.70" y2="109.0" stroke="#000" stroke-width="0.8"/>
<line x1="262.71" y1="15.3" x2="262.71" y2="13.5" stroke="#000" stroke-width="0.8"/>
<line x1="262.71" y1="105.4" x2="262.71" y2="107.2" stroke="#000" stroke-width="0.8"/>
<line x1="270.72" y1="15.3" x2="270.72" y2="13.5" stroke="#000" stroke-width="0.8"/>
<line x1="270.72" y1="105.4" x2="270.72" y2="107.2" stroke="#000" stroke-width="0.8"/>
<line x1="278.73" y1="15.3" x2="278.73" y2="13.5" stroke="#000" stroke-width="0.8"/>
<line x1="278.73" y1="105.4" x2="278.73" y2="107.2" stroke="#000" stroke-width="0.8"/>
<line x1="286.74" y1="15.3" x2="286.74" y2="13.5" stroke="#000" stroke-width="0.8"/>
<line x1="286.74" y1="105.4" x2="286.74" y2="107.2" stroke="#000" stroke-width="0.8"/>
<line x1="294.76" y1="15.3" x2="294.76" y2="11.700000000000001" stroke="#000" stroke-width="0.8"/>
<line x1="294.76" y1="105.4" x2="294.76" y2="109.0" stroke="#000" stroke-width="0.8"/>
<line x1="302.77" y1="15.3" x2="302.77" y2="13.5" stroke="#000" stroke-width="0.8"/>
<line x1="302.77" y1="105.4" x2="302.77" y2="107.2" stroke="#000" stroke-width="0.8"/>
<line x1="310.78" y1="15.3" x2="310.78" y2="13.5" stroke="#000" stroke-width="0.8"/>
<line x1="310.78" y1="105.4" x2="310.78" y2="107.2" stroke="#000" stroke-width="0.8"/>
<line x1="318.79" y1="15.3" x2="318.79" y2="13.5" stroke="#000" stroke-width="0.8"/>
<line x1="318.79" y1="105.4" x2="318.79" y2="107.2" stroke="#000" stroke-width="0.8"/>
<line x1="326.80" y1="15.3" x2="326.80" y2="13.5" stroke="#000" stroke-width="0.8"/>
<line x1="326.80" y1="105.4" x2="326.80" y2="107.2" stroke="#000" stroke-width="0.8"/>
<line x1="182.6" y1="105.40" x2="180.79999999999998" y2="105.40" stroke="#000" stroke-width="0.8"/>
<line x1="326.8" y1="105.40" x2="328.6" y2="105.40" stroke="#000" stroke-width="0.8"/>
<line x1="182.6" y1="97.21" x2="180.79999999999998" y2="97.21" stroke="#000" stroke-width="0.8"/>
<line x1="326.8" y1="97.21" x2="328.6" y2="97.21" stroke="#000" stroke-width="0.8"/>
<line x1="182.6" y1="89.02" x2="179.0" y2="89.02" stroke="#000" stroke-width="0.8"/>
<line x1="326.8" y1="89.02" x2="330.40000000000003" y2="89.02" stroke="#000" stroke-width="0.8"/>
<line x1="182.6" y1="80.83" x2="180.79999999999998" y2="80.83" stroke="#000" stroke-width="0.8"/>
<line x1="326.8" y1="80.83" x2="328.6" y2="80.83" stroke="#000" stroke-width="0.8"/>
<line x1="182.6" y1="72.64" x2="180.79999999999998" y2="72.64" stroke="#000" stroke-width="0.8"/>
<line x1="326.8" y1="72.64" x2="328.6" y2="72.64" stroke="#000" stroke-width="0.8"/>
<line x1="182.6" y1="64.45" x2="180.79999999999998" y2="64.45" stroke="#000" stroke-width="0.8"/>
<line x1="326.8" y1="64.45" x2="328.6" y2="64.45" stroke="#000" stroke-width="0.8"/>
<line x1="182.6" y1="56.25" x2="180.79999999999998" y2="56.25" stroke="#000" stroke-width="0.8"/>
<line x1="326.8" y1="56.25" x2="328.6" y2="56.25" stroke="#000" stroke-width="0.8"/>
<line x1="182.6" y1="48.06" x2="179.0" y2="48.06" stroke="#000" stroke-width="0.8"/>
<line x1="326.8" y1="48.06" x2="330.40000000000003" y2="48.06" stroke="#000" stroke-width="0.8"/>
<line x1="182.6" y1="39.87" x2="180.79999999999998" y2="39.87" stroke="#000" stroke-width="0.8"/>
<line x1="326.8" y1="39.87" x2="328.6" y2="39.87" stroke="#000" stroke-width="0.8"/>
<line x1="182.6" y1="31.68" x2="180.79999999999998" y2="31.68" stroke="#000" stroke-width="0.8"/>
<line x1="326.8" y1="31.68" x2="328.6" y2="31.68" stroke="#000" stroke-width="0.8"/>
<line x1="182.6" y1="23.49" x2="180.79999999999998" y2="23.49" stroke="#000" stroke-width="0.8"/>
<line x1="326.8" y1="23.49" x2="328.6" y2="23.49" stroke="#000" stroke-width="0.8"/>
<line x1="182.6" y1="15.30" x2="180.79999999999998" y2="15.30" stroke="#000" stroke-width="0.8"/>
<line x1="326.8" y1="15.30" x2="328.6" y2="15.30" stroke="#000" stroke-width="0.8"/>
<text transform="translate(184.90,117.20) scale(1,1.15)" font-size="6.6" text-anchor="middle" fill="#111" >110°W</text>
<text transform="translate(247.20,117.20) scale(1,1.15)" font-size="6.6" text-anchor="middle" fill="#111" >105°W</text>
<text transform="translate(309.40,117.20) scale(1,1.15)" font-size="6.6" text-anchor="middle" fill="#111" >100°W</text>
<text transform="translate(177.30,50.46) scale(1,1.15)" font-size="4.4" text-anchor="end" fill="#111" >40°N</text>
<text transform="translate(177.30,91.42) scale(1,1.15)" font-size="4.4" text-anchor="end" fill="#111" >35°N</text>
<text transform="translate(182.60,11.00) scale(1,1.15)" font-size="5.4" text-anchor="start" fill="#111" textLength="26.5" lengthAdjust="spacingAndGlyphs">GRACE DA</text>
<text transform="translate(306.60,11.00) scale(1,1.15)" font-size="5.4" fill="#111" textLength="20.2" lengthAdjust="spacingAndGlyphs">Apr 2006</text>
<text x="183.80" y="102.00" font-size="9.2" text-anchor="start" fill="#111" stroke="#111" stroke-width="0.15">(b)</text>
<path d="M245.59,47.05 L247.49,43.65 L249.39,47.05 Z" fill="none" stroke="#111" stroke-width="0.55"/>
<text x="247.49" y="54.15" font-size="8.4" text-anchor="middle" fill="#111" stroke="#111" stroke-width="0.25">A</text>
<path d="M256.00,47.05 L257.90,43.65 L259.80,47.05 Z" fill="none" stroke="#111" stroke-width="0.55"/>
<text x="257.90" y="54.15" font-size="8.4" text-anchor="middle" fill="#111" stroke="#111" stroke-width="0.25">B</text>
<svg x="344.3" y="15.6" width="147.5" height="89.2" viewBox="0 0 36 22" preserveAspectRatio="none" shape-rendering="crispEdges">
<rect x="0" y="0" width="1.02" height="1.02" fill="#0000d8"/>
<rect x="1" y="0" width="1.02" height="1.02" fill="#0000d8"/>
<rect x="2" y="0" width="1.02" height="1.02" fill="#0000d8"/>
<rect x="3" y="0" width="1.02" height="1.02" fill="#0000d8"/>
<rect x="4" y="0" width="1.02" height="1.02" fill="#0000d8"/>
<rect x="5" y="0" width="1.02" height="1.02" fill="#0c0cff"/>
<rect x="6" y="0" width="1.02" height="1.02" fill="#3838ff"/>
<rect x="7" y="0" width="1.02" height="1.02" fill="#3838ff"/>
<rect x="8" y="0" width="1.02" height="1.02" fill="#6060ff"/>
<rect x="9" y="0" width="1.02" height="1.02" fill="#6060ff"/>
<rect x="10" y="0" width="1.02" height="1.02" fill="#6060ff"/>
<rect x="11" y="0" width="1.02" height="1.02" fill="#6060ff"/>
<rect x="12" y="0" width="1.02" height="1.02" fill="#6060ff"/>
<rect x="13" y="0" width="1.02" height="1.02" fill="#6060ff"/>
<rect x="14" y="0" width="1.02" height="1.02" fill="#8484ff"/>
<rect x="15" y="0" width="1.02" height="1.02" fill="#8484ff"/>
<rect x="16" y="0" width="1.02" height="1.02" fill="#8484ff"/>
<rect x="17" y="0" width="1.02" height="1.02" fill="#8484ff"/>
<rect x="18" y="0" width="1.02" height="1.02" fill="#a4a4ff"/>
<rect x="19" y="0" width="1.02" height="1.02" fill="#a4a4ff"/>
<rect x="20" y="0" width="1.02" height="1.02" fill="#a4a4ff"/>
<rect x="21" y="0" width="1.02" height="1.02" fill="#a4a4ff"/>
<rect x="22" y="0" width="1.02" height="1.02" fill="#a4a4ff"/>
<rect x="23" y="0" width="1.02" height="1.02" fill="#a4a4ff"/>
<rect x="24" y="0" width="1.02" height="1.02" fill="#c4c4ff"/>
<rect x="25" y="0" width="1.02" height="1.02" fill="#c4c4ff"/>
<rect x="26" y="0" width="1.02" height="1.02" fill="#c4c4ff"/>
<rect x="27" y="0" width="1.02" height="1.02" fill="#c4c4ff"/>
<rect x="28" y="0" width="1.02" height="1.02" fill="#a4a4ff"/>
<rect x="29" y="0" width="1.02" height="1.02" fill="#c4c4ff"/>
<rect x="30" y="0" width="1.02" height="1.02" fill="#c4c4ff"/>
<rect x="31" y="0" width="1.02" height="1.02" fill="#c4c4ff"/>
<rect x="32" y="0" width="1.02" height="1.02" fill="#c4c4ff"/>
<rect x="33" y="0" width="1.02" height="1.02" fill="#c4c4ff"/>
<rect x="34" y="0" width="1.02" height="1.02" fill="#c4c4ff"/>
<rect x="35" y="0" width="1.02" height="1.02" fill="#a4a4ff"/>
<rect x="0" y="1" width="1.02" height="1.02" fill="#0000d8"/>
<rect x="1" y="1" width="1.02" height="1.02" fill="#0000d8"/>
<rect x="2" y="1" width="1.02" height="1.02" fill="#0000d8"/>
<rect x="3" y="1" width="1.02" height="1.02" fill="#0000d8"/>
<rect x="4" y="1" width="1.02" height="1.02" fill="#0c0cff"/>
<rect x="5" y="1" width="1.02" height="1.02" fill="#0c0cff"/>
<rect x="6" y="1" width="1.02" height="1.02" fill="#3838ff"/>
<rect x="7" y="1" width="1.02" height="1.02" fill="#3838ff"/>
<rect x="8" y="1" width="1.02" height="1.02" fill="#6060ff"/>
<rect x="9" y="1" width="1.02" height="1.02" fill="#6060ff"/>
<rect x="10" y="1" width="1.02" height="1.02" fill="#6060ff"/>
<rect x="11" y="1" width="1.02" height="1.02" fill="#6060ff"/>
<rect x="12" y="1" width="1.02" height="1.02" fill="#6060ff"/>
<rect x="13" y="1" width="1.02" height="1.02" fill="#6060ff"/>
<rect x="14" y="1" width="1.02" height="1.02" fill="#8484ff"/>
<rect x="15" y="1" width="1.02" height="1.02" fill="#8484ff"/>
<rect x="16" y="1" width="1.02" height="1.02" fill="#8484ff"/>
<rect x="17" y="1" width="1.02" height="1.02" fill="#8484ff"/>
<rect x="18" y="1" width="1.02" height="1.02" fill="#a4a4ff"/>
<rect x="19" y="1" width="1.02" height="1.02" fill="#a4a4ff"/>
<rect x="20" y="1" width="1.02" height="1.02" fill="#a4a4ff"/>
<rect x="21" y="1" width="1.02" height="1.02" fill="#a4a4ff"/>
<rect x="22" y="1" width="1.02" height="1.02" fill="#a4a4ff"/>
<rect x="23" y="1" width="1.02" height="1.02" fill="#c4c4ff"/>
<rect x="24" y="1" width="1.02" height="1.02" fill="#c4c4ff"/>
<rect x="25" y="1" width="1.02" height="1.02" fill="#c4c4ff"/>
<rect x="26" y="1" width="1.02" height="1.02" fill="#c4c4ff"/>
<rect x="27" y="1" width="1.02" height="1.02" fill="#c4c4ff"/>
<rect x="28" y="1" width="1.02" height="1.02" fill="#c4c4ff"/>
<rect x="29" y="1" width="1.02" height="1.02" fill="#c4c4ff"/>
<rect x="30" y="1" width="1.02" height="1.02" fill="#c4c4ff"/>
<rect x="31" y="1" width="1.02" height="1.02" fill="#c4c4ff"/>
<rect x="32" y="1" width="1.02" height="1.02" fill="#c4c4ff"/>
<rect x="33" y="1" width="1.02" height="1.02" fill="#c4c4ff"/>
<rect x="34" y="1" width="1.02" height="1.02" fill="#a4a4ff"/>
<rect x="35" y="1" width="1.02" height="1.02" fill="#a4a4ff"/>
<rect x="0" y="2" width="1.02" height="1.02" fill="#0000d8"/>
<rect x="1" y="2" width="1.02" height="1.02" fill="#0000d8"/>
<rect x="2" y="2" width="1.02" height="1.02" fill="#0c0cff"/>
<rect x="3" y="2" width="1.02" height="1.02" fill="#0c0cff"/>
<rect x="4" y="2" width="1.02" height="1.02" fill="#0c0cff"/>
<rect x="5" y="2" width="1.02" height="1.02" fill="#0c0cff"/>
<rect x="6" y="2" width="1.02" height="1.02" fill="#3838ff"/>
<rect x="7" y="2" width="1.02" height="1.02" fill="#3838ff"/>
<rect x="8" y="2" width="1.02" height="1.02" fill="#6060ff"/>
<rect x="9" y="2" width="1.02" height="1.02" fill="#6060ff"/>
<rect x="10" y="2" width="1.02" height="1.02" fill="#6060ff"/>
<rect x="11" y="2" width="1.02" height="1.02" fill="#6060ff"/>
<rect x="12" y="2" width="1.02" height="1.02" fill="#6060ff"/>
<rect x="13" y="2" width="1.02" height="1.02" fill="#8484ff"/>
<rect x="14" y="2" width="1.02" height="1.02" fill="#8484ff"/>
<rect x="15" y="2" width="1.02" height="1.02" fill="#8484ff"/>
<rect x="16" y="2" width="1.02" height="1.02" fill="#8484ff"/>
<rect x="17" y="2" width="1.02" height="1.02" fill="#8484ff"/>
<rect x="18" y="2" width="1.02" height="1.02" fill="#a4a4ff"/>
<rect x="19" y="2" width="1.02" height="1.02" fill="#a4a4ff"/>
<rect x="20" y="2" width="1.02" height="1.02" fill="#a4a4ff"/>
<rect x="21" y="2" width="1.02" height="1.02" fill="#a4a4ff"/>
<rect x="22" y="2" width="1.02" height="1.02" fill="#c4c4ff"/>
<rect x="23" y="2" width="1.02" height="1.02" fill="#c4c4ff"/>
<rect x="24" y="2" width="1.02" height="1.02" fill="#c4c4ff"/>
<rect x="25" y="2" width="1.02" height="1.02" fill="#c4c4ff"/>
<rect x="26" y="2" width="1.02" height="1.02" fill="#c4c4ff"/>
<rect x="27" y="2" width="1.02" height="1.02" fill="#c4c4ff"/>
<rect x="28" y="2" width="1.02" height="1.02" fill="#c4c4ff"/>
<rect x="29" y="2" width="1.02" height="1.02" fill="#c4c4ff"/>
<rect x="30" y="2" width="1.02" height="1.02" fill="#c4c4ff"/>
<rect x="31" y="2" width="1.02" height="1.02" fill="#c4c4ff"/>
<rect x="32" y="2" width="1.02" height="1.02" fill="#c4c4ff"/>
<rect x="33" y="2" width="1.02" height="1.02" fill="#c4c4ff"/>
<rect x="34" y="2" width="1.02" height="1.02" fill="#c4c4ff"/>
<rect x="35" y="2" width="1.02" height="1.02" fill="#c4c4ff"/>
<rect x="0" y="3" width="1.02" height="1.02" fill="#0c0cff"/>
<rect x="1" y="3" width="1.02" height="1.02" fill="#0c0cff"/>
<rect x="2" y="3" width="1.02" height="1.02" fill="#0c0cff"/>
<rect x="3" y="3" width="1.02" height="1.02" fill="#0c0cff"/>
<rect x="4" y="3" width="1.02" height="1.02" fill="#0c0cff"/>
<rect x="5" y="3" width="1.02" height="1.02" fill="#0c0cff"/>
<rect x="6" y="3" width="1.02" height="1.02" fill="#3838ff"/>
<rect x="7" y="3" width="1.02" height="1.02" fill="#3838ff"/>
<rect x="8" y="3" width="1.02" height="1.02" fill="#3838ff"/>
<rect x="9" y="3" width="1.02" height="1.02" fill="#6060ff"/>
<rect x="10" y="3" width="1.02" height="1.02" fill="#6060ff"/>
<rect x="11" y="3" width="1.02" height="1.02" fill="#6060ff"/>
<rect x="12" y="3" width="1.02" height="1.02" fill="#6060ff"/>
<rect x="13" y="3" width="1.02" height="1.02" fill="#6060ff"/>
<rect x="14" y="3" width="1.02" height="1.02" fill="#8484ff"/>
<rect x="15" y="3" width="1.02" height="1.02" fill="#8484ff"/>
<rect x="16" y="3" width="1.02" height="1.02" fill="#8484ff"/>
<rect x="17" y="3" width="1.02" height="1.02" fill="#8484ff"/>
<rect x="18" y="3" width="1.02" height="1.02" fill="#8484ff"/>
<rect x="19" y="3" width="1.02" height="1.02" fill="#a4a4ff"/>
<rect x="20" y="3" width="1.02" height="1.02" fill="#a4a4ff"/>
<rect x="21" y="3" width="1.02" height="1.02" fill="#c4c4ff"/>
<rect x="22" y="3" width="1.02" height="1.02" fill="#c4c4ff"/>
<rect x="23" y="3" width="1.02" height="1.02" fill="#c4c4ff"/>
<rect x="24" y="3" width="1.02" height="1.02" fill="#c4c4ff"/>
<rect x="25" y="3" width="1.02" height="1.02" fill="#c4c4ff"/>
<rect x="26" y="3" width="1.02" height="1.02" fill="#c4c4ff"/>
<rect x="27" y="3" width="1.02" height="1.02" fill="#c4c4ff"/>
<rect x="28" y="3" width="1.02" height="1.02" fill="#c4c4ff"/>
<rect x="29" y="3" width="1.02" height="1.02" fill="#c4c4ff"/>
<rect x="30" y="3" width="1.02" height="1.02" fill="#c4c4ff"/>
<rect x="31" y="3" width="1.02" height="1.02" fill="#c4c4ff"/>
<rect x="32" y="3" width="1.02" height="1.02" fill="#c4c4ff"/>
<rect x="33" y="3" width="1.02" height="1.02" fill="#c4c4ff"/>
<rect x="34" y="3" width="1.02" height="1.02" fill="#c4c4ff"/>
<rect x="35" y="3" width="1.02" height="1.02" fill="#c4c4ff"/>
<rect x="0" y="4" width="1.02" height="1.02" fill="#0c0cff"/>
<rect x="1" y="4" width="1.02" height="1.02" fill="#0c0cff"/>
<rect x="2" y="4" width="1.02" height="1.02" fill="#0c0cff"/>
<rect x="3" y="4" width="1.02" height="1.02" fill="#0c0cff"/>
<rect x="4" y="4" width="1.02" height="1.02" fill="#0c0cff"/>
<rect x="5" y="4" width="1.02" height="1.02" fill="#0c0cff"/>
<rect x="6" y="4" width="1.02" height="1.02" fill="#3838ff"/>
<rect x="7" y="4" width="1.02" height="1.02" fill="#3838ff"/>
<rect x="8" y="4" width="1.02" height="1.02" fill="#6060ff"/>
<rect x="9" y="4" width="1.02" height="1.02" fill="#6060ff"/>
<rect x="10" y="4" width="1.02" height="1.02" fill="#6060ff"/>
<rect x="11" y="4" width="1.02" height="1.02" fill="#6060ff"/>
<rect x="12" y="4" width="1.02" height="1.02" fill="#6060ff"/>
<rect x="13" y="4" width="1.02" height="1.02" fill="#6060ff"/>
<rect x="14" y="4" width="1.02" height="1.02" fill="#8484ff"/>
<rect x="15" y="4" width="1.02" height="1.02" fill="#8484ff"/>
<rect x="16" y="4" width="1.02" height="1.02" fill="#8484ff"/>
<rect x="17" y="4" width="1.02" height="1.02" fill="#8484ff"/>
<rect x="18" y="4" width="1.02" height="1.02" fill="#8484ff"/>
<rect x="19" y="4" width="1.02" height="1.02" fill="#a4a4ff"/>
<rect x="20" y="4" width="1.02" height="1.02" fill="#a4a4ff"/>
<rect x="21" y="4" width="1.02" height="1.02" fill="#c4c4ff"/>
<rect x="22" y="4" width="1.02" height="1.02" fill="#c4c4ff"/>
<rect x="23" y="4" width="1.02" height="1.02" fill="#c4c4ff"/>
<rect x="24" y="4" width="1.02" height="1.02" fill="#c4c4ff"/>
<rect x="25" y="4" width="1.02" height="1.02" fill="#c4c4ff"/>
<rect x="26" y="4" width="1.02" height="1.02" fill="#c4c4ff"/>
<rect x="27" y="4" width="1.02" height="1.02" fill="#c4c4ff"/>
<rect x="28" y="4" width="1.02" height="1.02" fill="#c4c4ff"/>
<rect x="29" y="4" width="1.02" height="1.02" fill="#c4c4ff"/>
<rect x="30" y="4" width="1.02" height="1.02" fill="#c4c4ff"/>
<rect x="31" y="4" width="1.02" height="1.02" fill="#c4c4ff"/>
<rect x="32" y="4" width="1.02" height="1.02" fill="#c4c4ff"/>
<rect x="33" y="4" width="1.02" height="1.02" fill="#c4c4ff"/>
<rect x="34" y="4" width="1.02" height="1.02" fill="#c4c4ff"/>
<rect x="35" y="4" width="1.02" height="1.02" fill="#c4c4ff"/>
<rect x="0" y="5" width="1.02" height="1.02" fill="#0c0cff"/>
<rect x="1" y="5" width="1.02" height="1.02" fill="#0c0cff"/>
<rect x="2" y="5" width="1.02" height="1.02" fill="#0c0cff"/>
<rect x="3" y="5" width="1.02" height="1.02" fill="#0c0cff"/>
<rect x="4" y="5" width="1.02" height="1.02" fill="#0c0cff"/>
<rect x="5" y="5" width="1.02" height="1.02" fill="#0c0cff"/>
<rect x="6" y="5" width="1.02" height="1.02" fill="#3838ff"/>
<rect x="7" y="5" width="1.02" height="1.02" fill="#3838ff"/>
<rect x="8" y="5" width="1.02" height="1.02" fill="#3838ff"/>
<rect x="9" y="5" width="1.02" height="1.02" fill="#6060ff"/>
<rect x="10" y="5" width="1.02" height="1.02" fill="#6060ff"/>
<rect x="11" y="5" width="1.02" height="1.02" fill="#6060ff"/>
<rect x="12" y="5" width="1.02" height="1.02" fill="#6060ff"/>
<rect x="13" y="5" width="1.02" height="1.02" fill="#6060ff"/>
<rect x="14" y="5" width="1.02" height="1.02" fill="#8484ff"/>
<rect x="15" y="5" width="1.02" height="1.02" fill="#8484ff"/>
<rect x="16" y="5" width="1.02" height="1.02" fill="#8484ff"/>
<rect x="17" y="5" width="1.02" height="1.02" fill="#8484ff"/>
<rect x="18" y="5" width="1.02" height="1.02" fill="#8484ff"/>
<rect x="19" y="5" width="1.02" height="1.02" fill="#8484ff"/>
<rect x="20" y="5" width="1.02" height="1.02" fill="#a4a4ff"/>
<rect x="21" y="5" width="1.02" height="1.02" fill="#c4c4ff"/>
<rect x="22" y="5" width="1.02" height="1.02" fill="#c4c4ff"/>
<rect x="23" y="5" width="1.02" height="1.02" fill="#c4c4ff"/>
<rect x="24" y="5" width="1.02" height="1.02" fill="#c4c4ff"/>
<rect x="25" y="5" width="1.02" height="1.02" fill="#c4c4ff"/>
<rect x="26" y="5" width="1.02" height="1.02" fill="#c4c4ff"/>
<rect x="27" y="5" width="1.02" height="1.02" fill="#c4c4ff"/>
<rect x="28" y="5" width="1.02" height="1.02" fill="#c4c4ff"/>
<rect x="29" y="5" width="1.02" height="1.02" fill="#c4c4ff"/>
<rect x="30" y="5" width="1.02" height="1.02" fill="#c4c4ff"/>
<rect x="31" y="5" width="1.02" height="1.02" fill="#c4c4ff"/>
<rect x="32" y="5" width="1.02" height="1.02" fill="#c4c4ff"/>
<rect x="33" y="5" width="1.02" height="1.02" fill="#c4c4ff"/>
<rect x="34" y="5" width="1.02" height="1.02" fill="#c4c4ff"/>
<rect x="35" y="5" width="1.02" height="1.02" fill="#c4c4ff"/>
<rect x="0" y="6" width="1.02" height="1.02" fill="#0c0cff"/>
<rect x="1" y="6" width="1.02" height="1.02" fill="#0c0cff"/>
<rect x="2" y="6" width="1.02" height="1.02" fill="#0c0cff"/>
<rect x="3" y="6" width="1.02" height="1.02" fill="#0c0cff"/>
<rect x="4" y="6" width="1.02" height="1.02" fill="#3838ff"/>
<rect x="5" y="6" width="1.02" height="1.02" fill="#3838ff"/>
<rect x="6" y="6" width="1.02" height="1.02" fill="#3838ff"/>
<rect x="7" y="6" width="1.02" height="1.02" fill="#6060ff"/>
<rect x="8" y="6" width="1.02" height="1.02" fill="#6060ff"/>
<rect x="9" y="6" width="1.02" height="1.02" fill="#6060ff"/>
<rect x="10" y="6" width="1.02" height="1.02" fill="#6060ff"/>
<rect x="11" y="6" width="1.02" height="1.02" fill="#6060ff"/>
<rect x="12" y="6" width="1.02" height="1.02" fill="#6060ff"/>
<rect x="13" y="6" width="1.02" height="1.02" fill="#6060ff"/>
<rect x="14" y="6" width="1.02" height="1.02" fill="#8484ff"/>
<rect x="15" y="6" width="1.02" height="1.02" fill="#8484ff"/>
<rect x="16" y="6" width="1.02" height="1.02" fill="#8484ff"/>
<rect x="17" y="6" width="1.02" height="1.02" fill="#8484ff"/>
<rect x="18" y="6" width="1.02" height="1.02" fill="#a4a4ff"/>
<rect x="19" y="6" width="1.02" height="1.02" fill="#a4a4ff"/>
<rect x="20" y="6" width="1.02" height="1.02" fill="#a4a4ff"/>
<rect x="21" y="6" width="1.02" height="1.02" fill="#a4a4ff"/>
<rect x="22" y="6" width="1.02" height="1.02" fill="#c4c4ff"/>
<rect x="23" y="6" width="1.02" height="1.02" fill="#c4c4ff"/>
<rect x="24" y="6" width="1.02" height="1.02" fill="#c4c4ff"/>
<rect x="25" y="6" width="1.02" height="1.02" fill="#c4c4ff"/>
<rect x="26" y="6" width="1.02" height="1.02" fill="#e0e0ff"/>
<rect x="27" y="6" width="1.02" height="1.02" fill="#e0e0ff"/>
<rect x="28" y="6" width="1.02" height="1.02" fill="#c4c4ff"/>
<rect x="29" y="6" width="1.02" height="1.02" fill="#c4c4ff"/>
<rect x="30" y="6" width="1.02" height="1.02" fill="#c4c4ff"/>
<rect x="31" y="6" width="1.02" height="1.02" fill="#e0e0ff"/>
<rect x="32" y="6" width="1.02" height="1.02" fill="#e0e0ff"/>
<rect x="33" y="6" width="1.02" height="1.02" fill="#c4c4ff"/>
<rect x="34" y="6" width="1.02" height="1.02" fill="#c4c4ff"/>
<rect x="35" y="6" width="1.02" height="1.02" fill="#c4c4ff"/>
<rect x="0" y="7" width="1.02" height="1.02" fill="#3838ff"/>
<rect x="1" y="7" width="1.02" height="1.02" fill="#3838ff"/>
<rect x="2" y="7" width="1.02" height="1.02" fill="#3838ff"/>
<rect x="3" y="7" width="1.02" height="1.02" fill="#3838ff"/>
<rect x="4" y="7" width="1.02" height="1.02" fill="#3838ff"/>
<rect x="5" y="7" width="1.02" height="1.02" fill="#3838ff"/>
<rect x="6" y="7" width="1.02" height="1.02" fill="#3838ff"/>
<rect x="7" y="7" width="1.02" height="1.02" fill="#3838ff"/>
<rect x="8" y="7" width="1.02" height="1.02" fill="#3838ff"/>
<rect x="9" y="7" width="1.02" height="1.02" fill="#3838ff"/>
<rect x="10" y="7" width="1.02" height="1.02" fill="#6060ff"/>
<rect x="11" y="7" width="1.02" height="1.02" fill="#6060ff"/>
<rect x="12" y="7" width="1.02" height="1.02" fill="#6060ff"/>
<rect x="13" y="7" width="1.02" height="1.02" fill="#6060ff"/>
<rect x="14" y="7" width="1.02" height="1.02" fill="#6060ff"/>
<rect x="15" y="7" width="1.02" height="1.02" fill="#6060ff"/>
<rect x="16" y="7" width="1.02" height="1.02" fill="#6060ff"/>
<rect x="17" y="7" width="1.02" height="1.02" fill="#6060ff"/>
<rect x="18" y="7" width="1.02" height="1.02" fill="#8484ff"/>
<rect x="19" y="7" width="1.02" height="1.02" fill="#8484ff"/>
<rect x="20" y="7" width="1.02" height="1.02" fill="#8484ff"/>
<rect x="21" y="7" width="1.02" height="1.02" fill="#a4a4ff"/>
<rect x="22" y="7" width="1.02" height="1.02" fill="#c4c4ff"/>
<rect x="23" y="7" width="1.02" height="1.02" fill="#c4c4ff"/>
<rect x="24" y="7" width="1.02" height="1.02" fill="#e0e0ff"/>
<rect x="25" y="7" width="1.02" height="1.02" fill="#e0e0ff"/>
<rect x="26" y="7" width="1.02" height="1.02" fill="#e0e0ff"/>
<rect x="27" y="7" width="1.02" height="1.02" fill="#e0e0ff"/>
<rect x="28" y="7" width="1.02" height="1.02" fill="#e0e0ff"/>
<rect x="29" y="7" width="1.02" height="1.02" fill="#e0e0ff"/>
<rect x="30" y="7" width="1.02" height="1.02" fill="#e0e0ff"/>
<rect x="31" y="7" width="1.02" height="1.02" fill="#e0e0ff"/>
<rect x="32" y="7" width="1.02" height="1.02" fill="#e0e0ff"/>
<rect x="33" y="7" width="1.02" height="1.02" fill="#e0e0ff"/>
<rect x="34" y="7" width="1.02" height="1.02" fill="#e0e0ff"/>
<rect x="35" y="7" width="1.02" height="1.02" fill="#e0e0ff"/>
<rect x="0" y="8" width="1.02" height="1.02" fill="#3838ff"/>
<rect x="1" y="8" width="1.02" height="1.02" fill="#3838ff"/>
<rect x="2" y="8" width="1.02" height="1.02" fill="#6060ff"/>
<rect x="3" y="8" width="1.02" height="1.02" fill="#3838ff"/>
<rect x="4" y="8" width="1.02" height="1.02" fill="#3838ff"/>
<rect x="5" y="8" width="1.02" height="1.02" fill="#3838ff"/>
<rect x="6" y="8" width="1.02" height="1.02" fill="#3838ff"/>
<rect x="7" y="8" width="1.02" height="1.02" fill="#3838ff"/>
<rect x="8" y="8" width="1.02" height="1.02" fill="#6060ff"/>
<rect x="9" y="8" width="1.02" height="1.02" fill="#6060ff"/>
<rect x="10" y="8" width="1.02" height="1.02" fill="#6060ff"/>
<rect x="11" y="8" width="1.02" height="1.02" fill="#6060ff"/>
<rect x="12" y="8" width="1.02" height="1.02" fill="#6060ff"/>
<rect x="13" y="8" width="1.02" height="1.02" fill="#6060ff"/>
<rect x="14" y="8" width="1.02" height="1.02" fill="#6060ff"/>
<rect x="15" y="8" width="1.02" height="1.02" fill="#6060ff"/>
<rect x="16" y="8" width="1.02" height="1.02" fill="#6060ff"/>
<rect x="17" y="8" width="1.02" height="1.02" fill="#6060ff"/>
<rect x="18" y="8" width="1.02" height="1.02" fill="#8484ff"/>
<rect x="19" y="8" width="1.02" height="1.02" fill="#8484ff"/>
<rect x="20" y="8" width="1.02" height="1.02" fill="#8484ff"/>
<rect x="21" y="8" width="1.02" height="1.02" fill="#a4a4ff"/>
<rect x="22" y="8" width="1.02" height="1.02" fill="#c4c4ff"/>
<rect x="23" y="8" width="1.02" height="1.02" fill="#c4c4ff"/>
<rect x="24" y="8" width="1.02" height="1.02" fill="#e0e0ff"/>
<rect x="25" y="8" width="1.02" height="1.02" fill="#e0e0ff"/>
<rect x="26" y="8" width="1.02" height="1.02" fill="#e0e0ff"/>
<rect x="27" y="8" width="1.02" height="1.02" fill="#e0e0ff"/>
<rect x="28" y="8" width="1.02" height="1.02" fill="#e0e0ff"/>
<rect x="29" y="8" width="1.02" height="1.02" fill="#e0e0ff"/>
<rect x="30" y="8" width="1.02" height="1.02" fill="#ffe0e0"/>
<rect x="31" y="8" width="1.02" height="1.02" fill="#ffe0e0"/>
<rect x="32" y="8" width="1.02" height="1.02" fill="#ffe0e0"/>
<rect x="33" y="8" width="1.02" height="1.02" fill="#f4f0f8"/>
<rect x="34" y="8" width="1.02" height="1.02" fill="#e0e0ff"/>
<rect x="35" y="8" width="1.02" height="1.02" fill="#e0e0ff"/>
<rect x="0" y="9" width="1.02" height="1.02" fill="#6060ff"/>
<rect x="1" y="9" width="1.02" height="1.02" fill="#6060ff"/>
<rect x="2" y="9" width="1.02" height="1.02" fill="#6060ff"/>
<rect x="3" y="9" width="1.02" height="1.02" fill="#6060ff"/>
<rect x="4" y="9" width="1.02" height="1.02" fill="#3838ff"/>
<rect x="5" y="9" width="1.02" height="1.02" fill="#6060ff"/>
<rect x="6" y="9" width="1.02" height="1.02" fill="#6060ff"/>
<rect x="7" y="9" width="1.02" height="1.02" fill="#6060ff"/>
<rect x="8" y="9" width="1.02" height="1.02" fill="#6060ff"/>
<rect x="9" y="9" width="1.02" height="1.02" fill="#6060ff"/>
<rect x="10" y="9" width="1.02" height="1.02" fill="#8484ff"/>
<rect x="11" y="9" width="1.02" height="1.02" fill="#6060ff"/>
<rect x="12" y="9" width="1.02" height="1.02" fill="#6060ff"/>
<rect x="13" y="9" width="1.02" height="1.02" fill="#6060ff"/>
<rect x="14" y="9" width="1.02" height="1.02" fill="#6060ff"/>
<rect x="15" y="9" width="1.02" height="1.02" fill="#6060ff"/>
<rect x="16" y="9" width="1.02" height="1.02" fill="#6060ff"/>
<rect x="17" y="9" width="1.02" height="1.02" fill="#6060ff"/>
<rect x="18" y="9" width="1.02" height="1.02" fill="#8484ff"/>
<rect x="19" y="9" width="1.02" height="1.02" fill="#a4a4ff"/>
<rect x="20" y="9" width="1.02" height="1.02" fill="#a4a4ff"/>
<rect x="21" y="9" width="1.02" height="1.02" fill="#c4c4ff"/>
<rect x="22" y="9" width="1.02" height="1.02" fill="#c4c4ff"/>
<rect x="23" y="9" width="1.02" height="1.02" fill="#e0e0ff"/>
<rect x="24" y="9" width="1.02" height="1.02" fill="#e0e0ff"/>
<rect x="25" y="9" width="1.02" height="1.02" fill="#e0e0ff"/>
<rect x="26" y="9" width="1.02" height="1.02" fill="#e0e0ff"/>
<rect x="27" y="9" width="1.02" height="1.02" fill="#e0e0ff"/>
<rect x="28" y="9" width="1.02" height="1.02" fill="#e0e0ff"/>
<rect x="29" y="9" width="1.02" height="1.02" fill="#e0e0ff"/>
<rect x="30" y="9" width="1.02" height="1.02" fill="#ffc8c8"/>
<rect x="31" y="9" width="1.02" height="1.02" fill="#ffe0e0"/>
<rect x="32" y="9" width="1.02" height="1.02" fill="#ffe0e0"/>
<rect x="33" y="9" width="1.02" height="1.02" fill="#ffe0e0"/>
<rect x="34" y="9" width="1.02" height="1.02" fill="#ffe0e0"/>
<rect x="35" y="9" width="1.02" height="1.02" fill="#e0e0ff"/>
<rect x="0" y="10" width="1.02" height="1.02" fill="#8484ff"/>
<rect x="1" y="10" width="1.02" height="1.02" fill="#6060ff"/>
<rect x="2" y="10" width="1.02" height="1.02" fill="#6060ff"/>
<rect x="3" y="10" width="1.02" height="1.02" fill="#8484ff"/>
<rect x="4" y="10" width="1.02" height="1.02" fill="#8484ff"/>
<rect x="5" y="10" width="1.02" height="1.02" fill="#6060ff"/>
<rect x="6" y="10" width="1.02" height="1.02" fill="#6060ff"/>
<rect x="7" y="10" width="1.02" height="1.02" fill="#6060ff"/>
<rect x="8" y="10" width="1.02" height="1.02" fill="#8484ff"/>
<rect x="9" y="10" width="1.02" height="1.02" fill="#8484ff"/>
<rect x="10" y="10" width="1.02" height="1.02" fill="#8484ff"/>
<rect x="11" y="10" width="1.02" height="1.02" fill="#6060ff"/>
<rect x="12" y="10" width="1.02" height="1.02" fill="#6060ff"/>
<rect x="13" y="10" width="1.02" height="1.02" fill="#6060ff"/>
<rect x="14" y="10" width="1.02" height="1.02" fill="#6060ff"/>
<rect x="15" y="10" width="1.02" height="1.02" fill="#6060ff"/>
<rect x="16" y="10" width="1.02" height="1.02" fill="#6060ff"/>
<rect x="17" y="10" width="1.02" height="1.02" fill="#6060ff"/>
<rect x="18" y="10" width="1.02" height="1.02" fill="#8484ff"/>
<rect x="19" y="10" width="1.02" height="1.02" fill="#c4c4ff"/>
<rect x="20" y="10" width="1.02" height="1.02" fill="#c4c4ff"/>
<rect x="21" y="10" width="1.02" height="1.02" fill="#e0e0ff"/>
<rect x="22" y="10" width="1.02" height="1.02" fill="#e0e0ff"/>
<rect x="23" y="10" width="1.02" height="1.02" fill="#e0e0ff"/>
<rect x="24" y="10" width="1.02" height="1.02" fill="#ffe0e0"/>
<rect x="25" y="10" width="1.02" height="1.02" fill="#ffe0e0"/>
<rect x="26" y="10" width="1.02" height="1.02" fill="#ffc8c8"/>
<rect x="27" y="10" width="1.02" height="1.02" fill="#ffc8c8"/>
<rect x="28" y="10" width="1.02" height="1.02" fill="#ffc8c8"/>
<rect x="29" y="10" width="1.02" height="1.02" fill="#ffe0e0"/>
<rect x="30" y="10" width="1.02" height="1.02" fill="#ffc8c8"/>
<rect x="31" y="10" width="1.02" height="1.02" fill="#ffe0e0"/>
<rect x="32" y="10" width="1.02" height="1.02" fill="#ffe0e0"/>
<rect x="33" y="10" width="1.02" height="1.02" fill="#ffe0e0"/>
<rect x="34" y="10" width="1.02" height="1.02" fill="#ffe0e0"/>
<rect x="35" y="10" width="1.02" height="1.02" fill="#f4f0f8"/>
<rect x="0" y="11" width="1.02" height="1.02" fill="#8484ff"/>
<rect x="1" y="11" width="1.02" height="1.02" fill="#8484ff"/>
<rect x="2" y="11" width="1.02" height="1.02" fill="#8484ff"/>
<rect x="3" y="11" width="1.02" height="1.02" fill="#8484ff"/>
<rect x="4" y="11" width="1.02" height="1.02" fill="#8484ff"/>
<rect x="5" y="11" width="1.02" height="1.02" fill="#8484ff"/>
<rect x="6" y="11" width="1.02" height="1.02" fill="#8484ff"/>
<rect x="7" y="11" width="1.02" height="1.02" fill="#8484ff"/>
<rect x="8" y="11" width="1.02" height="1.02" fill="#8484ff"/>
<rect x="9" y="11" width="1.02" height="1.02" fill="#8484ff"/>
<rect x="10" y="11" width="1.02" height="1.02" fill="#8484ff"/>
<rect x="11" y="11" width="1.02" height="1.02" fill="#8484ff"/>
<rect x="12" y="11" width="1.02" height="1.02" fill="#8484ff"/>
<rect x="13" y="11" width="1.02" height="1.02" fill="#8484ff"/>
<rect x="14" y="11" width="1.02" height="1.02" fill="#8484ff"/>
<rect x="15" y="11" width="1.02" height="1.02" fill="#8484ff"/>
<rect x="16" y="11" width="1.02" height="1.02" fill="#8484ff"/>
<rect x="17" y="11" width="1.02" height="1.02" fill="#8484ff"/>
<rect x="18" y="11" width="1.02" height="1.02" fill="#a4a4ff"/>
<rect x="19" y="11" width="1.02" height="1.02" fill="#a4a4ff"/>
<rect x="20" y="11" width="1.02" height="1.02" fill="#c4c4ff"/>
<rect x="21" y="11" width="1.02" height="1.02" fill="#e0e0ff"/>
<rect x="22" y="11" width="1.02" height="1.02" fill="#ffe0e0"/>
<rect x="23" y="11" width="1.02" height="1.02" fill="#ffe0e0"/>
<rect x="24" y="11" width="1.02" height="1.02" fill="#ffe0e0"/>
<rect x="25" y="11" width="1.02" height="1.02" fill="#ffa8a8"/>
<rect x="26" y="11" width="1.02" height="1.02" fill="#ffa8a8"/>
<rect x="27" y="11" width="1.02" height="1.02" fill="#ffa8a8"/>
<rect x="28" y="11" width="1.02" height="1.02" fill="#ffa8a8"/>
<rect x="29" y="11" width="1.02" height="1.02" fill="#ffa8a8"/>
<rect x="30" y="11" width="1.02" height="1.02" fill="#ffc8c8"/>
<rect x="31" y="11" width="1.02" height="1.02" fill="#ffc8c8"/>
<rect x="32" y="11" width="1.02" height="1.02" fill="#ffe0e0"/>
<rect x="33" y="11" width="1.02" height="1.02" fill="#ffe0e0"/>
<rect x="34" y="11" width="1.02" height="1.02" fill="#ffe0e0"/>
<rect x="35" y="11" width="1.02" height="1.02" fill="#ffe0e0"/>
<rect x="0" y="12" width="1.02" height="1.02" fill="#8484ff"/>
<rect x="1" y="12" width="1.02" height="1.02" fill="#8484ff"/>
<rect x="2" y="12" width="1.02" height="1.02" fill="#a4a4ff"/>
<rect x="3" y="12" width="1.02" height="1.02" fill="#a4a4ff"/>
<rect x="4" y="12" width="1.02" height="1.02" fill="#a4a4ff"/>
<rect x="5" y="12" width="1.02" height="1.02" fill="#8484ff"/>
<rect x="6" y="12" width="1.02" height="1.02" fill="#8484ff"/>
<rect x="7" y="12" width="1.02" height="1.02" fill="#a4a4ff"/>
<rect x="8" y="12" width="1.02" height="1.02" fill="#a4a4ff"/>
<rect x="9" y="12" width="1.02" height="1.02" fill="#8484ff"/>
<rect x="10" y="12" width="1.02" height="1.02" fill="#8484ff"/>
<rect x="11" y="12" width="1.02" height="1.02" fill="#8484ff"/>
<rect x="12" y="12" width="1.02" height="1.02" fill="#8484ff"/>
<rect x="13" y="12" width="1.02" height="1.02" fill="#8484ff"/>
<rect x="14" y="12" width="1.02" height="1.02" fill="#8484ff"/>
<rect x="15" y="12" width="1.02" height="1.02" fill="#8484ff"/>
<rect x="16" y="12" width="1.02" height="1.02" fill="#8484ff"/>
<rect x="17" y="12" width="1.02" height="1.02" fill="#8484ff"/>
<rect x="18" y="12" width="1.02" height="1.02" fill="#a4a4ff"/>
<rect x="19" y="12" width="1.02" height="1.02" fill="#c4c4ff"/>
<rect x="20" y="12" width="1.02" height="1.02" fill="#e0e0ff"/>
<rect x="21" y="12" width="1.02" height="1.02" fill="#e0e0ff"/>
<rect x="22" y="12" width="1.02" height="1.02" fill="#ffe0e0"/>
<rect x="23" y="12" width="1.02" height="1.02" fill="#ffe0e0"/>
<rect x="24" y="12" width="1.02" height="1.02" fill="#ffe0e0"/>
<rect x="25" y="12" width="1.02" height="1.02" fill="#ffa8a8"/>
<rect x="26" y="12" width="1.02" height="1.02" fill="#ffa8a8"/>
<rect x="27" y="12" width="1.02" height="1.02" fill="#ff8888"/>
<rect x="28" y="12" width="1.02" height="1.02" fill="#ff8888"/>
<rect x="29" y="12" width="1.02" height="1.02" fill="#ffa8a8"/>
<rect x="30" y="12" width="1.02" height="1.02" fill="#ffa8a8"/>
<rect x="31" y="12" width="1.02" height="1.02" fill="#ffc8c8"/>
<rect x="32" y="12" width="1.02" height="1.02" fill="#ffc8c8"/>
<rect x="33" y="12" width="1.02" height="1.02" fill="#ffc8c8"/>
<rect x="34" y="12" width="1.02" height="1.02" fill="#ffe0e0"/>
<rect x="35" y="12" width="1.02" height="1.02" fill="#ffe0e0"/>
<rect x="0" y="13" width="1.02" height="1.02" fill="#8484ff"/>
<rect x="1" y="13" width="1.02" height="1.02" fill="#a4a4ff"/>
<rect x="2" y="13" width="1.02" height="1.02" fill="#c4c4ff"/>
<rect x="3" y="13" width="1.02" height="1.02" fill="#c4c4ff"/>
<rect x="4" y="13" width="1.02" height="1.02" fill="#c4c4ff"/>
<rect x="5" y="13" width="1.02" height="1.02" fill="#a4a4ff"/>
<rect x="6" y="13" width="1.02" height="1.02" fill="#a4a4ff"/>
<rect x="7" y="13" width="1.02" height="1.02" fill="#a4a4ff"/>
<rect x="8" y="13" width="1.02" height="1.02" fill="#c4c4ff"/>
<rect x="9" y="13" width="1.02" height="1.02" fill="#a4a4ff"/>
<rect x="10" y="13" width="1.02" height="1.02" fill="#a4a4ff"/>
<rect x="11" y="13" width="1.02" height="1.02" fill="#8484ff"/>
<rect x="12" y="13" width="1.02" height="1.02" fill="#a4a4ff"/>
<rect x="13" y="13" width="1.02" height="1.02" fill="#a4a4ff"/>
<rect x="14" y="13" width="1.02" height="1.02" fill="#8484ff"/>
<rect x="15" y="13" width="1.02" height="1.02" fill="#a4a4ff"/>
<rect x="16" y="13" width="1.02" height="1.02" fill="#a4a4ff"/>
<rect x="17" y="13" width="1.02" height="1.02" fill="#a4a4ff"/>
<rect x="18" y="13" width="1.02" height="1.02" fill="#c4c4ff"/>
<rect x="19" y="13" width="1.02" height="1.02" fill="#e0e0ff"/>
<rect x="20" y="13" width="1.02" height="1.02" fill="#e0e0ff"/>
<rect x="21" y="13" width="1.02" height="1.02" fill="#e0e0ff"/>
<rect x="22" y="13" width="1.02" height="1.02" fill="#ffc8c8"/>
<rect x="23" y="13" width="1.02" height="1.02" fill="#ffc8c8"/>
<rect x="24" y="13" width="1.02" height="1.02" fill="#ffc8c8"/>
<rect x="25" y="13" width="1.02" height="1.02" fill="#ffa8a8"/>
<rect x="26" y="13" width="1.02" height="1.02" fill="#ff8888"/>
<rect x="27" y="13" width="1.02" height="1.02" fill="#ff8888"/>
<rect x="28" y="13" width="1.02" height="1.02" fill="#ff8888"/>
<rect x="29" y="13" width="1.02" height="1.02" fill="#ff8888"/>
<rect x="30" y="13" width="1.02" height="1.02" fill="#ffa8a8"/>
<rect x="31" y="13" width="1.02" height="1.02" fill="#ffa8a8"/>
<rect x="32" y="13" width="1.02" height="1.02" fill="#ffc8c8"/>
<rect x="33" y="13" width="1.02" height="1.02" fill="#ffc8c8"/>
<rect x="34" y="13" width="1.02" height="1.02" fill="#ffc8c8"/>
<rect x="35" y="13" width="1.02" height="1.02" fill="#ffe0e0"/>
<rect x="0" y="14" width="1.02" height="1.02" fill="#c4c4ff"/>
<rect x="1" y="14" width="1.02" height="1.02" fill="#c4c4ff"/>
<rect x="2" y="14" width="1.02" height="1.02" fill="#c4c4ff"/>
<rect x="3" y="14" width="1.02" height="1.02" fill="#c4c4ff"/>
<rect x="4" y="14" width="1.02" height="1.02" fill="#c4c4ff"/>
<rect x="5" y="14" width="1.02" height="1.02" fill="#c4c4ff"/>
<rect x="6" y="14" width="1.02" height="1.02" fill="#c4c4ff"/>
<rect x="7" y="14" width="1.02" height="1.02" fill="#c4c4ff"/>
<rect x="8" y="14" width="1.02" height="1.02" fill="#c4c4ff"/>
<rect x="9" y="14" width="1.02" height="1.02" fill="#c4c4ff"/>
<rect x="10" y="14" width="1.02" height="1.02" fill="#c4c4ff"/>
<rect x="11" y="14" width="1.02" height="1.02" fill="#a4a4ff"/>
<rect x="12" y="14" width="1.02" height="1.02" fill="#8484ff"/>
<rect x="13" y="14" width="1.02" height="1.02" fill="#8484ff"/>
<rect x="14" y="14" width="1.02" height="1.02" fill="#a4a4ff"/>
<rect x="15" y="14" width="1.02" height="1.02" fill="#a4a4ff"/>
<rect x="16" y="14" width="1.02" height="1.02" fill="#a4a4ff"/>
<rect x="17" y="14" width="1.02" height="1.02" fill="#c4c4ff"/>
<rect x="18" y="14" width="1.02" height="1.02" fill="#e0e0ff"/>
<rect x="19" y="14" width="1.02" height="1.02" fill="#e0e0ff"/>
<rect x="20" y="14" width="1.02" height="1.02" fill="#e0e0ff"/>
<rect x="21" y="14" width="1.02" height="1.02" fill="#ffe0e0"/>
<rect x="22" y="14" width="1.02" height="1.02" fill="#ffc8c8"/>
<rect x="23" y="14" width="1.02" height="1.02" fill="#ffc8c8"/>
<rect x="24" y="14" width="1.02" height="1.02" fill="#ffa8a8"/>
<rect x="25" y="14" width="1.02" height="1.02" fill="#ffa8a8"/>
<rect x="26" y="14" width="1.02" height="1.02" fill="#ffa8a8"/>
<rect x="27" y="14" width="1.02" height="1.02" fill="#ff8888"/>
<rect x="28" y="14" width="1.02" height="1.02" fill="#ff8888"/>
<rect x="29" y="14" width="1.02" height="1.02" fill="#ff8888"/>
<rect x="30" y="14" width="1.02" height="1.02" fill="#ffa8a8"/>
<rect x="31" y="14" width="1.02" height="1.02" fill="#ffa8a8"/>
<rect x="32" y="14" width="1.02" height="1.02" fill="#ffa8a8"/>
<rect x="33" y="14" width="1.02" height="1.02" fill="#ffc8c8"/>
<rect x="34" y="14" width="1.02" height="1.02" fill="#ffc8c8"/>
<rect x="35" y="14" width="1.02" height="1.02" fill="#ffc8c8"/>
<rect x="0" y="15" width="1.02" height="1.02" fill="#c4c4ff"/>
<rect x="1" y="15" width="1.02" height="1.02" fill="#c4c4ff"/>
<rect x="2" y="15" width="1.02" height="1.02" fill="#c4c4ff"/>
<rect x="3" y="15" width="1.02" height="1.02" fill="#c4c4ff"/>
<rect x="4" y="15" width="1.02" height="1.02" fill="#c4c4ff"/>
<rect x="5" y="15" width="1.02" height="1.02" fill="#c4c4ff"/>
<rect x="6" y="15" width="1.02" height="1.02" fill="#c4c4ff"/>
<rect x="7" y="15" width="1.02" height="1.02" fill="#e0e0ff"/>
<rect x="8" y="15" width="1.02" height="1.02" fill="#c4c4ff"/>
<rect x="9" y="15" width="1.02" height="1.02" fill="#c4c4ff"/>
<rect x="10" y="15" width="1.02" height="1.02" fill="#c4c4ff"/>
<rect x="11" y="15" width="1.02" height="1.02" fill="#c4c4ff"/>
<rect x="12" y="15" width="1.02" height="1.02" fill="#c4c4ff"/>
<rect x="13" y="15" width="1.02" height="1.02" fill="#c4c4ff"/>
<rect x="14" y="15" width="1.02" height="1.02" fill="#c4c4ff"/>
<rect x="15" y="15" width="1.02" height="1.02" fill="#c4c4ff"/>
<rect x="16" y="15" width="1.02" height="1.02" fill="#c4c4ff"/>
<rect x="17" y="15" width="1.02" height="1.02" fill="#e0e0ff"/>
<rect x="18" y="15" width="1.02" height="1.02" fill="#e0e0ff"/>
<rect x="19" y="15" width="1.02" height="1.02" fill="#e0e0ff"/>
<rect x="20" y="15" width="1.02" height="1.02" fill="#e0e0ff"/>
<rect x="21" y="15" width="1.02" height="1.02" fill="#ffe0e0"/>
<rect x="22" y="15" width="1.02" height="1.02" fill="#ffc8c8"/>
<rect x="23" y="15" width="1.02" height="1.02" fill="#ffa8a8"/>
<rect x="24" y="15" width="1.02" height="1.02" fill="#ffa8a8"/>
<rect x="25" y="15" width="1.02" height="1.02" fill="#ff8888"/>
<rect x="26" y="15" width="1.02" height="1.02" fill="#ff8888"/>
<rect x="27" y="15" width="1.02" height="1.02" fill="#ff8888"/>
<rect x="28" y="15" width="1.02" height="1.02" fill="#ff8888"/>
<rect x="29" y="15" width="1.02" height="1.02" fill="#ff8888"/>
<rect x="30" y="15" width="1.02" height="1.02" fill="#ffa8a8"/>
<rect x="31" y="15" width="1.02" height="1.02" fill="#ffa8a8"/>
<rect x="32" y="15" width="1.02" height="1.02" fill="#ffa8a8"/>
<rect x="33" y="15" width="1.02" height="1.02" fill="#ffa8a8"/>
<rect x="34" y="15" width="1.02" height="1.02" fill="#ffc8c8"/>
<rect x="35" y="15" width="1.02" height="1.02" fill="#ffc8c8"/>
<rect x="0" y="16" width="1.02" height="1.02" fill="#c4c4ff"/>
<rect x="1" y="16" width="1.02" height="1.02" fill="#c4c4ff"/>
<rect x="2" y="16" width="1.02" height="1.02" fill="#e0e0ff"/>
<rect x="3" y="16" width="1.02" height="1.02" fill="#e0e0ff"/>
<rect x="4" y="16" width="1.02" height="1.02" fill="#e0e0ff"/>
<rect x="5" y="16" width="1.02" height="1.02" fill="#e0e0ff"/>
<rect x="6" y="16" width="1.02" height="1.02" fill="#e0e0ff"/>
<rect x="7" y="16" width="1.02" height="1.02" fill="#e0e0ff"/>
<rect x="8" y="16" width="1.02" height="1.02" fill="#e0e0ff"/>
<rect x="9" y="16" width="1.02" height="1.02" fill="#c4c4ff"/>
<rect x="10" y="16" width="1.02" height="1.02" fill="#c4c4ff"/>
<rect x="11" y="16" width="1.02" height="1.02" fill="#c4c4ff"/>
<rect x="12" y="16" width="1.02" height="1.02" fill="#e0e0ff"/>
<rect x="13" y="16" width="1.02" height="1.02" fill="#e0e0ff"/>
<rect x="14" y="16" width="1.02" height="1.02" fill="#c4c4ff"/>
<rect x="15" y="16" width="1.02" height="1.02" fill="#e0e0ff"/>
<rect x="16" y="16" width="1.02" height="1.02" fill="#e0e0ff"/>
<rect x="17" y="16" width="1.02" height="1.02" fill="#e0e0ff"/>
<rect x="18" y="16" width="1.02" height="1.02" fill="#e0e0ff"/>
<rect x="19" y="16" width="1.02" height="1.02" fill="#e0e0ff"/>
<rect x="20" y="16" width="1.02" height="1.02" fill="#ffe0e0"/>
<rect x="21" y="16" width="1.02" height="1.02" fill="#ffe0e0"/>
<rect x="22" y="16" width="1.02" height="1.02" fill="#ffc8c8"/>
<rect x="23" y="16" width="1.02" height="1.02" fill="#ffa8a8"/>
<rect x="24" y="16" width="1.02" height="1.02" fill="#ffa8a8"/>
<rect x="25" y="16" width="1.02" height="1.02" fill="#ff8888"/>
<rect x="26" y="16" width="1.02" height="1.02" fill="#ff8888"/>
<rect x="27" y="16" width="1.02" height="1.02" fill="#ff8888"/>
<rect x="28" y="16" width="1.02" height="1.02" fill="#ff8888"/>
<rect x="29" y="16" width="1.02" height="1.02" fill="#ff8888"/>
<rect x="30" y="16" width="1.02" height="1.02" fill="#ff8888"/>
<rect x="31" y="16" width="1.02" height="1.02" fill="#ffa8a8"/>
<rect x="32" y="16" width="1.02" height="1.02" fill="#ffa8a8"/>
<rect x="33" y="16" width="1.02" height="1.02" fill="#ffa8a8"/>
<rect x="34" y="16" width="1.02" height="1.02" fill="#ffc8c8"/>
<rect x="35" y="16" width="1.02" height="1.02" fill="#ffc8c8"/>
<rect x="0" y="17" width="1.02" height="1.02" fill="#c4c4ff"/>
<rect x="1" y="17" width="1.02" height="1.02" fill="#c4c4ff"/>
<rect x="2" y="17" width="1.02" height="1.02" fill="#e0e0ff"/>
<rect x="3" y="17" width="1.02" height="1.02" fill="#e0e0ff"/>
<rect x="4" y="17" width="1.02" height="1.02" fill="#e0e0ff"/>
<rect x="5" y="17" width="1.02" height="1.02" fill="#e0e0ff"/>
<rect x="6" y="17" width="1.02" height="1.02" fill="#e0e0ff"/>
<rect x="7" y="17" width="1.02" height="1.02" fill="#e0e0ff"/>
<rect x="8" y="17" width="1.02" height="1.02" fill="#e0e0ff"/>
<rect x="9" y="17" width="1.02" height="1.02" fill="#e0e0ff"/>
<rect x="10" y="17" width="1.02" height="1.02" fill="#c4c4ff"/>
<rect x="11" y="17" width="1.02" height="1.02" fill="#e0e0ff"/>
<rect x="12" y="17" width="1.02" height="1.02" fill="#e0e0ff"/>
<rect x="13" y="17" width="1.02" height="1.02" fill="#e0e0ff"/>
<rect x="14" y="17" width="1.02" height="1.02" fill="#e0e0ff"/>
<rect x="15" y="17" width="1.02" height="1.02" fill="#e0e0ff"/>
<rect x="16" y="17" width="1.02" height="1.02" fill="#e0e0ff"/>
<rect x="17" y="17" width="1.02" height="1.02" fill="#e0e0ff"/>
<rect x="18" y="17" width="1.02" height="1.02" fill="#ffe0e0"/>
<rect x="19" y="17" width="1.02" height="1.02" fill="#ffe0e0"/>
<rect x="20" y="17" width="1.02" height="1.02" fill="#ffe0e0"/>
<rect x="21" y="17" width="1.02" height="1.02" fill="#ffe0e0"/>
<rect x="22" y="17" width="1.02" height="1.02" fill="#ffc8c8"/>
<rect x="23" y="17" width="1.02" height="1.02" fill="#ffa8a8"/>
<rect x="24" y="17" width="1.02" height="1.02" fill="#ffa8a8"/>
<rect x="25" y="17" width="1.02" height="1.02" fill="#ffa8a8"/>
<rect x="26" y="17" width="1.02" height="1.02" fill="#ff8888"/>
<rect x="27" y="17" width="1.02" height="1.02" fill="#ff8888"/>
<rect x="28" y="17" width="1.02" height="1.02" fill="#ff8888"/>
<rect x="29" y="17" width="1.02" height="1.02" fill="#ffa8a8"/>
<rect x="30" y="17" width="1.02" height="1.02" fill="#ff8888"/>
<rect x="31" y="17" width="1.02" height="1.02" fill="#ffa8a8"/>
<rect x="32" y="17" width="1.02" height="1.02" fill="#ffa8a8"/>
<rect x="33" y="17" width="1.02" height="1.02" fill="#ffa8a8"/>
<rect x="34" y="17" width="1.02" height="1.02" fill="#ffa8a8"/>
<rect x="35" y="17" width="1.02" height="1.02" fill="#ffc8c8"/>
<rect x="0" y="18" width="1.02" height="1.02" fill="#c4c4ff"/>
<rect x="1" y="18" width="1.02" height="1.02" fill="#e0e0ff"/>
<rect x="2" y="18" width="1.02" height="1.02" fill="#e0e0ff"/>
<rect x="3" y="18" width="1.02" height="1.02" fill="#e0e0ff"/>
<rect x="4" y="18" width="1.02" height="1.02" fill="#e0e0ff"/>
<rect x="5" y="18" width="1.02" height="1.02" fill="#e0e0ff"/>
<rect x="6" y="18" width="1.02" height="1.02" fill="#e0e0ff"/>
<rect x="7" y="18" width="1.02" height="1.02" fill="#e0e0ff"/>
<rect x="8" y="18" width="1.02" height="1.02" fill="#e0e0ff"/>
<rect x="9" y="18" width="1.02" height="1.02" fill="#e0e0ff"/>
<rect x="10" y="18" width="1.02" height="1.02" fill="#e0e0ff"/>
<rect x="11" y="18" width="1.02" height="1.02" fill="#e0e0ff"/>
<rect x="12" y="18" width="1.02" height="1.02" fill="#e0e0ff"/>
<rect x="13" y="18" width="1.02" height="1.02" fill="#e0e0ff"/>
<rect x="14" y="18" width="1.02" height="1.02" fill="#e0e0ff"/>
<rect x="15" y="18" width="1.02" height="1.02" fill="#e0e0ff"/>
<rect x="16" y="18" width="1.02" height="1.02" fill="#e0e0ff"/>
<rect x="17" y="18" width="1.02" height="1.02" fill="#ffe0e0"/>
<rect x="18" y="18" width="1.02" height="1.02" fill="#ffe0e0"/>
<rect x="19" y="18" width="1.02" height="1.02" fill="#ffe0e0"/>
<rect x="20" y="18" width="1.02" height="1.02" fill="#ffe0e0"/>
<rect x="21" y="18" width="1.02" height="1.02" fill="#ffc8c8"/>
<rect x="22" y="18" width="1.02" height="1.02" fill="#ffc8c8"/>
<rect x="23" y="18" width="1.02" height="1.02" fill="#ffa8a8"/>
<rect x="24" y="18" width="1.02" height="1.02" fill="#ffa8a8"/>
<rect x="25" y="18" width="1.02" height="1.02" fill="#ffa8a8"/>
<rect x="26" y="18" width="1.02" height="1.02" fill="#ffa8a8"/>
<rect x="27" y="18" width="1.02" height="1.02" fill="#ff8888"/>
<rect x="28" y="18" width="1.02" height="1.02" fill="#ffa8a8"/>
<rect x="29" y="18" width="1.02" height="1.02" fill="#ffa8a8"/>
<rect x="30" y="18" width="1.02" height="1.02" fill="#ffa8a8"/>
<rect x="31" y="18" width="1.02" height="1.02" fill="#ffa8a8"/>
<rect x="32" y="18" width="1.02" height="1.02" fill="#ffa8a8"/>
<rect x="33" y="18" width="1.02" height="1.02" fill="#ffa8a8"/>
<rect x="34" y="18" width="1.02" height="1.02" fill="#ffa8a8"/>
<rect x="35" y="18" width="1.02" height="1.02" fill="#ffc8c8"/>
<rect x="0" y="19" width="1.02" height="1.02" fill="#c4c4ff"/>
<rect x="1" y="19" width="1.02" height="1.02" fill="#e0e0ff"/>
<rect x="2" y="19" width="1.02" height="1.02" fill="#e0e0ff"/>
<rect x="3" y="19" width="1.02" height="1.02" fill="#e0e0ff"/>
<rect x="4" y="19" width="1.02" height="1.02" fill="#e0e0ff"/>
<rect x="5" y="19" width="1.02" height="1.02" fill="#e0e0ff"/>
<rect x="6" y="19" width="1.02" height="1.02" fill="#e0e0ff"/>
<rect x="7" y="19" width="1.02" height="1.02" fill="#e0e0ff"/>
<rect x="8" y="19" width="1.02" height="1.02" fill="#e0e0ff"/>
<rect x="9" y="19" width="1.02" height="1.02" fill="#e0e0ff"/>
<rect x="10" y="19" width="1.02" height="1.02" fill="#e0e0ff"/>
<rect x="11" y="19" width="1.02" height="1.02" fill="#e0e0ff"/>
<rect x="12" y="19" width="1.02" height="1.02" fill="#e0e0ff"/>
<rect x="13" y="19" width="1.02" height="1.02" fill="#e0e0ff"/>
<rect x="14" y="19" width="1.02" height="1.02" fill="#e0e0ff"/>
<rect x="15" y="19" width="1.02" height="1.02" fill="#e0e0ff"/>
<rect x="16" y="19" width="1.02" height="1.02" fill="#e0e0ff"/>
<rect x="17" y="19" width="1.02" height="1.02" fill="#ffe0e0"/>
<rect x="18" y="19" width="1.02" height="1.02" fill="#ffe0e0"/>
<rect x="19" y="19" width="1.02" height="1.02" fill="#ffc8c8"/>
<rect x="20" y="19" width="1.02" height="1.02" fill="#ffc8c8"/>
<rect x="21" y="19" width="1.02" height="1.02" fill="#ffc8c8"/>
<rect x="22" y="19" width="1.02" height="1.02" fill="#ffc8c8"/>
<rect x="23" y="19" width="1.02" height="1.02" fill="#ffa8a8"/>
<rect x="24" y="19" width="1.02" height="1.02" fill="#ffa8a8"/>
<rect x="25" y="19" width="1.02" height="1.02" fill="#ffa8a8"/>
<rect x="26" y="19" width="1.02" height="1.02" fill="#ffa8a8"/>
<rect x="27" y="19" width="1.02" height="1.02" fill="#ffa8a8"/>
<rect x="28" y="19" width="1.02" height="1.02" fill="#ffa8a8"/>
<rect x="29" y="19" width="1.02" height="1.02" fill="#ffa8a8"/>
<rect x="30" y="19" width="1.02" height="1.02" fill="#ffa8a8"/>
<rect x="31" y="19" width="1.02" height="1.02" fill="#ffa8a8"/>
<rect x="32" y="19" width="1.02" height="1.02" fill="#ffa8a8"/>
<rect x="33" y="19" width="1.02" height="1.02" fill="#ffa8a8"/>
<rect x="34" y="19" width="1.02" height="1.02" fill="#ffa8a8"/>
<rect x="35" y="19" width="1.02" height="1.02" fill="#ffc8c8"/>
<rect x="0" y="20" width="1.02" height="1.02" fill="#c4c4ff"/>
<rect x="1" y="20" width="1.02" height="1.02" fill="#e0e0ff"/>
<rect x="2" y="20" width="1.02" height="1.02" fill="#e0e0ff"/>
<rect x="3" y="20" width="1.02" height="1.02" fill="#e0e0ff"/>
<rect x="4" y="20" width="1.02" height="1.02" fill="#e0e0ff"/>
<rect x="5" y="20" width="1.02" height="1.02" fill="#e0e0ff"/>
<rect x="6" y="20" width="1.02" height="1.02" fill="#e0e0ff"/>
<rect x="7" y="20" width="1.02" height="1.02" fill="#e0e0ff"/>
<rect x="8" y="20" width="1.02" height="1.02" fill="#e0e0ff"/>
<rect x="9" y="20" width="1.02" height="1.02" fill="#e0e0ff"/>
<rect x="10" y="20" width="1.02" height="1.02" fill="#e0e0ff"/>
<rect x="11" y="20" width="1.02" height="1.02" fill="#e0e0ff"/>
<rect x="12" y="20" width="1.02" height="1.02" fill="#e0e0ff"/>
<rect x="13" y="20" width="1.02" height="1.02" fill="#e0e0ff"/>
<rect x="14" y="20" width="1.02" height="1.02" fill="#e0e0ff"/>
<rect x="15" y="20" width="1.02" height="1.02" fill="#e0e0ff"/>
<rect x="16" y="20" width="1.02" height="1.02" fill="#ffe0e0"/>
<rect x="17" y="20" width="1.02" height="1.02" fill="#ffe0e0"/>
<rect x="18" y="20" width="1.02" height="1.02" fill="#ffc8c8"/>
<rect x="19" y="20" width="1.02" height="1.02" fill="#ffc8c8"/>
<rect x="20" y="20" width="1.02" height="1.02" fill="#ffc8c8"/>
<rect x="21" y="20" width="1.02" height="1.02" fill="#ffc8c8"/>
<rect x="22" y="20" width="1.02" height="1.02" fill="#ffa8a8"/>
<rect x="23" y="20" width="1.02" height="1.02" fill="#ffa8a8"/>
<rect x="24" y="20" width="1.02" height="1.02" fill="#ffa8a8"/>
<rect x="25" y="20" width="1.02" height="1.02" fill="#ffa8a8"/>
<rect x="26" y="20" width="1.02" height="1.02" fill="#ffa8a8"/>
<rect x="27" y="20" width="1.02" height="1.02" fill="#ffa8a8"/>
<rect x="28" y="20" width="1.02" height="1.02" fill="#ffa8a8"/>
<rect x="29" y="20" width="1.02" height="1.02" fill="#ffa8a8"/>
<rect x="30" y="20" width="1.02" height="1.02" fill="#ffa8a8"/>
<rect x="31" y="20" width="1.02" height="1.02" fill="#ffa8a8"/>
<rect x="32" y="20" width="1.02" height="1.02" fill="#ffa8a8"/>
<rect x="33" y="20" width="1.02" height="1.02" fill="#ffc8c8"/>
<rect x="34" y="20" width="1.02" height="1.02" fill="#ffc8c8"/>
<rect x="35" y="20" width="1.02" height="1.02" fill="#ffc8c8"/>
<rect x="0" y="21" width="1.02" height="1.02" fill="#e0e0ff"/>
<rect x="1" y="21" width="1.02" height="1.02" fill="#e0e0ff"/>
<rect x="2" y="21" width="1.02" height="1.02" fill="#e0e0ff"/>
<rect x="3" y="21" width="1.02" height="1.02" fill="#e0e0ff"/>
<rect x="4" y="21" width="1.02" height="1.02" fill="#e0e0ff"/>
<rect x="5" y="21" width="1.02" height="1.02" fill="#e0e0ff"/>
<rect x="6" y="21" width="1.02" height="1.02" fill="#e0e0ff"/>
<rect x="7" y="21" width="1.02" height="1.02" fill="#e0e0ff"/>
<rect x="8" y="21" width="1.02" height="1.02" fill="#ffe0e0"/>
<rect x="9" y="21" width="1.02" height="1.02" fill="#e0e0ff"/>
<rect x="10" y="21" width="1.02" height="1.02" fill="#e0e0ff"/>
<rect x="11" y="21" width="1.02" height="1.02" fill="#e0e0ff"/>
<rect x="12" y="21" width="1.02" height="1.02" fill="#e0e0ff"/>
<rect x="13" y="21" width="1.02" height="1.02" fill="#e0e0ff"/>
<rect x="14" y="21" width="1.02" height="1.02" fill="#e0e0ff"/>
<rect x="15" y="21" width="1.02" height="1.02" fill="#ffe0e0"/>
<rect x="16" y="21" width="1.02" height="1.02" fill="#ffe0e0"/>
<rect x="17" y="21" width="1.02" height="1.02" fill="#ffc8c8"/>
<rect x="18" y="21" width="1.02" height="1.02" fill="#ffc8c8"/>
<rect x="19" y="21" width="1.02" height="1.02" fill="#ffc8c8"/>
<rect x="20" y="21" width="1.02" height="1.02" fill="#ffc8c8"/>
<rect x="21" y="21" width="1.02" height="1.02" fill="#ffc8c8"/>
<rect x="22" y="21" width="1.02" height="1.02" fill="#ffa8a8"/>
<rect x="23" y="21" width="1.02" height="1.02" fill="#ffa8a8"/>
<rect x="24" y="21" width="1.02" height="1.02" fill="#ffa8a8"/>
<rect x="25" y="21" width="1.02" height="1.02" fill="#ffa8a8"/>
<rect x="26" y="21" width="1.02" height="1.02" fill="#ffa8a8"/>
<rect x="27" y="21" width="1.02" height="1.02" fill="#ffa8a8"/>
<rect x="28" y="21" width="1.02" height="1.02" fill="#ffc8c8"/>
<rect x="29" y="21" width="1.02" height="1.02" fill="#ffc8c8"/>
<rect x="30" y="21" width="1.02" height="1.02" fill="#ffa8a8"/>
<rect x="31" y="21" width="1.02" height="1.02" fill="#ffa8a8"/>
<rect x="32" y="21" width="1.02" height="1.02" fill="#ffc8c8"/>
<rect x="33" y="21" width="1.02" height="1.02" fill="#ffc8c8"/>
<rect x="34" y="21" width="1.02" height="1.02" fill="#ffc8c8"/>
<rect x="35" y="21" width="1.02" height="1.02" fill="#ffc8c8"/>
</svg>
<polyline points="344.30,31.50 368.47,31.50" fill="none" stroke="#1a1a1a" stroke-width="0.85"/>
<polyline points="368.50,15.60 368.50,39.93" fill="none" stroke="#1a1a1a" stroke-width="0.85"/>
<polyline points="368.47,39.50 442.22,39.50" fill="none" stroke="#1a1a1a" stroke-width="0.85"/>
<polyline points="384.50,39.93 384.50,104.80" fill="none" stroke="#1a1a1a" stroke-width="0.85"/>
<polyline points="425.50,15.60 425.50,39.93" fill="none" stroke="#1a1a1a" stroke-width="0.85"/>
<polyline points="442.50,39.93 442.50,72.36" fill="none" stroke="#1a1a1a" stroke-width="0.85"/>
<polyline points="442.22,48.50 491.80,48.50" fill="none" stroke="#1a1a1a" stroke-width="0.85"/>
<polyline points="344.30,72.50 491.80,72.50" fill="none" stroke="#1a1a1a" stroke-width="0.85"/>
<polyline points="434.50,72.36 434.50,104.80" fill="none" stroke="#1a1a1a" stroke-width="0.85"/>
<polyline points="434.11,76.50 459.02,76.50" fill="none" stroke="#1a1a1a" stroke-width="0.85"/>
<polyline points="459.50,76.42 459.50,92.15" fill="none" stroke="#1a1a1a" stroke-width="0.85"/>
<polyline points="459.02,92.15 460.66,93.04 462.30,93.29 463.94,93.61 465.58,95.07 467.22,94.91 468.86,95.47 470.49,95.56 472.13,95.72 473.77,95.64 475.41,96.69 477.05,97.10 478.69,97.50 480.33,97.91 481.97,97.66 483.61,98.15 485.24,97.75 486.88,98.47 488.52,98.15 490.16,98.96 491.80,98.31" fill="none" stroke="#1a1a1a" stroke-width="0.75"/>
<polyline points="425.83,23.71 471.31,23.71 473.77,24.11 476.23,24.93 481.15,24.93 485.24,26.14 487.70,27.76 488.93,30.20 490.57,33.44 491.80,37.49" fill="none" stroke="#1a1a1a" stroke-width="0.75"/>
<polyline points="488.11,15.60 488.11,19.65 486.88,22.09 487.70,27.76" fill="none" stroke="#1a1a1a" stroke-width="0.75"/>
<polygon points="352.90,33.44 354.54,33.85 355.77,36.28 357.82,37.90 360.28,39.52 361.92,41.95 359.87,43.17 357.00,42.36 355.36,40.33 353.72,37.49 352.66,35.06" fill="none" stroke="#222" stroke-width="0.75"/>
<rect x="344.3" y="15.6" width="147.50" height="89.20" fill="none" stroke="#000" stroke-width="1"/>
<line x1="344.30" y1="15.6" x2="344.30" y2="13.799999999999999" stroke="#000" stroke-width="0.8"/>
<line x1="344.30" y1="104.8" x2="344.30" y2="106.6" stroke="#000" stroke-width="0.8"/>
<line x1="352.49" y1="15.6" x2="352.49" y2="13.799999999999999" stroke="#000" stroke-width="0.8"/>
<line x1="352.49" y1="104.8" x2="352.49" y2="106.6" stroke="#000" stroke-width="0.8"/>
<line x1="360.69" y1="15.6" x2="360.69" y2="13.799999999999999" stroke="#000" stroke-width="0.8"/>
<line x1="360.69" y1="104.8" x2="360.69" y2="106.6" stroke="#000" stroke-width="0.8"/>
<line x1="368.88" y1="15.6" x2="368.88" y2="13.799999999999999" stroke="#000" stroke-width="0.8"/>
<line x1="368.88" y1="104.8" x2="368.88" y2="106.6" stroke="#000" stroke-width="0.8"/>
<line x1="377.08" y1="15.6" x2="377.08" y2="12.0" stroke="#000" stroke-width="0.8"/>
<line x1="377.08" y1="104.8" x2="377.08" y2="108.39999999999999" stroke="#000" stroke-width="0.8"/>
<line x1="385.27" y1="15.6" x2="385.27" y2="13.799999999999999" stroke="#000" stroke-width="0.8"/>
<line x1="385.27" y1="104.8" x2="385.27" y2="106.6" stroke="#000" stroke-width="0.8"/>
<line x1="393.47" y1="15.6" x2="393.47" y2="13.799999999999999" stroke="#000" stroke-width="0.8"/>
<line x1="393.47" y1="104.8" x2="393.47" y2="106.6" stroke="#000" stroke-width="0.8"/>
<line x1="401.66" y1="15.6" x2="401.66" y2="13.799999999999999" stroke="#000" stroke-width="0.8"/>
<line x1="401.66" y1="104.8" x2="401.66" y2="106.6" stroke="#000" stroke-width="0.8"/>
<line x1="409.86" y1="15.6" x2="409.86" y2="13.799999999999999" stroke="#000" stroke-width="0.8"/>
<line x1="409.86" y1="104.8" x2="409.86" y2="106.6" stroke="#000" stroke-width="0.8"/>
<line x1="418.05" y1="15.6" x2="418.05" y2="12.0" stroke="#000" stroke-width="0.8"/>
<line x1="418.05" y1="104.8" x2="418.05" y2="108.39999999999999" stroke="#000" stroke-width="0.8"/>
<line x1="426.24" y1="15.6" x2="426.24" y2="13.799999999999999" stroke="#000" stroke-width="0.8"/>
<line x1="426.24" y1="104.8" x2="426.24" y2="106.6" stroke="#000" stroke-width="0.8"/>
<line x1="434.44" y1="15.6" x2="434.44" y2="13.799999999999999" stroke="#000" stroke-width="0.8"/>
<line x1="434.44" y1="104.8" x2="434.44" y2="106.6" stroke="#000" stroke-width="0.8"/>
<line x1="442.63" y1="15.6" x2="442.63" y2="13.799999999999999" stroke="#000" stroke-width="0.8"/>
<line x1="442.63" y1="104.8" x2="442.63" y2="106.6" stroke="#000" stroke-width="0.8"/>
<line x1="450.83" y1="15.6" x2="450.83" y2="13.799999999999999" stroke="#000" stroke-width="0.8"/>
<line x1="450.83" y1="104.8" x2="450.83" y2="106.6" stroke="#000" stroke-width="0.8"/>
<line x1="459.02" y1="15.6" x2="459.02" y2="12.0" stroke="#000" stroke-width="0.8"/>
<line x1="459.02" y1="104.8" x2="459.02" y2="108.39999999999999" stroke="#000" stroke-width="0.8"/>
<line x1="467.22" y1="15.6" x2="467.22" y2="13.799999999999999" stroke="#000" stroke-width="0.8"/>
<line x1="467.22" y1="104.8" x2="467.22" y2="106.6" stroke="#000" stroke-width="0.8"/>
<line x1="475.41" y1="15.6" x2="475.41" y2="13.799999999999999" stroke="#000" stroke-width="0.8"/>
<line x1="475.41" y1="104.8" x2="475.41" y2="106.6" stroke="#000" stroke-width="0.8"/>
<line x1="483.61" y1="15.6" x2="483.61" y2="13.799999999999999" stroke="#000" stroke-width="0.8"/>
<line x1="483.61" y1="104.8" x2="483.61" y2="106.6" stroke="#000" stroke-width="0.8"/>
<line x1="491.80" y1="15.6" x2="491.80" y2="13.799999999999999" stroke="#000" stroke-width="0.8"/>
<line x1="491.80" y1="104.8" x2="491.80" y2="106.6" stroke="#000" stroke-width="0.8"/>
<line x1="344.3" y1="104.80" x2="342.5" y2="104.80" stroke="#000" stroke-width="0.8"/>
<line x1="491.8" y1="104.80" x2="493.6" y2="104.80" stroke="#000" stroke-width="0.8"/>
<line x1="344.3" y1="96.69" x2="342.5" y2="96.69" stroke="#000" stroke-width="0.8"/>
<line x1="491.8" y1="96.69" x2="493.6" y2="96.69" stroke="#000" stroke-width="0.8"/>
<line x1="344.3" y1="88.58" x2="340.7" y2="88.58" stroke="#000" stroke-width="0.8"/>
<line x1="491.8" y1="88.58" x2="495.40000000000003" y2="88.58" stroke="#000" stroke-width="0.8"/>
<line x1="344.3" y1="80.47" x2="342.5" y2="80.47" stroke="#000" stroke-width="0.8"/>
<line x1="491.8" y1="80.47" x2="493.6" y2="80.47" stroke="#000" stroke-width="0.8"/>
<line x1="344.3" y1="72.36" x2="342.5" y2="72.36" stroke="#000" stroke-width="0.8"/>
<line x1="491.8" y1="72.36" x2="493.6" y2="72.36" stroke="#000" stroke-width="0.8"/>
<line x1="344.3" y1="64.25" x2="342.5" y2="64.25" stroke="#000" stroke-width="0.8"/>
<line x1="491.8" y1="64.25" x2="493.6" y2="64.25" stroke="#000" stroke-width="0.8"/>
<line x1="344.3" y1="56.15" x2="342.5" y2="56.15" stroke="#000" stroke-width="0.8"/>
<line x1="491.8" y1="56.15" x2="493.6" y2="56.15" stroke="#000" stroke-width="0.8"/>
<line x1="344.3" y1="48.04" x2="340.7" y2="48.04" stroke="#000" stroke-width="0.8"/>
<line x1="491.8" y1="48.04" x2="495.40000000000003" y2="48.04" stroke="#000" stroke-width="0.8"/>
<line x1="344.3" y1="39.93" x2="342.5" y2="39.93" stroke="#000" stroke-width="0.8"/>
<line x1="491.8" y1="39.93" x2="493.6" y2="39.93" stroke="#000" stroke-width="0.8"/>
<line x1="344.3" y1="31.82" x2="342.5" y2="31.82" stroke="#000" stroke-width="0.8"/>
<line x1="491.8" y1="31.82" x2="493.6" y2="31.82" stroke="#000" stroke-width="0.8"/>
<line x1="344.3" y1="23.71" x2="342.5" y2="23.71" stroke="#000" stroke-width="0.8"/>
<line x1="491.8" y1="23.71" x2="493.6" y2="23.71" stroke="#000" stroke-width="0.8"/>
<line x1="344.3" y1="15.60" x2="342.5" y2="15.60" stroke="#000" stroke-width="0.8"/>
<line x1="491.8" y1="15.60" x2="493.6" y2="15.60" stroke="#000" stroke-width="0.8"/>
<text x="377.08" y="115.10" font-size="4.6" text-anchor="middle" fill="#111" >110°W</text>
<text x="418.05" y="115.10" font-size="4.6" text-anchor="middle" fill="#111" >105°W</text>
<text x="459.02" y="115.10" font-size="4.6" text-anchor="middle" fill="#111" >100°W</text>
<text transform="translate(339.00,50.44) scale(1,1.15)" font-size="4.4" text-anchor="end" fill="#111" >40°N</text>
<text transform="translate(339.00,90.98) scale(1,1.15)" font-size="4.4" text-anchor="end" fill="#111" >35°N</text>
<text transform="translate(344.30,10.80) scale(1,1.15)" font-size="5.4" text-anchor="start" fill="#111" textLength="28.0" lengthAdjust="spacingAndGlyphs">GRACE obs</text>
<text transform="translate(471.60,10.80) scale(1,1.15)" font-size="5.4" fill="#111" textLength="20.2" lengthAdjust="spacingAndGlyphs">Apr 2006</text>
<text x="345.50" y="101.40" font-size="9.2" text-anchor="start" fill="#111" stroke="#111" stroke-width="0.15">(c)</text>
<path d="M408.77,47.05 L410.67,43.65 L412.57,47.05 Z" fill="none" stroke="#111" stroke-width="0.55"/>
<text x="410.67" y="54.15" font-size="8.4" text-anchor="middle" fill="#111" stroke="#111" stroke-width="0.25">A</text>
<path d="M419.43,47.05 L421.33,43.65 L423.23,47.05 Z" fill="none" stroke="#111" stroke-width="0.55"/>
<text x="421.33" y="54.15" font-size="8.4" text-anchor="middle" fill="#111" stroke="#111" stroke-width="0.25">B</text>
<path d="M154.4,117.6 L148.4,124.0 L154.4,130.4 Z" fill="#7c0000" stroke="#000" stroke-width="0.8"/>
<path d="M339.4,117.6 L345.8,124.0 L339.4,130.4 Z" fill="#00007c" stroke="#000" stroke-width="0.8"/>
<rect x="154.40" y="117.6" width="6.17" height="12.80" fill="#8c0000" stroke="#000" stroke-width="0.6"/>
<rect x="160.57" y="117.6" width="6.17" height="12.80" fill="#9c0000" stroke="#000" stroke-width="0.6"/>
<rect x="166.73" y="117.6" width="6.17" height="12.80" fill="#ac0000" stroke="#000" stroke-width="0.6"/>
<rect x="172.90" y="117.6" width="6.17" height="12.80" fill="#bc0000" stroke="#000" stroke-width="0.6"/>
<rect x="179.07" y="117.6" width="6.17" height="12.80" fill="#cc0000" stroke="#000" stroke-width="0.6"/>
<rect x="185.23" y="117.6" width="6.17" height="12.80" fill="#dc0000" stroke="#000" stroke-width="0.6"/>
<rect x="191.40" y="117.6" width="6.17" height="12.80" fill="#ec0000" stroke="#000" stroke-width="0.6"/>
<rect x="197.57" y="117.6" width="6.17" height="12.80" fill="#ff0000" stroke="#000" stroke-width="0.6"/>
<rect x="203.73" y="117.6" width="6.17" height="12.80" fill="#ff2020" stroke="#000" stroke-width="0.6"/>
<rect x="209.90" y="117.6" width="6.17" height="12.80" fill="#ff4848" stroke="#000" stroke-width="0.6"/>
<rect x="216.07" y="117.6" width="6.17" height="12.80" fill="#ff6c6c" stroke="#000" stroke-width="0.6"/>
<rect x="222.23" y="117.6" width="6.17" height="12.80" fill="#ff8c8c" stroke="#000" stroke-width="0.6"/>
<rect x="228.40" y="117.6" width="6.17" height="12.80" fill="#ffacac" stroke="#000" stroke-width="0.6"/>
<rect x="234.57" y="117.6" width="6.17" height="12.80" fill="#ffcccc" stroke="#000" stroke-width="0.6"/>
<rect x="240.73" y="117.6" width="6.17" height="12.80" fill="#ffe8e8" stroke="#000" stroke-width="0.6"/>
<rect x="246.90" y="117.6" width="6.17" height="12.80" fill="#e8e8ff" stroke="#000" stroke-width="0.6"/>
<rect x="253.07" y="117.6" width="6.17" height="12.80" fill="#ccccff" stroke="#000" stroke-width="0.6"/>
<rect x="259.23" y="117.6" width="6.17" height="12.80" fill="#acacff" stroke="#000" stroke-width="0.6"/>
<rect x="265.40" y="117.6" width="6.17" height="12.80" fill="#8c8cff" stroke="#000" stroke-width="0.6"/>
<rect x="271.57" y="117.6" width="6.17" height="12.80" fill="#6c6cff" stroke="#000" stroke-width="0.6"/>
<rect x="277.73" y="117.6" width="6.17" height="12.80" fill="#4848ff" stroke="#000" stroke-width="0.6"/>
<rect x="283.90" y="117.6" width="6.17" height="12.80" fill="#2020ff" stroke="#000" stroke-width="0.6"/>
<rect x="290.07" y="117.6" width="6.17" height="12.80" fill="#0000ff" stroke="#000" stroke-width="0.6"/>
<rect x="296.23" y="117.6" width="6.17" height="12.80" fill="#0000ec" stroke="#000" stroke-width="0.6"/>
<rect x="302.40" y="117.6" width="6.17" height="12.80" fill="#0000dc" stroke="#000" stroke-width="0.6"/>
<rect x="308.57" y="117.6" width="6.17" height="12.80" fill="#0000cc" stroke="#000" stroke-width="0.6"/>
<rect x="314.73" y="117.6" width="6.17" height="12.80" fill="#0000bc" stroke="#000" stroke-width="0.6"/>
<rect x="320.90" y="117.6" width="6.17" height="12.80" fill="#0000ac" stroke="#000" stroke-width="0.6"/>
<rect x="327.07" y="117.6" width="6.17" height="12.80" fill="#00009c" stroke="#000" stroke-width="0.6"/>
<rect x="333.23" y="117.6" width="6.17" height="12.80" fill="#00008c" stroke="#000" stroke-width="0.6"/>
<text transform="translate(160.57,138.90) scale(1,1.18)" font-size="5.6" text-anchor="middle" fill="#111" >-28</text>
<text transform="translate(172.90,138.90) scale(1,1.18)" font-size="5.6" text-anchor="middle" fill="#111" >-24</text>
<text transform="translate(185.23,138.90) scale(1,1.18)" font-size="5.6" text-anchor="middle" fill="#111" >-20</text>
<text transform="translate(197.57,138.90) scale(1,1.18)" font-size="5.6" text-anchor="middle" fill="#111" >-16</text>
<text transform="translate(209.90,138.90) scale(1,1.18)" font-size="5.6" text-anchor="middle" fill="#111" >-12</text>
<text transform="translate(222.23,138.90) scale(1,1.18)" font-size="5.6" text-anchor="middle" fill="#111" >-8</text>
<text transform="translate(234.57,138.90) scale(1,1.18)" font-size="5.6" text-anchor="middle" fill="#111" >-4</text>
<text transform="translate(246.90,138.90) scale(1,1.18)" font-size="5.6" text-anchor="middle" fill="#111" >0</text>
<text transform="translate(259.23,138.90) scale(1,1.18)" font-size="5.6" text-anchor="middle" fill="#111" >4</text>
<text transform="translate(271.57,138.90) scale(1,1.18)" font-size="5.6" text-anchor="middle" fill="#111" >8</text>
<text transform="translate(283.90,138.90) scale(1,1.18)" font-size="5.6" text-anchor="middle" fill="#111" >12</text>
<text transform="translate(296.23,138.90) scale(1,1.18)" font-size="5.6" text-anchor="middle" fill="#111" >16</text>
<text transform="translate(308.57,138.90) scale(1,1.18)" font-size="5.6" text-anchor="middle" fill="#111" >20</text>
<text transform="translate(320.90,138.90) scale(1,1.18)" font-size="5.6" text-anchor="middle" fill="#111" >24</text>
<text transform="translate(333.23,138.90) scale(1,1.18)" font-size="5.6" text-anchor="middle" fill="#111" >28</text>
<text transform="translate(348.50,126.80) scale(1,1.2)" font-size="7.2" text-anchor="start" fill="#111" stroke="#111" stroke-width="0.12">TWS (cm)</text>
<polyline points="41.10,218.30 45.20,209.60 50.70,202.50 54.30,204.90 57.40,210.60 60.40,213.70 64.10,208.60 67.50,209.60 72.60,205.50 78.70,201.50 84.00,198.40 88.10,195.40 93.10,199.40 97.20,196.40 101.30,195.40 104.30,189.30 106.40,180.10 110.00,176.30 114.10,170.20 119.10,164.80 124.20,166.80 127.30,165.20 130.30,162.50 132.80,164.10 135.40,175.30 139.50,189.60 142.50,200.70 145.60,202.80 150.70,197.70 154.70,190.60 160.00,186.50 165.10,186.70 169.10,187.40 172.20,193.50 176.30,200.60 179.30,205.70 182.40,202.60 185.40,193.50 189.50,189.00 193.50,187.00 197.60,187.90 200.10,189.40 204.10,186.30 208.20,185.30 211.30,189.40 215.30,202.60 219.40,198.50 224.50,197.50 228.50,199.10 231.60,195.50" fill="none" stroke="#ff2a2a" stroke-width="0.75" stroke-linejoin="round"/>
<polyline points="41.10,200.50 43.80,200.50 47.20,194.40 51.30,187.90 54.30,188.70 57.40,194.40 60.40,200.50 64.10,196.40 66.50,198.40 69.60,201.50 72.60,199.40 77.70,194.40 84.00,188.30 87.00,183.20 90.10,185.20 94.20,190.30 97.20,191.30 102.30,196.00 106.40,192.30 110.40,194.40 115.10,190.00 119.60,188.30 122.20,183.50 124.70,184.20 128.30,178.40 131.30,175.30 133.40,176.30 136.40,185.50 140.10,195.70 142.50,202.80 146.60,200.70 152.70,196.70 160.00,189.50 164.10,187.40 168.10,183.30 171.20,190.40 174.20,195.50 178.30,200.60 181.30,201.60 185.40,195.50 190.50,194.50 195.60,194.50 200.70,190.40 204.70,185.30 208.20,179.20 211.30,185.30 215.30,196.50 219.40,195.50 225.50,197.10 228.50,198.50 231.60,197.10" fill="none" stroke="#3a3aff" stroke-width="0.75" stroke-linejoin="round"/>
<polyline points="44.20,181.10 46.60,181.80 50.30,178.10" fill="none" stroke="#222222" stroke-width="0.7" stroke-linejoin="round"/>
<polyline points="57.40,198.00 60.00,204.10 62.50,202.50 67.50,208.60 70.60,202.10 76.70,191.30 79.70,188.30 84.00,183.20 86.40,184.20 90.10,191.30 94.20,198.40 98.20,202.50 103.30,206.10 107.40,202.50 110.40,200.50 113.00,192.60 116.10,185.50 119.10,189.60 122.20,184.50 125.20,183.50 129.30,178.40 132.40,179.40 135.40,187.50 139.50,194.60 142.50,203.80 147.60,200.70 153.70,197.70 160.00,187.50 163.00,180.20 165.70,176.80 169.10,184.30 172.20,194.50 176.30,199.60 180.30,203.60 183.40,201.60 186.40,197.50 190.50,194.50 193.50,190.40 195.60,185.30 198.60,187.40 201.70,181.30 204.70,178.20 207.80,178.20 211.30,185.30 214.30,194.50 217.40,198.50 221.40,204.00 225.50,201.20 228.50,201.60 231.60,194.50" fill="none" stroke="#222222" stroke-width="0.7" stroke-linejoin="round"/>
<rect x="34.65" y="156.5" width="199.95" height="68.40" fill="none" stroke="#000" stroke-width="1"/>
<line x1="37.60" y1="156.5" x2="37.60" y2="151.7" stroke="#000" stroke-width="1.0"/>
<line x1="37.60" y1="224.9" x2="37.60" y2="229.70000000000002" stroke="#000" stroke-width="1.0"/>
<text transform="translate(37.60,238.70) scale(1,1.15)" font-size="5.9" text-anchor="middle" fill="#111" >2003</text>
<line x1="44.17" y1="156.5" x2="44.17" y2="154.1" stroke="#000" stroke-width="0.7"/>
<line x1="44.17" y1="224.9" x2="44.17" y2="227.3" stroke="#000" stroke-width="0.7"/>
<line x1="50.74" y1="156.5" x2="50.74" y2="154.1" stroke="#000" stroke-width="0.7"/>
<line x1="50.74" y1="224.9" x2="50.74" y2="227.3" stroke="#000" stroke-width="0.7"/>
<line x1="57.30" y1="156.5" x2="57.30" y2="154.1" stroke="#000" stroke-width="0.7"/>
<line x1="57.30" y1="224.9" x2="57.30" y2="227.3" stroke="#000" stroke-width="0.7"/>
<line x1="63.87" y1="156.5" x2="63.87" y2="154.1" stroke="#000" stroke-width="0.7"/>
<line x1="63.87" y1="224.9" x2="63.87" y2="227.3" stroke="#000" stroke-width="0.7"/>
<line x1="70.44" y1="156.5" x2="70.44" y2="154.1" stroke="#000" stroke-width="0.7"/>
<line x1="70.44" y1="224.9" x2="70.44" y2="227.3" stroke="#000" stroke-width="0.7"/>
<line x1="77.00" y1="156.5" x2="77.00" y2="151.7" stroke="#000" stroke-width="1.0"/>
<line x1="77.00" y1="224.9" x2="77.00" y2="229.70000000000002" stroke="#000" stroke-width="1.0"/>
<text transform="translate(77.00,238.70) scale(1,1.15)" font-size="5.9" text-anchor="middle" fill="#111" >2004</text>
<line x1="83.57" y1="156.5" x2="83.57" y2="154.1" stroke="#000" stroke-width="0.7"/>
<line x1="83.57" y1="224.9" x2="83.57" y2="227.3" stroke="#000" stroke-width="0.7"/>
<line x1="90.14" y1="156.5" x2="90.14" y2="154.1" stroke="#000" stroke-width="0.7"/>
<line x1="90.14" y1="224.9" x2="90.14" y2="227.3" stroke="#000" stroke-width="0.7"/>
<line x1="96.70" y1="156.5" x2="96.70" y2="154.1" stroke="#000" stroke-width="0.7"/>
<line x1="96.70" y1="224.9" x2="96.70" y2="227.3" stroke="#000" stroke-width="0.7"/>
<line x1="103.27" y1="156.5" x2="103.27" y2="154.1" stroke="#000" stroke-width="0.7"/>
<line x1="103.27" y1="224.9" x2="103.27" y2="227.3" stroke="#000" stroke-width="0.7"/>
<line x1="109.84" y1="156.5" x2="109.84" y2="154.1" stroke="#000" stroke-width="0.7"/>
<line x1="109.84" y1="224.9" x2="109.84" y2="227.3" stroke="#000" stroke-width="0.7"/>
<line x1="116.40" y1="156.5" x2="116.40" y2="151.7" stroke="#000" stroke-width="1.0"/>
<line x1="116.40" y1="224.9" x2="116.40" y2="229.70000000000002" stroke="#000" stroke-width="1.0"/>
<text transform="translate(116.40,238.70) scale(1,1.15)" font-size="5.9" text-anchor="middle" fill="#111" >2005</text>
<line x1="122.97" y1="156.5" x2="122.97" y2="154.1" stroke="#000" stroke-width="0.7"/>
<line x1="122.97" y1="224.9" x2="122.97" y2="227.3" stroke="#000" stroke-width="0.7"/>
<line x1="129.54" y1="156.5" x2="129.54" y2="154.1" stroke="#000" stroke-width="0.7"/>
<line x1="129.54" y1="224.9" x2="129.54" y2="227.3" stroke="#000" stroke-width="0.7"/>
<line x1="136.10" y1="156.5" x2="136.10" y2="154.1" stroke="#000" stroke-width="0.7"/>
<line x1="136.10" y1="224.9" x2="136.10" y2="227.3" stroke="#000" stroke-width="0.7"/>
<line x1="142.67" y1="156.5" x2="142.67" y2="154.1" stroke="#000" stroke-width="0.7"/>
<line x1="142.67" y1="224.9" x2="142.67" y2="227.3" stroke="#000" stroke-width="0.7"/>
<line x1="149.24" y1="156.5" x2="149.24" y2="154.1" stroke="#000" stroke-width="0.7"/>
<line x1="149.24" y1="224.9" x2="149.24" y2="227.3" stroke="#000" stroke-width="0.7"/>
<line x1="155.80" y1="156.5" x2="155.80" y2="151.7" stroke="#000" stroke-width="1.0"/>
<line x1="155.80" y1="224.9" x2="155.80" y2="229.70000000000002" stroke="#000" stroke-width="1.0"/>
<text transform="translate(155.80,238.70) scale(1,1.15)" font-size="5.9" text-anchor="middle" fill="#111" >2006</text>
<line x1="162.37" y1="156.5" x2="162.37" y2="154.1" stroke="#000" stroke-width="0.7"/>
<line x1="162.37" y1="224.9" x2="162.37" y2="227.3" stroke="#000" stroke-width="0.7"/>
<line x1="168.93" y1="156.5" x2="168.93" y2="154.1" stroke="#000" stroke-width="0.7"/>
<line x1="168.93" y1="224.9" x2="168.93" y2="227.3" stroke="#000" stroke-width="0.7"/>
<line x1="175.50" y1="156.5" x2="175.50" y2="154.1" stroke="#000" stroke-width="0.7"/>
<line x1="175.50" y1="224.9" x2="175.50" y2="227.3" stroke="#000" stroke-width="0.7"/>
<line x1="182.07" y1="156.5" x2="182.07" y2="154.1" stroke="#000" stroke-width="0.7"/>
<line x1="182.07" y1="224.9" x2="182.07" y2="227.3" stroke="#000" stroke-width="0.7"/>
<line x1="188.63" y1="156.5" x2="188.63" y2="154.1" stroke="#000" stroke-width="0.7"/>
<line x1="188.63" y1="224.9" x2="188.63" y2="227.3" stroke="#000" stroke-width="0.7"/>
<line x1="195.20" y1="156.5" x2="195.20" y2="151.7" stroke="#000" stroke-width="1.0"/>
<line x1="195.20" y1="224.9" x2="195.20" y2="229.70000000000002" stroke="#000" stroke-width="1.0"/>
<text transform="translate(195.20,238.70) scale(1,1.15)" font-size="5.9" text-anchor="middle" fill="#111" >2007</text>
<line x1="201.77" y1="156.5" x2="201.77" y2="154.1" stroke="#000" stroke-width="0.7"/>
<line x1="201.77" y1="224.9" x2="201.77" y2="227.3" stroke="#000" stroke-width="0.7"/>
<line x1="208.33" y1="156.5" x2="208.33" y2="154.1" stroke="#000" stroke-width="0.7"/>
<line x1="208.33" y1="224.9" x2="208.33" y2="227.3" stroke="#000" stroke-width="0.7"/>
<line x1="214.90" y1="156.5" x2="214.90" y2="154.1" stroke="#000" stroke-width="0.7"/>
<line x1="214.90" y1="224.9" x2="214.90" y2="227.3" stroke="#000" stroke-width="0.7"/>
<line x1="221.47" y1="156.5" x2="221.47" y2="154.1" stroke="#000" stroke-width="0.7"/>
<line x1="221.47" y1="224.9" x2="221.47" y2="227.3" stroke="#000" stroke-width="0.7"/>
<line x1="228.03" y1="156.5" x2="228.03" y2="154.1" stroke="#000" stroke-width="0.7"/>
<line x1="228.03" y1="224.9" x2="228.03" y2="227.3" stroke="#000" stroke-width="0.7"/>
<line x1="234.60" y1="156.5" x2="234.60" y2="151.7" stroke="#000" stroke-width="1.0"/>
<line x1="234.60" y1="224.9" x2="234.60" y2="229.70000000000002" stroke="#000" stroke-width="1.0"/>
<text transform="translate(234.60,238.70) scale(1,1.15)" font-size="5.9" text-anchor="middle" fill="#111" >2008</text>
<line x1="34.65" y1="224.90" x2="29.849999999999998" y2="224.90" stroke="#000" stroke-width="1"/>
<line x1="234.6" y1="224.90" x2="239.4" y2="224.90" stroke="#000" stroke-width="1"/>
<text transform="translate(26.15,227.20) scale(1,1.15)" font-size="5.9" text-anchor="end" fill="#111" >-12</text>
<line x1="34.65" y1="214.38" x2="29.849999999999998" y2="214.38" stroke="#000" stroke-width="1"/>
<line x1="234.6" y1="214.38" x2="239.4" y2="214.38" stroke="#000" stroke-width="1"/>
<text transform="translate(26.15,216.68) scale(1,1.15)" font-size="5.9" text-anchor="end" fill="#111" >-8</text>
<line x1="34.65" y1="203.85" x2="29.849999999999998" y2="203.85" stroke="#000" stroke-width="1"/>
<line x1="234.6" y1="203.85" x2="239.4" y2="203.85" stroke="#000" stroke-width="1"/>
<text transform="translate(26.15,206.15) scale(1,1.15)" font-size="5.9" text-anchor="end" fill="#111" >-4</text>
<line x1="34.65" y1="193.33" x2="29.849999999999998" y2="193.33" stroke="#000" stroke-width="1"/>
<line x1="234.6" y1="193.33" x2="239.4" y2="193.33" stroke="#000" stroke-width="1"/>
<text transform="translate(26.15,195.63) scale(1,1.15)" font-size="5.9" text-anchor="end" fill="#111" >0</text>
<line x1="34.65" y1="182.81" x2="29.849999999999998" y2="182.81" stroke="#000" stroke-width="1"/>
<line x1="234.6" y1="182.81" x2="239.4" y2="182.81" stroke="#000" stroke-width="1"/>
<text transform="translate(26.15,185.11) scale(1,1.15)" font-size="5.9" text-anchor="end" fill="#111" >4</text>
<line x1="34.65" y1="172.28" x2="29.849999999999998" y2="172.28" stroke="#000" stroke-width="1"/>
<line x1="234.6" y1="172.28" x2="239.4" y2="172.28" stroke="#000" stroke-width="1"/>
<text transform="translate(26.15,174.58) scale(1,1.15)" font-size="5.9" text-anchor="end" fill="#111" >8</text>
<line x1="34.65" y1="161.76" x2="29.849999999999998" y2="161.76" stroke="#000" stroke-width="1"/>
<line x1="234.6" y1="161.76" x2="239.4" y2="161.76" stroke="#000" stroke-width="1"/>
<text transform="translate(26.15,164.06) scale(1,1.15)" font-size="5.9" text-anchor="end" fill="#111" >12</text>
<text x="0" y="0" font-size="7.6" text-anchor="middle" fill="#111" transform="translate(10.20,191.50) rotate(-90)">TWS (cm)</text>
<text transform="translate(34.15,149.90) scale(1,1.2)" font-size="7.7" text-anchor="start" fill="#111" >Location A (elev=3840 m)</text>
<text x="231.10" y="219.70" font-size="7.1" text-anchor="end" fill="#111" >(d)</text>
<polyline points="288.50,204.60 292.20,196.50 295.20,188.40 299.30,184.30 302.30,184.30 305.40,190.40 308.40,197.10 312.10,195.50 315.50,199.60 318.60,200.60 322.60,198.50 326.70,195.50 332.00,192.90 338.10,194.50 343.20,197.50 348.30,200.60 352.30,203.20 357.40,199.60 362.50,193.50 367.60,190.40 371.60,188.40 375.70,190.40 379.80,187.40 382.00,188.50 386.10,195.60 391.10,200.70 394.20,202.70 399.30,192.50 403.30,190.50 409.40,190.90 414.50,190.10 419.60,193.50 422.60,198.60 426.70,202.70 432.00,206.20 436.10,206.30 440.10,201.70 444.20,197.60 448.30,186.40 452.30,184.40 456.40,180.30 460.50,176.30 463.80,182.20 467.10,189.50 474.40,194.40 480.90,194.40 485.00,190.80" fill="none" stroke="#ff2a2a" stroke-width="0.75" stroke-linejoin="round"/>
<polyline points="288.50,208.70 292.20,202.60 295.20,193.50 298.70,185.30 302.30,184.30 306.40,192.40 309.40,198.50 312.50,195.50 316.60,201.60 319.60,203.60 324.70,198.50 328.70,192.40 332.00,187.90 336.10,188.40 340.10,191.40 346.20,198.50 352.30,201.60 358.40,197.50 363.50,191.40 367.60,187.40 371.60,187.40 375.70,184.30 379.80,180.20 382.00,180.30 385.00,190.50 390.10,197.60 393.20,202.70 396.20,200.70 400.30,194.60 405.40,195.00 411.50,192.50 416.60,187.40 419.60,187.40 422.60,196.60 426.70,199.60 432.00,204.70 436.10,205.70 440.10,200.70 444.20,196.60 448.30,185.40 452.30,185.40 456.40,181.30 460.50,177.30 466.30,193.60 469.50,197.60 474.40,202.50 478.50,203.30 481.70,202.50 485.00,198.50" fill="none" stroke="#3a3aff" stroke-width="0.75" stroke-linejoin="round"/>
<polyline points="292.60,182.30 295.20,182.30 298.70,178.80" fill="none" stroke="#222222" stroke-width="0.7" stroke-linejoin="round"/>
<polyline points="305.40,200.00 308.40,203.60 310.50,201.60 314.50,208.70 317.60,204.60 321.60,199.60 325.70,190.40 327.70,189.40 332.00,184.30 335.00,185.30 338.10,189.40 342.20,196.50 346.20,202.60 350.30,206.70 353.30,206.70 356.40,202.60 360.50,195.50 363.50,189.40 366.60,185.30 368.60,190.40 371.60,186.30 374.70,184.30 377.70,181.30 379.80,179.60 382.00,179.30 384.00,181.30 387.10,191.50 390.10,196.60 393.20,206.70 396.20,206.70 400.30,201.70 403.30,200.70 407.40,191.50 412.50,184.40 417.00,177.30 419.60,183.40 422.60,195.60 425.70,198.60 429.80,203.70 432.00,204.30 435.00,205.70 438.10,202.70 441.10,197.60 444.20,196.60 447.90,186.00 450.30,188.50 453.30,182.40 457.40,178.70 460.50,177.30 463.80,186.30 467.90,196.00 471.10,200.10 474.10,205.00 476.80,203.30 480.10,202.50 482.50,201.70 485.00,195.20" fill="none" stroke="#222222" stroke-width="0.7" stroke-linejoin="round"/>
<rect x="282.2" y="156.3" width="205.40" height="70.20" fill="none" stroke="#000" stroke-width="1"/>
<line x1="285.24" y1="156.3" x2="285.24" y2="151.5" stroke="#000" stroke-width="1.0"/>
<line x1="285.24" y1="226.5" x2="285.24" y2="231.3" stroke="#000" stroke-width="1.0"/>
<text transform="translate(285.24,240.30) scale(1,1.15)" font-size="5.9" text-anchor="middle" fill="#111" >2003</text>
<line x1="291.98" y1="156.3" x2="291.98" y2="153.9" stroke="#000" stroke-width="0.7"/>
<line x1="291.98" y1="226.5" x2="291.98" y2="228.9" stroke="#000" stroke-width="0.7"/>
<line x1="298.73" y1="156.3" x2="298.73" y2="153.9" stroke="#000" stroke-width="0.7"/>
<line x1="298.73" y1="226.5" x2="298.73" y2="228.9" stroke="#000" stroke-width="0.7"/>
<line x1="305.47" y1="156.3" x2="305.47" y2="153.9" stroke="#000" stroke-width="0.7"/>
<line x1="305.47" y1="226.5" x2="305.47" y2="228.9" stroke="#000" stroke-width="0.7"/>
<line x1="312.22" y1="156.3" x2="312.22" y2="153.9" stroke="#000" stroke-width="0.7"/>
<line x1="312.22" y1="226.5" x2="312.22" y2="228.9" stroke="#000" stroke-width="0.7"/>
<line x1="318.96" y1="156.3" x2="318.96" y2="153.9" stroke="#000" stroke-width="0.7"/>
<line x1="318.96" y1="226.5" x2="318.96" y2="228.9" stroke="#000" stroke-width="0.7"/>
<line x1="325.71" y1="156.3" x2="325.71" y2="151.5" stroke="#000" stroke-width="1.0"/>
<line x1="325.71" y1="226.5" x2="325.71" y2="231.3" stroke="#000" stroke-width="1.0"/>
<text transform="translate(325.71,240.30) scale(1,1.15)" font-size="5.9" text-anchor="middle" fill="#111" >2004</text>
<line x1="332.45" y1="156.3" x2="332.45" y2="153.9" stroke="#000" stroke-width="0.7"/>
<line x1="332.45" y1="226.5" x2="332.45" y2="228.9" stroke="#000" stroke-width="0.7"/>
<line x1="339.20" y1="156.3" x2="339.20" y2="153.9" stroke="#000" stroke-width="0.7"/>
<line x1="339.20" y1="226.5" x2="339.20" y2="228.9" stroke="#000" stroke-width="0.7"/>
<line x1="345.94" y1="156.3" x2="345.94" y2="153.9" stroke="#000" stroke-width="0.7"/>
<line x1="345.94" y1="226.5" x2="345.94" y2="228.9" stroke="#000" stroke-width="0.7"/>
<line x1="352.69" y1="156.3" x2="352.69" y2="153.9" stroke="#000" stroke-width="0.7"/>
<line x1="352.69" y1="226.5" x2="352.69" y2="228.9" stroke="#000" stroke-width="0.7"/>
<line x1="359.44" y1="156.3" x2="359.44" y2="153.9" stroke="#000" stroke-width="0.7"/>
<line x1="359.44" y1="226.5" x2="359.44" y2="228.9" stroke="#000" stroke-width="0.7"/>
<line x1="366.18" y1="156.3" x2="366.18" y2="151.5" stroke="#000" stroke-width="1.0"/>
<line x1="366.18" y1="226.5" x2="366.18" y2="231.3" stroke="#000" stroke-width="1.0"/>
<text transform="translate(366.18,240.30) scale(1,1.15)" font-size="5.9" text-anchor="middle" fill="#111" >2005</text>
<line x1="372.93" y1="156.3" x2="372.93" y2="153.9" stroke="#000" stroke-width="0.7"/>
<line x1="372.93" y1="226.5" x2="372.93" y2="228.9" stroke="#000" stroke-width="0.7"/>
<line x1="379.67" y1="156.3" x2="379.67" y2="153.9" stroke="#000" stroke-width="0.7"/>
<line x1="379.67" y1="226.5" x2="379.67" y2="228.9" stroke="#000" stroke-width="0.7"/>
<line x1="386.42" y1="156.3" x2="386.42" y2="153.9" stroke="#000" stroke-width="0.7"/>
<line x1="386.42" y1="226.5" x2="386.42" y2="228.9" stroke="#000" stroke-width="0.7"/>
<line x1="393.16" y1="156.3" x2="393.16" y2="153.9" stroke="#000" stroke-width="0.7"/>
<line x1="393.16" y1="226.5" x2="393.16" y2="228.9" stroke="#000" stroke-width="0.7"/>
<line x1="399.91" y1="156.3" x2="399.91" y2="153.9" stroke="#000" stroke-width="0.7"/>
<line x1="399.91" y1="226.5" x2="399.91" y2="228.9" stroke="#000" stroke-width="0.7"/>
<line x1="406.65" y1="156.3" x2="406.65" y2="151.5" stroke="#000" stroke-width="1.0"/>
<line x1="406.65" y1="226.5" x2="406.65" y2="231.3" stroke="#000" stroke-width="1.0"/>
<text transform="translate(406.65,240.30) scale(1,1.15)" font-size="5.9" text-anchor="middle" fill="#111" >2006</text>
<line x1="413.40" y1="156.3" x2="413.40" y2="153.9" stroke="#000" stroke-width="0.7"/>
<line x1="413.40" y1="226.5" x2="413.40" y2="228.9" stroke="#000" stroke-width="0.7"/>
<line x1="420.15" y1="156.3" x2="420.15" y2="153.9" stroke="#000" stroke-width="0.7"/>
<line x1="420.15" y1="226.5" x2="420.15" y2="228.9" stroke="#000" stroke-width="0.7"/>
<line x1="426.89" y1="156.3" x2="426.89" y2="153.9" stroke="#000" stroke-width="0.7"/>
<line x1="426.89" y1="226.5" x2="426.89" y2="228.9" stroke="#000" stroke-width="0.7"/>
<line x1="433.64" y1="156.3" x2="433.64" y2="153.9" stroke="#000" stroke-width="0.7"/>
<line x1="433.64" y1="226.5" x2="433.64" y2="228.9" stroke="#000" stroke-width="0.7"/>
<line x1="440.38" y1="156.3" x2="440.38" y2="153.9" stroke="#000" stroke-width="0.7"/>
<line x1="440.38" y1="226.5" x2="440.38" y2="228.9" stroke="#000" stroke-width="0.7"/>
<line x1="447.13" y1="156.3" x2="447.13" y2="151.5" stroke="#000" stroke-width="1.0"/>
<line x1="447.13" y1="226.5" x2="447.13" y2="231.3" stroke="#000" stroke-width="1.0"/>
<text transform="translate(447.13,240.30) scale(1,1.15)" font-size="5.9" text-anchor="middle" fill="#111" >2007</text>
<line x1="453.87" y1="156.3" x2="453.87" y2="153.9" stroke="#000" stroke-width="0.7"/>
<line x1="453.87" y1="226.5" x2="453.87" y2="228.9" stroke="#000" stroke-width="0.7"/>
<line x1="460.62" y1="156.3" x2="460.62" y2="153.9" stroke="#000" stroke-width="0.7"/>
<line x1="460.62" y1="226.5" x2="460.62" y2="228.9" stroke="#000" stroke-width="0.7"/>
<line x1="467.36" y1="156.3" x2="467.36" y2="153.9" stroke="#000" stroke-width="0.7"/>
<line x1="467.36" y1="226.5" x2="467.36" y2="228.9" stroke="#000" stroke-width="0.7"/>
<line x1="474.11" y1="156.3" x2="474.11" y2="153.9" stroke="#000" stroke-width="0.7"/>
<line x1="474.11" y1="226.5" x2="474.11" y2="228.9" stroke="#000" stroke-width="0.7"/>
<line x1="480.85" y1="156.3" x2="480.85" y2="153.9" stroke="#000" stroke-width="0.7"/>
<line x1="480.85" y1="226.5" x2="480.85" y2="228.9" stroke="#000" stroke-width="0.7"/>
<line x1="487.60" y1="156.3" x2="487.60" y2="151.5" stroke="#000" stroke-width="1.0"/>
<line x1="487.60" y1="226.5" x2="487.60" y2="231.3" stroke="#000" stroke-width="1.0"/>
<text transform="translate(487.60,240.30) scale(1,1.15)" font-size="5.9" text-anchor="middle" fill="#111" >2008</text>
<line x1="282.2" y1="226.50" x2="277.4" y2="226.50" stroke="#000" stroke-width="1"/>
<line x1="487.6" y1="226.50" x2="492.40000000000003" y2="226.50" stroke="#000" stroke-width="1"/>
<text transform="translate(273.70,228.80) scale(1,1.15)" font-size="5.9" text-anchor="end" fill="#111" >-12</text>
<line x1="282.2" y1="215.70" x2="277.4" y2="215.70" stroke="#000" stroke-width="1"/>
<line x1="487.6" y1="215.70" x2="492.40000000000003" y2="215.70" stroke="#000" stroke-width="1"/>
<text transform="translate(273.70,218.00) scale(1,1.15)" font-size="5.9" text-anchor="end" fill="#111" >-8</text>
<line x1="282.2" y1="204.90" x2="277.4" y2="204.90" stroke="#000" stroke-width="1"/>
<line x1="487.6" y1="204.90" x2="492.40000000000003" y2="204.90" stroke="#000" stroke-width="1"/>
<text transform="translate(273.70,207.20) scale(1,1.15)" font-size="5.9" text-anchor="end" fill="#111" >-4</text>
<line x1="282.2" y1="194.10" x2="277.4" y2="194.10" stroke="#000" stroke-width="1"/>
<line x1="487.6" y1="194.10" x2="492.40000000000003" y2="194.10" stroke="#000" stroke-width="1"/>
<text transform="translate(273.70,196.40) scale(1,1.15)" font-size="5.9" text-anchor="end" fill="#111" >0</text>
<line x1="282.2" y1="183.30" x2="277.4" y2="183.30" stroke="#000" stroke-width="1"/>
<line x1="487.6" y1="183.30" x2="492.40000000000003" y2="183.30" stroke="#000" stroke-width="1"/>
<text transform="translate(273.70,185.60) scale(1,1.15)" font-size="5.9" text-anchor="end" fill="#111" >4</text>
<line x1="282.2" y1="172.50" x2="277.4" y2="172.50" stroke="#000" stroke-width="1"/>
<line x1="487.6" y1="172.50" x2="492.40000000000003" y2="172.50" stroke="#000" stroke-width="1"/>
<text transform="translate(273.70,174.80) scale(1,1.15)" font-size="5.9" text-anchor="end" fill="#111" >8</text>
<line x1="282.2" y1="161.70" x2="277.4" y2="161.70" stroke="#000" stroke-width="1"/>
<line x1="487.6" y1="161.70" x2="492.40000000000003" y2="161.70" stroke="#000" stroke-width="1"/>
<text transform="translate(273.70,164.00) scale(1,1.15)" font-size="5.9" text-anchor="end" fill="#111" >12</text>
<text x="0" y="0" font-size="7.6" text-anchor="middle" fill="#111" transform="translate(258.50,192.00) rotate(-90)">TWS (cm)</text>
<text transform="translate(281.70,149.70) scale(1,1.2)" font-size="7.7" text-anchor="start" fill="#111" >Location B (elev=1418 m)</text>
<text x="484.10" y="221.30" font-size="7.1" text-anchor="end" fill="#111" >(e)</text>
<line x1="310.9" y1="163.5" x2="323.2" y2="163.5" stroke="#111" stroke-width="0.8"/>
<text transform="translate(324.20,165.80) scale(1,1.15)" font-size="5.9" text-anchor="start" fill="#111" >GRACE obs</text>
<line x1="310.9" y1="171.5" x2="323.2" y2="171.5" stroke="#7070ff" stroke-width="1.4"/>
<text transform="translate(324.20,173.20) scale(1,1.15)" font-size="5.9" text-anchor="start" fill="#111" >GRACE DA</text>
<line x1="310.9" y1="178.5" x2="323.2" y2="178.5" stroke="#ff3030" stroke-width="0.8"/>
<text transform="translate(324.20,179.90) scale(1,1.15)" font-size="5.9" text-anchor="start" fill="#111" >open loop</text>
</svg></body></html>
